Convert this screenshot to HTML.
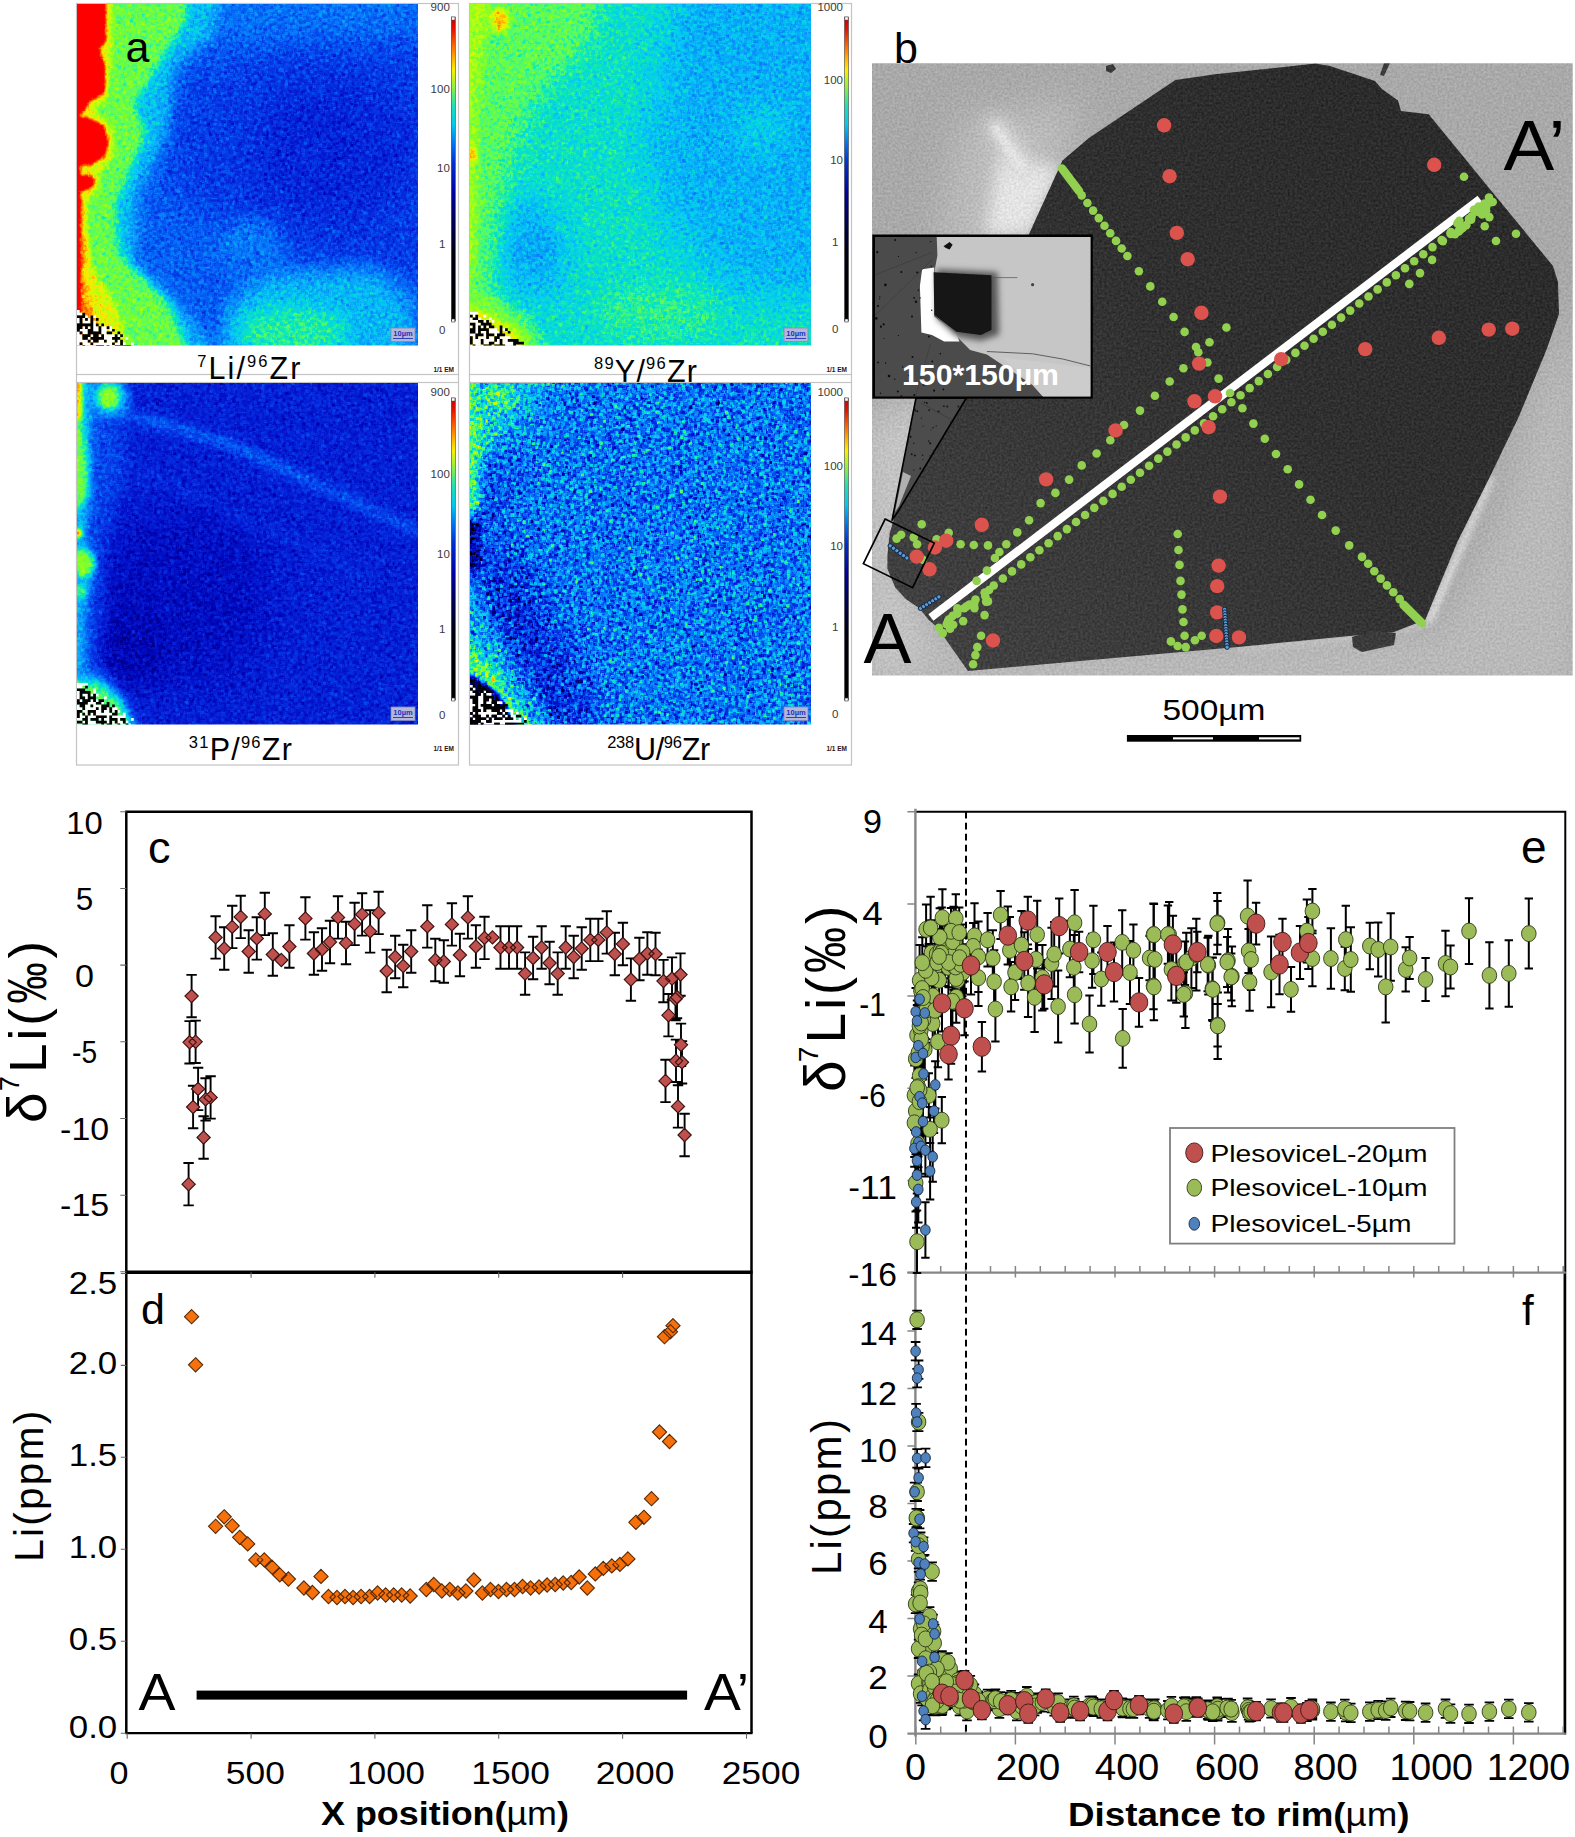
<!DOCTYPE html>
<html><head><meta charset="utf-8"><title>Figure</title>
<style>html,body{margin:0;padding:0;background:#fff}svg{display:block}text{font-family:"Liberation Sans", "DejaVu Sans", sans-serif}</style>
</head><body>
<svg width="1575" height="1837" viewBox="0 0 1575 1837">
<rect width="1575" height="1837" fill="#fff"/>
<defs>
<filter id="hf1" filterUnits="userSpaceOnUse" x="32" y="-41" width="431" height="431" color-interpolation-filters="sRGB">
<feTurbulence type="fractalNoise" baseFrequency="0.42" numOctaves="2" seed="3" result="n1"/>
<feColorMatrix in="n1" type="matrix" values="1 0 0 0 0 1 0 0 0 0 1 0 0 0 0 0 0 0 0 1" result="g1"/>
<feMorphology in="g1" operator="dilate" radius="1.1" result="d1"/>
<feTurbulence type="fractalNoise" baseFrequency="0.42" numOctaves="2" seed="34" result="n2"/>
<feColorMatrix in="n2" type="matrix" values="1 0 0 0 0 1 0 0 0 0 1 0 0 0 0 0 0 0 0 1" result="g2"/>
<feMorphology in="g2" operator="erode" radius="1.1" result="d2"/>
<feComposite in="SourceGraphic" in2="d1" operator="arithmetic" k1="0" k2="1" k3="0.24" k4="-0.120" result="t"/>
<feComposite in="t" in2="d2" operator="arithmetic" k1="0" k2="1" k3="0.24" k4="-0.120" result="f"/>
<feComponentTransfer in="f"><feFuncR type="table" tableValues="0.000 0.000 0.000 0.020 0.020 0.020 0.039 0.020 0.039 0.314 0.510 0.725 0.980 1.000 1.000 1.000 1.000 1.000 1.000"/><feFuncG type="table" tableValues="0.000 0.000 0.000 0.098 0.235 0.412 0.588 0.784 0.902 0.980 1.000 1.000 0.922 0.647 0.373 0.098 0.000 0.000 0.000"/><feFuncB type="table" tableValues="0.000 0.353 0.667 0.824 0.910 0.973 0.980 0.961 0.745 0.431 0.157 0.059 0.000 0.000 0.000 0.000 0.000 0.000 0.000"/></feComponentTransfer></filter>
<clipPath id="hc1"><rect x="77" y="4" width="341" height="341.5"/></clipPath>
<filter id="hf2" filterUnits="userSpaceOnUse" x="425" y="-41" width="431" height="431" color-interpolation-filters="sRGB">
<feTurbulence type="fractalNoise" baseFrequency="0.42" numOctaves="2" seed="7" result="n1"/>
<feColorMatrix in="n1" type="matrix" values="1 0 0 0 0 1 0 0 0 0 1 0 0 0 0 0 0 0 0 1" result="g1"/>
<feMorphology in="g1" operator="dilate" radius="1.1" result="d1"/>
<feTurbulence type="fractalNoise" baseFrequency="0.42" numOctaves="2" seed="38" result="n2"/>
<feColorMatrix in="n2" type="matrix" values="1 0 0 0 0 1 0 0 0 0 1 0 0 0 0 0 0 0 0 1" result="g2"/>
<feMorphology in="g2" operator="erode" radius="1.1" result="d2"/>
<feComposite in="SourceGraphic" in2="d1" operator="arithmetic" k1="0" k2="1" k3="0.24" k4="-0.120" result="t"/>
<feComposite in="t" in2="d2" operator="arithmetic" k1="0" k2="1" k3="0.24" k4="-0.120" result="f"/>
<feComponentTransfer in="f"><feFuncR type="table" tableValues="0.000 0.000 0.000 0.020 0.020 0.020 0.039 0.020 0.039 0.314 0.510 0.725 0.980 1.000 1.000 1.000 1.000 1.000 1.000"/><feFuncG type="table" tableValues="0.000 0.000 0.000 0.098 0.235 0.412 0.588 0.784 0.902 0.980 1.000 1.000 0.922 0.647 0.373 0.098 0.000 0.000 0.000"/><feFuncB type="table" tableValues="0.000 0.353 0.667 0.824 0.910 0.973 0.980 0.961 0.745 0.431 0.157 0.059 0.000 0.000 0.000 0.000 0.000 0.000 0.000"/></feComponentTransfer></filter>
<clipPath id="hc2"><rect x="470" y="4" width="341" height="341.5"/></clipPath>
<filter id="hf3" filterUnits="userSpaceOnUse" x="32" y="338" width="431" height="431" color-interpolation-filters="sRGB">
<feTurbulence type="fractalNoise" baseFrequency="0.42" numOctaves="2" seed="11" result="n1"/>
<feColorMatrix in="n1" type="matrix" values="1 0 0 0 0 1 0 0 0 0 1 0 0 0 0 0 0 0 0 1" result="g1"/>
<feMorphology in="g1" operator="dilate" radius="1.1" result="d1"/>
<feTurbulence type="fractalNoise" baseFrequency="0.42" numOctaves="2" seed="42" result="n2"/>
<feColorMatrix in="n2" type="matrix" values="1 0 0 0 0 1 0 0 0 0 1 0 0 0 0 0 0 0 0 1" result="g2"/>
<feMorphology in="g2" operator="erode" radius="1.1" result="d2"/>
<feComposite in="SourceGraphic" in2="d1" operator="arithmetic" k1="0" k2="1" k3="0.22" k4="-0.110" result="t"/>
<feComposite in="t" in2="d2" operator="arithmetic" k1="0" k2="1" k3="0.22" k4="-0.110" result="f"/>
<feComponentTransfer in="f"><feFuncR type="table" tableValues="0.000 0.000 0.000 0.020 0.020 0.020 0.039 0.020 0.039 0.314 0.510 0.725 0.980 1.000 1.000 1.000 1.000 1.000 1.000"/><feFuncG type="table" tableValues="0.000 0.000 0.000 0.098 0.235 0.412 0.588 0.784 0.902 0.980 1.000 1.000 0.922 0.647 0.373 0.098 0.000 0.000 0.000"/><feFuncB type="table" tableValues="0.000 0.353 0.667 0.824 0.910 0.973 0.980 0.961 0.745 0.431 0.157 0.059 0.000 0.000 0.000 0.000 0.000 0.000 0.000"/></feComponentTransfer></filter>
<clipPath id="hc3"><rect x="77" y="383" width="341" height="341.5"/></clipPath>
<filter id="hf4" filterUnits="userSpaceOnUse" x="425" y="338" width="431" height="431" color-interpolation-filters="sRGB">
<feTurbulence type="fractalNoise" baseFrequency="0.42" numOctaves="2" seed="17" result="n1"/>
<feColorMatrix in="n1" type="matrix" values="1 0 0 0 0 1 0 0 0 0 1 0 0 0 0 0 0 0 0 1" result="g1"/>
<feMorphology in="g1" operator="dilate" radius="1.1" result="d1"/>
<feTurbulence type="fractalNoise" baseFrequency="0.42" numOctaves="2" seed="48" result="n2"/>
<feColorMatrix in="n2" type="matrix" values="1 0 0 0 0 1 0 0 0 0 1 0 0 0 0 0 0 0 0 1" result="g2"/>
<feMorphology in="g2" operator="erode" radius="1.1" result="d2"/>
<feComposite in="SourceGraphic" in2="d1" operator="arithmetic" k1="0" k2="1" k3="0.72" k4="-0.360" result="t"/>
<feComposite in="t" in2="d2" operator="arithmetic" k1="0" k2="1" k3="0.72" k4="-0.360" result="f"/>
<feComponentTransfer in="f"><feFuncR type="table" tableValues="0.000 0.000 0.000 0.020 0.020 0.020 0.039 0.020 0.039 0.314 0.510 0.725 0.980 1.000 1.000 1.000 1.000 1.000 1.000"/><feFuncG type="table" tableValues="0.000 0.000 0.000 0.098 0.235 0.412 0.588 0.784 0.902 0.980 1.000 1.000 0.922 0.647 0.373 0.098 0.000 0.000 0.000"/><feFuncB type="table" tableValues="0.000 0.353 0.667 0.824 0.910 0.973 0.980 0.961 0.745 0.431 0.157 0.059 0.000 0.000 0.000 0.000 0.000 0.000 0.000"/></feComponentTransfer></filter>
<clipPath id="hc4"><rect x="470" y="383" width="341" height="341.5"/></clipPath>
<filter id="hb2" filterUnits="userSpaceOnUse" x="-120" y="-120" width="600" height="600" color-interpolation-filters="sRGB"><feGaussianBlur stdDeviation="2"/></filter>
<filter id="hb3" filterUnits="userSpaceOnUse" x="-120" y="-120" width="600" height="600" color-interpolation-filters="sRGB"><feGaussianBlur stdDeviation="3"/></filter>
<filter id="hb3_5" filterUnits="userSpaceOnUse" x="-120" y="-120" width="600" height="600" color-interpolation-filters="sRGB"><feGaussianBlur stdDeviation="3.5"/></filter>
<filter id="hb4" filterUnits="userSpaceOnUse" x="-120" y="-120" width="600" height="600" color-interpolation-filters="sRGB"><feGaussianBlur stdDeviation="4"/></filter>
<filter id="hb4_5" filterUnits="userSpaceOnUse" x="-120" y="-120" width="600" height="600" color-interpolation-filters="sRGB"><feGaussianBlur stdDeviation="4.5"/></filter>
<filter id="hb5" filterUnits="userSpaceOnUse" x="-120" y="-120" width="600" height="600" color-interpolation-filters="sRGB"><feGaussianBlur stdDeviation="5"/></filter>
<filter id="hb6" filterUnits="userSpaceOnUse" x="-120" y="-120" width="600" height="600" color-interpolation-filters="sRGB"><feGaussianBlur stdDeviation="6"/></filter>
<filter id="hb7" filterUnits="userSpaceOnUse" x="-120" y="-120" width="600" height="600" color-interpolation-filters="sRGB"><feGaussianBlur stdDeviation="7"/></filter>
<filter id="hb8" filterUnits="userSpaceOnUse" x="-120" y="-120" width="600" height="600" color-interpolation-filters="sRGB"><feGaussianBlur stdDeviation="8"/></filter>
<filter id="hb10" filterUnits="userSpaceOnUse" x="-120" y="-120" width="600" height="600" color-interpolation-filters="sRGB"><feGaussianBlur stdDeviation="10"/></filter>
<filter id="hb12" filterUnits="userSpaceOnUse" x="-120" y="-120" width="600" height="600" color-interpolation-filters="sRGB"><feGaussianBlur stdDeviation="12"/></filter>
<filter id="hb14" filterUnits="userSpaceOnUse" x="-120" y="-120" width="600" height="600" color-interpolation-filters="sRGB"><feGaussianBlur stdDeviation="14"/></filter>
<filter id="hb16" filterUnits="userSpaceOnUse" x="-120" y="-120" width="600" height="600" color-interpolation-filters="sRGB"><feGaussianBlur stdDeviation="16"/></filter>
<filter id="hb18" filterUnits="userSpaceOnUse" x="-120" y="-120" width="600" height="600" color-interpolation-filters="sRGB"><feGaussianBlur stdDeviation="18"/></filter>
<filter id="hb20" filterUnits="userSpaceOnUse" x="-120" y="-120" width="600" height="600" color-interpolation-filters="sRGB"><feGaussianBlur stdDeviation="20"/></filter>
<linearGradient id="cbar" x1="0" y1="0" x2="0" y2="1">
<stop offset="0" stop-color="#c00000"/>
<stop offset="0.04" stop-color="#e81000"/>
<stop offset="0.1" stop-color="#ff7000"/>
<stop offset="0.145" stop-color="#ffc000"/>
<stop offset="0.175" stop-color="#f8f000"/>
<stop offset="0.23" stop-color="#90f040"/>
<stop offset="0.29" stop-color="#20e0b0"/>
<stop offset="0.355" stop-color="#00c8f0"/>
<stop offset="0.42" stop-color="#0070f0"/>
<stop offset="0.48" stop-color="#0030d0"/>
<stop offset="0.58" stop-color="#0000a0"/>
<stop offset="0.68" stop-color="#000050"/>
<stop offset="0.78" stop-color="#000010"/>
<stop offset="1" stop-color="#000000"/>
</linearGradient>
</defs>
<rect x="76.5" y="3.5" width="382.0" height="371.0" fill="#fff" stroke="#c4c4c4" stroke-width="1.2"/>
<g clip-path="url(#hc1)"><g filter="url(#hf1)"><g transform="translate(77,4)">
<rect x="-45" y="-45" width="431" height="431" fill="#444444"/>
<g filter="url(#hb12)"><rect x="90" y="-45" width="300" height="80" fill="#4a4a4a"/></g>
<g filter="url(#hb14)"><polygon points="110,70 190,48 386,35 386,265 330,275 220,255 150,215 100,200 85,130" fill="#393939"/></g>
<g filter="url(#hb18)"><ellipse cx="255" cy="150" rx="85" ry="70" fill="#303030"/></g>
<g filter="url(#hb10)"><ellipse cx="175" cy="240" rx="32" ry="25" fill="#4c4c4c"/></g>
<g filter="url(#hb10)"><polygon points="140,386 150,300 190,270 300,265 335,300 340,386" fill="#5f5f5f"/></g>
<g filter="url(#hb10)"><ellipse cx="215" cy="328" rx="55" ry="25" fill="#787878"/></g>
<g filter="url(#hb7)"><polygon points="-45,-45 155,-45 135,30 98,65 90,130 60,195 58,260 102,300 162,386 -45,386" fill="#616161"/></g>
<g filter="url(#hb4_5)"><polygon points="-45,-45 120,-45 106,22 80,62 58,100 68,130 56,160 38,200 42,250 92,300 126,386 -45,386" fill="#878787"/></g>
<g filter="url(#hb3)"><polygon points="-45,-45 36,-45 34,60 28,95 17,105 35,125 37,150 23,170 19,190 8,200 10,255 38,300 64,386 -45,386" fill="#a5a5a5"/></g>
<g filter="url(#hb3)"><polygon points="-45,190 6,195 8,215 4,225 10,235 12,255 5,268 14,300 40,386 -45,386" fill="#bebebe"/></g>
<g filter="url(#hb2)"><polygon points="-45,-45 28,-45 28,38 21,45 27,60 28,88 12,97 6,108 -45,108" fill="#ffffff"/><polygon points="-45,112 10,114 26,122 31,138 27,152 14,160 -45,162" fill="#ffffff"/><polygon points="-45,172 14,172 18,180 10,186 -45,186" fill="#ffffff"/><rect x="-45" y="-45" width="47.5" height="431" fill="#ffffff"/></g>
</g></g>
<g transform="translate(77,4)"><path d="M0.0 306.0h2.7v2.7h-2.7zM0.0 308.7h2.7v2.7h-2.7zM2.7 308.7h2.7v2.7h-2.7zM8.1 311.4h2.7v2.7h-2.7zM16.2 311.4h2.7v2.7h-2.7zM0.0 314.1h2.7v2.7h-2.7zM5.4 314.1h2.7v2.7h-2.7zM10.8 314.1h2.7v2.7h-2.7zM0.0 316.8h2.7v2.7h-2.7zM5.4 316.8h2.7v2.7h-2.7zM8.1 316.8h2.7v2.7h-2.7zM10.8 316.8h2.7v2.7h-2.7zM16.2 316.8h2.7v2.7h-2.7zM16.2 319.5h2.7v2.7h-2.7zM5.4 322.2h2.7v2.7h-2.7zM10.8 322.2h2.7v2.7h-2.7zM16.2 322.2h2.7v2.7h-2.7zM18.9 322.2h2.7v2.7h-2.7zM24.3 322.2h2.7v2.7h-2.7zM27.0 322.2h2.7v2.7h-2.7zM32.4 322.2h2.7v2.7h-2.7zM2.7 324.9h2.7v2.7h-2.7zM5.4 324.9h2.7v2.7h-2.7zM8.1 324.9h2.7v2.7h-2.7zM16.2 324.9h2.7v2.7h-2.7zM18.9 324.9h2.7v2.7h-2.7zM24.3 324.9h2.7v2.7h-2.7zM27.0 324.9h2.7v2.7h-2.7zM32.4 324.9h2.7v2.7h-2.7zM0.0 327.6h2.7v2.7h-2.7zM5.4 327.6h2.7v2.7h-2.7zM8.1 327.6h2.7v2.7h-2.7zM24.3 327.6h2.7v2.7h-2.7zM27.0 327.6h2.7v2.7h-2.7zM0.0 330.3h2.7v2.7h-2.7zM2.7 330.3h2.7v2.7h-2.7zM13.5 330.3h2.7v2.7h-2.7zM21.6 330.3h2.7v2.7h-2.7zM27.0 330.3h2.7v2.7h-2.7zM29.7 330.3h2.7v2.7h-2.7zM32.4 330.3h2.7v2.7h-2.7zM35.1 330.3h2.7v2.7h-2.7zM40.5 330.3h2.7v2.7h-2.7zM0.0 333.0h2.7v2.7h-2.7zM2.7 333.0h2.7v2.7h-2.7zM10.8 333.0h2.7v2.7h-2.7zM27.0 333.0h2.7v2.7h-2.7zM29.7 333.0h2.7v2.7h-2.7zM32.4 333.0h2.7v2.7h-2.7zM48.6 333.0h2.7v2.7h-2.7zM0.0 335.7h2.7v2.7h-2.7zM2.7 335.7h2.7v2.7h-2.7zM5.4 335.7h2.7v2.7h-2.7zM8.1 335.7h2.7v2.7h-2.7zM13.5 335.7h2.7v2.7h-2.7zM21.6 335.7h2.7v2.7h-2.7zM24.3 335.7h2.7v2.7h-2.7zM29.7 335.7h2.7v2.7h-2.7zM32.4 335.7h2.7v2.7h-2.7zM35.1 335.7h2.7v2.7h-2.7zM40.5 335.7h2.7v2.7h-2.7zM0.0 338.4h2.7v2.7h-2.7zM5.4 338.4h2.7v2.7h-2.7zM8.1 338.4h2.7v2.7h-2.7zM10.8 338.4h2.7v2.7h-2.7zM16.2 338.4h2.7v2.7h-2.7zM18.9 338.4h2.7v2.7h-2.7zM21.6 338.4h2.7v2.7h-2.7zM24.3 338.4h2.7v2.7h-2.7zM27.0 338.4h2.7v2.7h-2.7zM29.7 338.4h2.7v2.7h-2.7zM32.4 338.4h2.7v2.7h-2.7zM37.8 338.4h2.7v2.7h-2.7zM40.5 338.4h2.7v2.7h-2.7zM45.9 338.4h2.7v2.7h-2.7zM54.0 338.4h2.7v2.7h-2.7zM0.0 341.1h2.7v2.7h-2.7zM2.7 341.1h2.7v2.7h-2.7zM8.1 341.1h2.7v2.7h-2.7zM10.8 341.1h2.7v2.7h-2.7zM13.5 341.1h2.7v2.7h-2.7zM16.2 341.1h2.7v2.7h-2.7zM27.0 341.1h2.7v2.7h-2.7zM32.4 341.1h2.7v2.7h-2.7zM35.1 341.1h2.7v2.7h-2.7z" fill="#fff"/><path d="M5.4 308.7h2.7v2.7h-2.7zM0.0 311.4h2.7v2.7h-2.7zM2.7 311.4h2.7v2.7h-2.7zM5.4 311.4h2.7v2.7h-2.7zM13.5 311.4h2.7v2.7h-2.7zM2.7 314.1h2.7v2.7h-2.7zM8.1 314.1h2.7v2.7h-2.7zM13.5 314.1h2.7v2.7h-2.7zM18.9 314.1h2.7v2.7h-2.7zM2.7 316.8h2.7v2.7h-2.7zM13.5 316.8h2.7v2.7h-2.7zM0.0 319.5h2.7v2.7h-2.7zM2.7 319.5h2.7v2.7h-2.7zM5.4 319.5h2.7v2.7h-2.7zM8.1 319.5h2.7v2.7h-2.7zM10.8 319.5h2.7v2.7h-2.7zM13.5 319.5h2.7v2.7h-2.7zM18.9 319.5h2.7v2.7h-2.7zM24.3 319.5h2.7v2.7h-2.7zM0.0 322.2h2.7v2.7h-2.7zM2.7 322.2h2.7v2.7h-2.7zM8.1 322.2h2.7v2.7h-2.7zM13.5 322.2h2.7v2.7h-2.7zM21.6 322.2h2.7v2.7h-2.7zM29.7 322.2h2.7v2.7h-2.7zM0.0 324.9h2.7v2.7h-2.7zM10.8 324.9h2.7v2.7h-2.7zM13.5 324.9h2.7v2.7h-2.7zM21.6 324.9h2.7v2.7h-2.7zM35.1 324.9h2.7v2.7h-2.7zM2.7 327.6h2.7v2.7h-2.7zM10.8 327.6h2.7v2.7h-2.7zM13.5 327.6h2.7v2.7h-2.7zM16.2 327.6h2.7v2.7h-2.7zM18.9 327.6h2.7v2.7h-2.7zM21.6 327.6h2.7v2.7h-2.7zM29.7 327.6h2.7v2.7h-2.7zM32.4 327.6h2.7v2.7h-2.7zM40.5 327.6h2.7v2.7h-2.7zM5.4 330.3h2.7v2.7h-2.7zM8.1 330.3h2.7v2.7h-2.7zM10.8 330.3h2.7v2.7h-2.7zM16.2 330.3h2.7v2.7h-2.7zM18.9 330.3h2.7v2.7h-2.7zM24.3 330.3h2.7v2.7h-2.7zM37.8 330.3h2.7v2.7h-2.7zM43.2 330.3h2.7v2.7h-2.7zM5.4 333.0h2.7v2.7h-2.7zM8.1 333.0h2.7v2.7h-2.7zM13.5 333.0h2.7v2.7h-2.7zM16.2 333.0h2.7v2.7h-2.7zM18.9 333.0h2.7v2.7h-2.7zM21.6 333.0h2.7v2.7h-2.7zM24.3 333.0h2.7v2.7h-2.7zM35.1 333.0h2.7v2.7h-2.7zM37.8 333.0h2.7v2.7h-2.7zM40.5 333.0h2.7v2.7h-2.7zM10.8 335.7h2.7v2.7h-2.7zM16.2 335.7h2.7v2.7h-2.7zM18.9 335.7h2.7v2.7h-2.7zM27.0 335.7h2.7v2.7h-2.7zM37.8 335.7h2.7v2.7h-2.7zM43.2 335.7h2.7v2.7h-2.7zM2.7 338.4h2.7v2.7h-2.7zM13.5 338.4h2.7v2.7h-2.7zM35.1 338.4h2.7v2.7h-2.7zM43.2 338.4h2.7v2.7h-2.7zM5.4 341.1h2.7v2.7h-2.7zM18.9 341.1h2.7v2.7h-2.7zM21.6 341.1h2.7v2.7h-2.7zM24.3 341.1h2.7v2.7h-2.7zM29.7 341.1h2.7v2.7h-2.7zM37.8 341.1h2.7v2.7h-2.7zM40.5 341.1h2.7v2.7h-2.7zM43.2 341.1h2.7v2.7h-2.7zM45.9 341.1h2.7v2.7h-2.7zM48.6 341.1h2.7v2.7h-2.7zM51.3 341.1h2.7v2.7h-2.7z" fill="#000"/></g>
<rect x="391" y="328" width="24" height="13.5" fill="#b4b8d8" stroke="#8088c0" stroke-width="0.8"/>
<text x="403" y="336" font-size="7.5" text-anchor="middle" fill="#2030c0" font-weight="bold">10µm</text>
<line x1="393" y1="338.5" x2="413" y2="338.5" stroke="#3040c0" stroke-width="1"/>
</g>
<rect x="451.3" y="17" width="4" height="304" fill="url(#cbar)" stroke="#444" stroke-width="0.6"/>
<rect x="451.7" y="17" width="3.2" height="3" fill="#fff" stroke="#555" stroke-width="0.5"/>
<rect x="451.7" y="319" width="3.2" height="3" fill="#fff" stroke="#333" stroke-width="0.6"/>
<text x="449.8" y="11" font-size="11.5" text-anchor="end" fill="#3a3a3a">900</text>
<text x="449.8" y="93" font-size="11.5" text-anchor="end" fill="#3a3a3a">100</text>
<text x="449.8" y="172" font-size="11.5" text-anchor="end" fill="#3a3a3a">10</text>
<text x="445.3" y="247.5" font-size="11.5" text-anchor="end" fill="#3a3a3a">1</text>
<text x="445.3" y="334" font-size="11.5" text-anchor="end" fill="#3a3a3a">0</text>
<text x="454.0" y="371.5" font-size="6.5" text-anchor="end" fill="#301010" font-weight="bold">1/1 EM</text>
<text x="197.3" y="379.3" font-size="30.5" text-anchor="start" textLength="103" lengthAdjust="spacing"><tspan font-size="16.5" dy="-12.5">7</tspan><tspan dy="12.5">Li/</tspan><tspan font-size="16.5" dy="-12.5">96</tspan><tspan dy="12.5">Zr</tspan></text>
<rect x="469.5" y="3.5" width="382.0" height="371.0" fill="#fff" stroke="#c4c4c4" stroke-width="1.2"/>
<g clip-path="url(#hc2)"><g filter="url(#hf2)"><g transform="translate(470,4)">
<rect x="-45" y="-45" width="431" height="431" fill="#606060"/>
<g filter="url(#hb20)"><polygon points="210,-45 386,-45 386,290 330,275 260,245 215,150" fill="#5d5d5d"/></g>
<g filter="url(#hb18)"><polygon points="-45,-45 210,-45 190,60 170,150 200,230 260,290 386,300 386,386 -45,386" fill="#6f6f6f"/></g>
<g filter="url(#hb16)"><ellipse cx="62" cy="245" rx="32" ry="50" fill="#5a5a5a" transform="rotate(-15 62 245)"/></g>
<g filter="url(#hb12)"><polygon points="-45,-45 140,-45 120,40 60,100 30,200 20,290 -45,300" fill="#838383"/></g>
<g filter="url(#hb12)"><ellipse cx="190" cy="308" rx="60" ry="28" fill="#787878"/></g>
<g filter="url(#hb12)"><ellipse cx="290" cy="125" rx="30" ry="25" fill="#666666"/></g>
<g filter="url(#hb5)"><polygon points="-45,-45 30,-45 14,40 8,100 6,150 8,200 3,280 -45,280" fill="#969696"/></g>
<g filter="url(#hb3)"><ellipse cx="30" cy="16" rx="9" ry="13" fill="#b3b3b3"/></g>
<g filter="url(#hb3)"><ellipse cx="2" cy="150" rx="5" ry="8" fill="#b5b5b5"/></g>
<g filter="url(#hb7)"><polygon points="-45,270 16,287 62,322 88,386 -45,386" fill="#8d8d8d"/></g>
<g filter="url(#hb4)"><polygon points="-45,302 12,308 50,332 60,386 -45,386" fill="#acacac"/></g>
</g></g>
<g transform="translate(470,4)"><path d="M0.0 308.0h2.7v2.7h-2.7zM2.7 308.0h2.7v2.7h-2.7zM5.4 308.0h2.7v2.7h-2.7zM2.7 310.7h2.7v2.7h-2.7zM13.5 310.7h2.7v2.7h-2.7zM0.0 313.4h2.7v2.7h-2.7zM8.1 313.4h2.7v2.7h-2.7zM18.9 313.4h2.7v2.7h-2.7zM0.0 316.1h2.7v2.7h-2.7zM2.7 316.1h2.7v2.7h-2.7zM5.4 316.1h2.7v2.7h-2.7zM13.5 316.1h2.7v2.7h-2.7zM21.6 316.1h2.7v2.7h-2.7zM5.4 318.8h2.7v2.7h-2.7zM8.1 318.8h2.7v2.7h-2.7zM0.0 321.5h2.7v2.7h-2.7zM5.4 321.5h2.7v2.7h-2.7zM10.8 321.5h2.7v2.7h-2.7zM16.2 321.5h2.7v2.7h-2.7zM5.4 324.2h2.7v2.7h-2.7zM18.9 324.2h2.7v2.7h-2.7zM21.6 324.2h2.7v2.7h-2.7zM24.3 324.2h2.7v2.7h-2.7zM32.4 324.2h2.7v2.7h-2.7zM5.4 326.9h2.7v2.7h-2.7zM10.8 326.9h2.7v2.7h-2.7zM13.5 326.9h2.7v2.7h-2.7zM18.9 326.9h2.7v2.7h-2.7zM21.6 326.9h2.7v2.7h-2.7zM24.3 326.9h2.7v2.7h-2.7zM27.0 326.9h2.7v2.7h-2.7zM0.0 329.6h2.7v2.7h-2.7zM2.7 329.6h2.7v2.7h-2.7zM13.5 329.6h2.7v2.7h-2.7zM24.3 329.6h2.7v2.7h-2.7zM2.7 332.3h2.7v2.7h-2.7zM8.1 332.3h2.7v2.7h-2.7zM10.8 332.3h2.7v2.7h-2.7zM13.5 332.3h2.7v2.7h-2.7zM18.9 332.3h2.7v2.7h-2.7zM21.6 332.3h2.7v2.7h-2.7zM29.7 332.3h2.7v2.7h-2.7zM32.4 332.3h2.7v2.7h-2.7zM35.1 332.3h2.7v2.7h-2.7zM37.8 332.3h2.7v2.7h-2.7zM2.7 335.0h2.7v2.7h-2.7zM5.4 335.0h2.7v2.7h-2.7zM8.1 335.0h2.7v2.7h-2.7zM13.5 335.0h2.7v2.7h-2.7zM16.2 335.0h2.7v2.7h-2.7zM18.9 335.0h2.7v2.7h-2.7zM21.6 335.0h2.7v2.7h-2.7zM27.0 335.0h2.7v2.7h-2.7zM32.4 335.0h2.7v2.7h-2.7zM35.1 335.0h2.7v2.7h-2.7zM2.7 337.7h2.7v2.7h-2.7zM5.4 337.7h2.7v2.7h-2.7zM8.1 337.7h2.7v2.7h-2.7zM13.5 337.7h2.7v2.7h-2.7zM16.2 337.7h2.7v2.7h-2.7zM24.3 337.7h2.7v2.7h-2.7zM27.0 337.7h2.7v2.7h-2.7zM32.4 337.7h2.7v2.7h-2.7zM35.1 337.7h2.7v2.7h-2.7zM37.8 337.7h2.7v2.7h-2.7zM40.5 337.7h2.7v2.7h-2.7zM0.0 340.4h2.7v2.7h-2.7zM5.4 340.4h2.7v2.7h-2.7zM8.1 340.4h2.7v2.7h-2.7zM10.8 340.4h2.7v2.7h-2.7zM21.6 340.4h2.7v2.7h-2.7zM35.1 340.4h2.7v2.7h-2.7zM37.8 340.4h2.7v2.7h-2.7zM40.5 340.4h2.7v2.7h-2.7zM45.9 340.4h2.7v2.7h-2.7zM48.6 340.4h2.7v2.7h-2.7z" fill="#fff"/><path d="M0.0 310.7h2.7v2.7h-2.7zM5.4 310.7h2.7v2.7h-2.7zM2.7 313.4h2.7v2.7h-2.7zM5.4 313.4h2.7v2.7h-2.7zM8.1 316.1h2.7v2.7h-2.7zM10.8 316.1h2.7v2.7h-2.7zM16.2 316.1h2.7v2.7h-2.7zM0.0 318.8h2.7v2.7h-2.7zM2.7 318.8h2.7v2.7h-2.7zM10.8 318.8h2.7v2.7h-2.7zM13.5 318.8h2.7v2.7h-2.7zM16.2 318.8h2.7v2.7h-2.7zM18.9 318.8h2.7v2.7h-2.7zM2.7 321.5h2.7v2.7h-2.7zM8.1 321.5h2.7v2.7h-2.7zM13.5 321.5h2.7v2.7h-2.7zM18.9 321.5h2.7v2.7h-2.7zM21.6 321.5h2.7v2.7h-2.7zM29.7 321.5h2.7v2.7h-2.7zM0.0 324.2h2.7v2.7h-2.7zM2.7 324.2h2.7v2.7h-2.7zM8.1 324.2h2.7v2.7h-2.7zM10.8 324.2h2.7v2.7h-2.7zM13.5 324.2h2.7v2.7h-2.7zM16.2 324.2h2.7v2.7h-2.7zM29.7 324.2h2.7v2.7h-2.7zM35.1 324.2h2.7v2.7h-2.7zM0.0 326.9h2.7v2.7h-2.7zM2.7 326.9h2.7v2.7h-2.7zM8.1 326.9h2.7v2.7h-2.7zM16.2 326.9h2.7v2.7h-2.7zM29.7 326.9h2.7v2.7h-2.7zM37.8 326.9h2.7v2.7h-2.7zM5.4 329.6h2.7v2.7h-2.7zM8.1 329.6h2.7v2.7h-2.7zM10.8 329.6h2.7v2.7h-2.7zM16.2 329.6h2.7v2.7h-2.7zM18.9 329.6h2.7v2.7h-2.7zM21.6 329.6h2.7v2.7h-2.7zM27.0 329.6h2.7v2.7h-2.7zM29.7 329.6h2.7v2.7h-2.7zM32.4 329.6h2.7v2.7h-2.7zM0.0 332.3h2.7v2.7h-2.7zM5.4 332.3h2.7v2.7h-2.7zM16.2 332.3h2.7v2.7h-2.7zM24.3 332.3h2.7v2.7h-2.7zM27.0 332.3h2.7v2.7h-2.7zM0.0 335.0h2.7v2.7h-2.7zM10.8 335.0h2.7v2.7h-2.7zM24.3 335.0h2.7v2.7h-2.7zM29.7 335.0h2.7v2.7h-2.7zM37.8 335.0h2.7v2.7h-2.7zM40.5 335.0h2.7v2.7h-2.7zM43.2 335.0h2.7v2.7h-2.7zM45.9 335.0h2.7v2.7h-2.7zM0.0 337.7h2.7v2.7h-2.7zM10.8 337.7h2.7v2.7h-2.7zM18.9 337.7h2.7v2.7h-2.7zM21.6 337.7h2.7v2.7h-2.7zM29.7 337.7h2.7v2.7h-2.7zM43.2 337.7h2.7v2.7h-2.7zM45.9 337.7h2.7v2.7h-2.7zM48.6 337.7h2.7v2.7h-2.7zM51.3 337.7h2.7v2.7h-2.7zM2.7 340.4h2.7v2.7h-2.7zM13.5 340.4h2.7v2.7h-2.7zM16.2 340.4h2.7v2.7h-2.7zM18.9 340.4h2.7v2.7h-2.7zM24.3 340.4h2.7v2.7h-2.7zM27.0 340.4h2.7v2.7h-2.7zM29.7 340.4h2.7v2.7h-2.7zM32.4 340.4h2.7v2.7h-2.7zM43.2 340.4h2.7v2.7h-2.7z" fill="#000"/></g>
<rect x="784" y="328" width="24" height="13.5" fill="#b4b8d8" stroke="#8088c0" stroke-width="0.8"/>
<text x="796" y="336" font-size="7.5" text-anchor="middle" fill="#2030c0" font-weight="bold">10µm</text>
<line x1="786" y1="338.5" x2="806" y2="338.5" stroke="#3040c0" stroke-width="1"/>
</g>
<rect x="844.5" y="17" width="4" height="304" fill="url(#cbar)" stroke="#444" stroke-width="0.6"/>
<rect x="844.9" y="17" width="3.2" height="3" fill="#fff" stroke="#555" stroke-width="0.5"/>
<rect x="844.9" y="319" width="3.2" height="3" fill="#fff" stroke="#333" stroke-width="0.6"/>
<text x="843.0" y="11" font-size="11.5" text-anchor="end" fill="#3a3a3a">1000</text>
<text x="843.0" y="84" font-size="11.5" text-anchor="end" fill="#3a3a3a">100</text>
<text x="843.0" y="164" font-size="11.5" text-anchor="end" fill="#3a3a3a">10</text>
<text x="838.5" y="245.5" font-size="11.5" text-anchor="end" fill="#3a3a3a">1</text>
<text x="838.5" y="332.5" font-size="11.5" text-anchor="end" fill="#3a3a3a">0</text>
<text x="847.0" y="371.5" font-size="6.5" text-anchor="end" fill="#301010" font-weight="bold">1/1 EM</text>
<text x="594" y="381.8" font-size="30.5" text-anchor="start" textLength="103" lengthAdjust="spacing"><tspan font-size="16.5" dy="-12.5">89</tspan><tspan dy="12.5">Y/</tspan><tspan font-size="16.5" dy="-12.5">96</tspan><tspan dy="12.5">Zr</tspan></text>
<rect x="76.5" y="382.5" width="382.0" height="382.5" fill="#fff" stroke="#c4c4c4" stroke-width="1.2"/>
<g clip-path="url(#hc3)"><g filter="url(#hf3)"><g transform="translate(77,383)">
<rect x="-45" y="-45" width="431" height="431" fill="#2d2d2d"/>
<g filter="url(#hb20)"><ellipse cx="100" cy="215" rx="95" ry="90" fill="#252525"/></g>
<g filter="url(#hb10)"><ellipse cx="50" cy="265" rx="35" ry="40" fill="#202020"/></g>
<g filter="url(#hb4)"><line x1="45" y1="30" x2="150" y2="60" stroke="#464646" stroke-width="11" stroke-linecap="round"/><line x1="150" y1="60" x2="215" y2="90" stroke="#444444" stroke-width="11" stroke-linecap="round"/><line x1="215" y1="90" x2="290" y2="125" stroke="#424242" stroke-width="11" stroke-linecap="round"/><line x1="290" y1="125" x2="350" y2="152" stroke="#3f3f3f" stroke-width="11" stroke-linecap="round"/></g>
<g filter="url(#hb5)"><line x1="30" y1="70" x2="300" y2="200" stroke="#333333" stroke-width="8" stroke-linecap="round"/></g>
<g filter="url(#hb8)"><polygon points="-45,-45 48,-45 45,100 30,140 20,300 -45,300" fill="#3c3c3c"/></g>
<g filter="url(#hb4)"><polygon points="-45,-45 16,-45 14,110 8,160 18,180 8,230 8,295 -45,295" fill="#5f5f5f"/></g>
<g filter="url(#hb6)"><ellipse cx="32" cy="14" rx="20" ry="20" fill="#5f5f5f"/></g>
<g filter="url(#hb3_5)"><ellipse cx="32" cy="14" rx="11" ry="12" fill="#919191"/></g>
<g filter="url(#hb3)"><polygon points="-45,-45 5,-45 5,40 10,80 10,110 4,125 -45,125" fill="#888888"/></g>
<g filter="url(#hb2)"><rect x="-45" y="-45" width="49" height="80" fill="#b5b5b5"/></g>
<g filter="url(#hb2)"><ellipse cx="1" cy="150" rx="3.5" ry="4" fill="#d1d1d1"/></g>
<g filter="url(#hb3)"><ellipse cx="6" cy="180" rx="11" ry="14" fill="#8d8d8d"/></g>
<g filter="url(#hb3)"><ellipse cx="3" cy="208" rx="6" ry="6" fill="#888888"/></g>
<g filter="url(#hb8)"><polygon points="-45,280 30,292 85,386 -45,386" fill="#525252"/></g>
<g filter="url(#hb4)"><polygon points="-45,292 22,298 45,318 70,386 -45,386" fill="#7f7f7f"/></g>
</g></g>
<g transform="translate(77,383)"><path d="M0.0 300.0h2.7v2.7h-2.7zM2.7 300.0h2.7v2.7h-2.7zM5.4 300.0h2.7v2.7h-2.7zM8.1 300.0h2.7v2.7h-2.7zM0.0 302.7h2.7v2.7h-2.7zM2.7 302.7h2.7v2.7h-2.7zM16.2 305.4h2.7v2.7h-2.7zM0.0 308.1h2.7v2.7h-2.7zM16.2 308.1h2.7v2.7h-2.7zM0.0 310.8h2.7v2.7h-2.7zM5.4 310.8h2.7v2.7h-2.7zM8.1 310.8h2.7v2.7h-2.7zM13.5 310.8h2.7v2.7h-2.7zM18.9 310.8h2.7v2.7h-2.7zM0.0 313.5h2.7v2.7h-2.7zM8.1 313.5h2.7v2.7h-2.7zM27.0 313.5h2.7v2.7h-2.7zM2.7 316.2h2.7v2.7h-2.7zM13.5 316.2h2.7v2.7h-2.7zM18.9 316.2h2.7v2.7h-2.7zM10.8 318.9h2.7v2.7h-2.7zM13.5 318.9h2.7v2.7h-2.7zM16.2 318.9h2.7v2.7h-2.7zM24.3 318.9h2.7v2.7h-2.7zM0.0 321.6h2.7v2.7h-2.7zM8.1 321.6h2.7v2.7h-2.7zM10.8 321.6h2.7v2.7h-2.7zM16.2 321.6h2.7v2.7h-2.7zM18.9 321.6h2.7v2.7h-2.7zM21.6 321.6h2.7v2.7h-2.7zM0.0 324.3h2.7v2.7h-2.7zM2.7 324.3h2.7v2.7h-2.7zM8.1 324.3h2.7v2.7h-2.7zM10.8 324.3h2.7v2.7h-2.7zM13.5 324.3h2.7v2.7h-2.7zM16.2 324.3h2.7v2.7h-2.7zM21.6 324.3h2.7v2.7h-2.7zM29.7 324.3h2.7v2.7h-2.7zM35.1 324.3h2.7v2.7h-2.7zM37.8 324.3h2.7v2.7h-2.7zM5.4 327.0h2.7v2.7h-2.7zM8.1 327.0h2.7v2.7h-2.7zM18.9 327.0h2.7v2.7h-2.7zM21.6 327.0h2.7v2.7h-2.7zM27.0 327.0h2.7v2.7h-2.7zM29.7 327.0h2.7v2.7h-2.7zM35.1 327.0h2.7v2.7h-2.7zM40.5 327.0h2.7v2.7h-2.7zM2.7 329.7h2.7v2.7h-2.7zM8.1 329.7h2.7v2.7h-2.7zM13.5 329.7h2.7v2.7h-2.7zM18.9 329.7h2.7v2.7h-2.7zM21.6 329.7h2.7v2.7h-2.7zM24.3 329.7h2.7v2.7h-2.7zM27.0 329.7h2.7v2.7h-2.7zM29.7 329.7h2.7v2.7h-2.7zM32.4 329.7h2.7v2.7h-2.7zM45.9 329.7h2.7v2.7h-2.7zM2.7 332.4h2.7v2.7h-2.7zM5.4 332.4h2.7v2.7h-2.7zM10.8 332.4h2.7v2.7h-2.7zM13.5 332.4h2.7v2.7h-2.7zM16.2 332.4h2.7v2.7h-2.7zM29.7 332.4h2.7v2.7h-2.7zM35.1 332.4h2.7v2.7h-2.7zM37.8 332.4h2.7v2.7h-2.7zM40.5 332.4h2.7v2.7h-2.7zM43.2 332.4h2.7v2.7h-2.7zM45.9 332.4h2.7v2.7h-2.7zM0.0 335.1h2.7v2.7h-2.7zM2.7 335.1h2.7v2.7h-2.7zM10.8 335.1h2.7v2.7h-2.7zM21.6 335.1h2.7v2.7h-2.7zM27.0 335.1h2.7v2.7h-2.7zM29.7 335.1h2.7v2.7h-2.7zM40.5 335.1h2.7v2.7h-2.7zM54.0 335.1h2.7v2.7h-2.7zM5.4 337.8h2.7v2.7h-2.7zM10.8 337.8h2.7v2.7h-2.7zM13.5 337.8h2.7v2.7h-2.7zM16.2 337.8h2.7v2.7h-2.7zM29.7 337.8h2.7v2.7h-2.7zM35.1 337.8h2.7v2.7h-2.7zM40.5 337.8h2.7v2.7h-2.7zM43.2 337.8h2.7v2.7h-2.7zM48.6 337.8h2.7v2.7h-2.7zM0.0 340.5h2.7v2.7h-2.7zM2.7 340.5h2.7v2.7h-2.7zM10.8 340.5h2.7v2.7h-2.7zM13.5 340.5h2.7v2.7h-2.7zM16.2 340.5h2.7v2.7h-2.7zM18.9 340.5h2.7v2.7h-2.7zM21.6 340.5h2.7v2.7h-2.7zM27.0 340.5h2.7v2.7h-2.7zM35.1 340.5h2.7v2.7h-2.7zM37.8 340.5h2.7v2.7h-2.7zM43.2 340.5h2.7v2.7h-2.7zM45.9 340.5h2.7v2.7h-2.7zM51.3 340.5h2.7v2.7h-2.7z" fill="#fff"/><path d="M8.1 302.7h2.7v2.7h-2.7zM0.0 305.4h2.7v2.7h-2.7zM2.7 305.4h2.7v2.7h-2.7zM5.4 305.4h2.7v2.7h-2.7zM2.7 308.1h2.7v2.7h-2.7zM5.4 308.1h2.7v2.7h-2.7zM8.1 308.1h2.7v2.7h-2.7zM10.8 308.1h2.7v2.7h-2.7zM2.7 310.8h2.7v2.7h-2.7zM10.8 310.8h2.7v2.7h-2.7zM16.2 310.8h2.7v2.7h-2.7zM2.7 313.5h2.7v2.7h-2.7zM5.4 313.5h2.7v2.7h-2.7zM10.8 313.5h2.7v2.7h-2.7zM13.5 313.5h2.7v2.7h-2.7zM16.2 313.5h2.7v2.7h-2.7zM0.0 316.2h2.7v2.7h-2.7zM5.4 316.2h2.7v2.7h-2.7zM8.1 316.2h2.7v2.7h-2.7zM10.8 316.2h2.7v2.7h-2.7zM16.2 316.2h2.7v2.7h-2.7zM21.6 316.2h2.7v2.7h-2.7zM24.3 316.2h2.7v2.7h-2.7zM0.0 318.9h2.7v2.7h-2.7zM2.7 318.9h2.7v2.7h-2.7zM5.4 318.9h2.7v2.7h-2.7zM8.1 318.9h2.7v2.7h-2.7zM18.9 318.9h2.7v2.7h-2.7zM21.6 318.9h2.7v2.7h-2.7zM29.7 318.9h2.7v2.7h-2.7zM2.7 321.6h2.7v2.7h-2.7zM5.4 321.6h2.7v2.7h-2.7zM13.5 321.6h2.7v2.7h-2.7zM24.3 321.6h2.7v2.7h-2.7zM27.0 321.6h2.7v2.7h-2.7zM29.7 321.6h2.7v2.7h-2.7zM35.1 321.6h2.7v2.7h-2.7zM5.4 324.3h2.7v2.7h-2.7zM18.9 324.3h2.7v2.7h-2.7zM24.3 324.3h2.7v2.7h-2.7zM27.0 324.3h2.7v2.7h-2.7zM32.4 324.3h2.7v2.7h-2.7zM0.0 327.0h2.7v2.7h-2.7zM2.7 327.0h2.7v2.7h-2.7zM10.8 327.0h2.7v2.7h-2.7zM13.5 327.0h2.7v2.7h-2.7zM16.2 327.0h2.7v2.7h-2.7zM24.3 327.0h2.7v2.7h-2.7zM32.4 327.0h2.7v2.7h-2.7zM37.8 327.0h2.7v2.7h-2.7zM0.0 329.7h2.7v2.7h-2.7zM5.4 329.7h2.7v2.7h-2.7zM10.8 329.7h2.7v2.7h-2.7zM16.2 329.7h2.7v2.7h-2.7zM35.1 329.7h2.7v2.7h-2.7zM37.8 329.7h2.7v2.7h-2.7zM0.0 332.4h2.7v2.7h-2.7zM8.1 332.4h2.7v2.7h-2.7zM18.9 332.4h2.7v2.7h-2.7zM21.6 332.4h2.7v2.7h-2.7zM24.3 332.4h2.7v2.7h-2.7zM27.0 332.4h2.7v2.7h-2.7zM32.4 332.4h2.7v2.7h-2.7zM5.4 335.1h2.7v2.7h-2.7zM8.1 335.1h2.7v2.7h-2.7zM13.5 335.1h2.7v2.7h-2.7zM16.2 335.1h2.7v2.7h-2.7zM18.9 335.1h2.7v2.7h-2.7zM24.3 335.1h2.7v2.7h-2.7zM32.4 335.1h2.7v2.7h-2.7zM35.1 335.1h2.7v2.7h-2.7zM37.8 335.1h2.7v2.7h-2.7zM43.2 335.1h2.7v2.7h-2.7zM45.9 335.1h2.7v2.7h-2.7zM0.0 337.8h2.7v2.7h-2.7zM2.7 337.8h2.7v2.7h-2.7zM8.1 337.8h2.7v2.7h-2.7zM18.9 337.8h2.7v2.7h-2.7zM21.6 337.8h2.7v2.7h-2.7zM24.3 337.8h2.7v2.7h-2.7zM27.0 337.8h2.7v2.7h-2.7zM32.4 337.8h2.7v2.7h-2.7zM37.8 337.8h2.7v2.7h-2.7zM45.9 337.8h2.7v2.7h-2.7zM5.4 340.5h2.7v2.7h-2.7zM8.1 340.5h2.7v2.7h-2.7zM24.3 340.5h2.7v2.7h-2.7zM29.7 340.5h2.7v2.7h-2.7zM32.4 340.5h2.7v2.7h-2.7zM40.5 340.5h2.7v2.7h-2.7zM48.6 340.5h2.7v2.7h-2.7z" fill="#000"/></g>
<rect x="391" y="707" width="24" height="13.5" fill="#b4b8d8" stroke="#8088c0" stroke-width="0.8"/>
<text x="403" y="715" font-size="7.5" text-anchor="middle" fill="#2030c0" font-weight="bold">10µm</text>
<line x1="393" y1="717.5" x2="413" y2="717.5" stroke="#3040c0" stroke-width="1"/>
</g>
<rect x="451.3" y="398" width="4" height="302" fill="url(#cbar)" stroke="#444" stroke-width="0.6"/>
<rect x="451.7" y="398" width="3.2" height="3" fill="#fff" stroke="#555" stroke-width="0.5"/>
<rect x="451.7" y="698" width="3.2" height="3" fill="#fff" stroke="#333" stroke-width="0.6"/>
<text x="449.8" y="396" font-size="11.5" text-anchor="end" fill="#3a3a3a">900</text>
<text x="449.8" y="478" font-size="11.5" text-anchor="end" fill="#3a3a3a">100</text>
<text x="449.8" y="558" font-size="11.5" text-anchor="end" fill="#3a3a3a">10</text>
<text x="445.3" y="633" font-size="11.5" text-anchor="end" fill="#3a3a3a">1</text>
<text x="445.3" y="719" font-size="11.5" text-anchor="end" fill="#3a3a3a">0</text>
<text x="454.0" y="750.5" font-size="6.5" text-anchor="end" fill="#301010" font-weight="bold">1/1 EM</text>
<text x="188.8" y="760" font-size="30.5" text-anchor="start" textLength="103" lengthAdjust="spacing"><tspan font-size="16.5" dy="-12.5">31</tspan><tspan dy="12.5">P/</tspan><tspan font-size="16.5" dy="-12.5">96</tspan><tspan dy="12.5">Zr</tspan></text>
<rect x="469.5" y="382.5" width="382.0" height="382.5" fill="#fff" stroke="#c4c4c4" stroke-width="1.2"/>
<g clip-path="url(#hc4)"><g filter="url(#hf4)"><g transform="translate(470,383)">
<rect x="-45" y="-45" width="431" height="431" fill="#4a4a4a"/>
<g filter="url(#hb16)"><polygon points="10,150 45,170 90,250 150,386 40,386 -10,250" fill="#333333"/></g>
<g filter="url(#hb16)"><polygon points="-45,60 30,80 40,150 10,200 -45,200" fill="#3d3d3d"/></g>
<g filter="url(#hb12)"><polygon points="-45,-45 110,-45 60,30 20,70 -45,90" fill="#646464"/></g>
<g filter="url(#hb6)"><ellipse cx="30" cy="14" rx="16" ry="12" fill="#7d7d7d"/></g>
<g filter="url(#hb4)"><polygon points="-45,-45 10,-45 12,60 8,130 -45,130" fill="#7d7d7d"/></g>
<g filter="url(#hb8)"><polygon points="-45,190 0,200 40,270 110,386 -45,386" fill="#5b5b5b"/></g>
<g filter="url(#hb5)"><polygon points="-45,250 0,260 35,300 85,386 -45,386" fill="#7f7f7f"/></g>
<g filter="url(#hb2)"><polygon points="-45,292 2,292 30,312 68,386 -45,386" fill="#000000"/></g>
<g filter="url(#hb2)"><rect x="-45" y="-45" width="47" height="20" fill="#000000"/><rect x="-45" y="140" width="54" height="45" fill="#171717"/></g>
</g></g>
<g transform="translate(470,383)"><path d="M0.0 302.0h2.7v2.7h-2.7zM2.7 304.7h2.7v2.7h-2.7zM0.0 307.4h2.7v2.7h-2.7zM13.5 307.4h2.7v2.7h-2.7zM0.0 310.1h2.7v2.7h-2.7zM2.7 310.1h2.7v2.7h-2.7zM10.8 310.1h2.7v2.7h-2.7zM16.2 310.1h2.7v2.7h-2.7zM18.9 310.1h2.7v2.7h-2.7zM8.1 312.8h2.7v2.7h-2.7zM10.8 312.8h2.7v2.7h-2.7zM0.0 315.5h2.7v2.7h-2.7zM8.1 315.5h2.7v2.7h-2.7zM10.8 315.5h2.7v2.7h-2.7zM18.9 315.5h2.7v2.7h-2.7zM0.0 318.2h2.7v2.7h-2.7zM8.1 318.2h2.7v2.7h-2.7zM10.8 318.2h2.7v2.7h-2.7zM16.2 318.2h2.7v2.7h-2.7zM18.9 318.2h2.7v2.7h-2.7zM27.0 318.2h2.7v2.7h-2.7zM29.7 318.2h2.7v2.7h-2.7zM0.0 320.9h2.7v2.7h-2.7zM2.7 320.9h2.7v2.7h-2.7zM8.1 320.9h2.7v2.7h-2.7zM21.6 320.9h2.7v2.7h-2.7zM0.0 323.6h2.7v2.7h-2.7zM8.1 323.6h2.7v2.7h-2.7zM10.8 323.6h2.7v2.7h-2.7zM0.0 326.3h2.7v2.7h-2.7zM10.8 326.3h2.7v2.7h-2.7zM16.2 326.3h2.7v2.7h-2.7zM18.9 326.3h2.7v2.7h-2.7zM29.7 326.3h2.7v2.7h-2.7zM35.1 326.3h2.7v2.7h-2.7zM37.8 326.3h2.7v2.7h-2.7zM40.5 326.3h2.7v2.7h-2.7zM2.7 329.0h2.7v2.7h-2.7zM8.1 329.0h2.7v2.7h-2.7zM10.8 329.0h2.7v2.7h-2.7zM13.5 329.0h2.7v2.7h-2.7zM16.2 329.0h2.7v2.7h-2.7zM18.9 329.0h2.7v2.7h-2.7zM21.6 329.0h2.7v2.7h-2.7zM24.3 329.0h2.7v2.7h-2.7zM32.4 329.0h2.7v2.7h-2.7zM40.5 329.0h2.7v2.7h-2.7zM45.9 329.0h2.7v2.7h-2.7zM0.0 331.7h2.7v2.7h-2.7zM10.8 331.7h2.7v2.7h-2.7zM13.5 331.7h2.7v2.7h-2.7zM18.9 331.7h2.7v2.7h-2.7zM27.0 331.7h2.7v2.7h-2.7zM29.7 331.7h2.7v2.7h-2.7zM35.1 331.7h2.7v2.7h-2.7zM40.5 331.7h2.7v2.7h-2.7zM43.2 331.7h2.7v2.7h-2.7zM2.7 334.4h2.7v2.7h-2.7zM16.2 334.4h2.7v2.7h-2.7zM21.6 334.4h2.7v2.7h-2.7zM32.4 334.4h2.7v2.7h-2.7zM43.2 334.4h2.7v2.7h-2.7zM48.6 334.4h2.7v2.7h-2.7zM54.0 334.4h2.7v2.7h-2.7zM10.8 337.1h2.7v2.7h-2.7zM13.5 337.1h2.7v2.7h-2.7zM21.6 337.1h2.7v2.7h-2.7zM24.3 337.1h2.7v2.7h-2.7zM27.0 337.1h2.7v2.7h-2.7zM29.7 337.1h2.7v2.7h-2.7zM32.4 337.1h2.7v2.7h-2.7zM35.1 337.1h2.7v2.7h-2.7zM37.8 337.1h2.7v2.7h-2.7zM40.5 337.1h2.7v2.7h-2.7zM43.2 337.1h2.7v2.7h-2.7zM45.9 337.1h2.7v2.7h-2.7zM48.6 337.1h2.7v2.7h-2.7zM8.1 339.8h2.7v2.7h-2.7zM13.5 339.8h2.7v2.7h-2.7zM16.2 339.8h2.7v2.7h-2.7zM18.9 339.8h2.7v2.7h-2.7zM21.6 339.8h2.7v2.7h-2.7zM29.7 339.8h2.7v2.7h-2.7zM32.4 339.8h2.7v2.7h-2.7zM2.7 342.5h2.7v2.7h-2.7zM5.4 342.5h2.7v2.7h-2.7zM8.1 342.5h2.7v2.7h-2.7zM10.8 342.5h2.7v2.7h-2.7zM16.2 342.5h2.7v2.7h-2.7zM18.9 342.5h2.7v2.7h-2.7zM24.3 342.5h2.7v2.7h-2.7zM29.7 342.5h2.7v2.7h-2.7zM32.4 342.5h2.7v2.7h-2.7zM54.0 342.5h2.7v2.7h-2.7z" fill="#fff"/><path d="M0.0 304.7h2.7v2.7h-2.7zM13.5 304.7h2.7v2.7h-2.7zM2.7 307.4h2.7v2.7h-2.7zM5.4 307.4h2.7v2.7h-2.7zM10.8 307.4h2.7v2.7h-2.7zM16.2 307.4h2.7v2.7h-2.7zM5.4 310.1h2.7v2.7h-2.7zM8.1 310.1h2.7v2.7h-2.7zM13.5 310.1h2.7v2.7h-2.7zM0.0 312.8h2.7v2.7h-2.7zM2.7 312.8h2.7v2.7h-2.7zM5.4 312.8h2.7v2.7h-2.7zM13.5 312.8h2.7v2.7h-2.7zM16.2 312.8h2.7v2.7h-2.7zM21.6 312.8h2.7v2.7h-2.7zM2.7 315.5h2.7v2.7h-2.7zM5.4 315.5h2.7v2.7h-2.7zM13.5 315.5h2.7v2.7h-2.7zM16.2 315.5h2.7v2.7h-2.7zM2.7 318.2h2.7v2.7h-2.7zM5.4 318.2h2.7v2.7h-2.7zM13.5 318.2h2.7v2.7h-2.7zM21.6 318.2h2.7v2.7h-2.7zM5.4 320.9h2.7v2.7h-2.7zM10.8 320.9h2.7v2.7h-2.7zM13.5 320.9h2.7v2.7h-2.7zM16.2 320.9h2.7v2.7h-2.7zM18.9 320.9h2.7v2.7h-2.7zM24.3 320.9h2.7v2.7h-2.7zM27.0 320.9h2.7v2.7h-2.7zM32.4 320.9h2.7v2.7h-2.7zM35.1 320.9h2.7v2.7h-2.7zM2.7 323.6h2.7v2.7h-2.7zM5.4 323.6h2.7v2.7h-2.7zM13.5 323.6h2.7v2.7h-2.7zM16.2 323.6h2.7v2.7h-2.7zM18.9 323.6h2.7v2.7h-2.7zM21.6 323.6h2.7v2.7h-2.7zM24.3 323.6h2.7v2.7h-2.7zM27.0 323.6h2.7v2.7h-2.7zM29.7 323.6h2.7v2.7h-2.7zM32.4 323.6h2.7v2.7h-2.7zM2.7 326.3h2.7v2.7h-2.7zM5.4 326.3h2.7v2.7h-2.7zM8.1 326.3h2.7v2.7h-2.7zM13.5 326.3h2.7v2.7h-2.7zM21.6 326.3h2.7v2.7h-2.7zM24.3 326.3h2.7v2.7h-2.7zM27.0 326.3h2.7v2.7h-2.7zM32.4 326.3h2.7v2.7h-2.7zM0.0 329.0h2.7v2.7h-2.7zM5.4 329.0h2.7v2.7h-2.7zM27.0 329.0h2.7v2.7h-2.7zM29.7 329.0h2.7v2.7h-2.7zM35.1 329.0h2.7v2.7h-2.7zM2.7 331.7h2.7v2.7h-2.7zM5.4 331.7h2.7v2.7h-2.7zM8.1 331.7h2.7v2.7h-2.7zM16.2 331.7h2.7v2.7h-2.7zM21.6 331.7h2.7v2.7h-2.7zM24.3 331.7h2.7v2.7h-2.7zM32.4 331.7h2.7v2.7h-2.7zM37.8 331.7h2.7v2.7h-2.7zM45.9 331.7h2.7v2.7h-2.7zM48.6 331.7h2.7v2.7h-2.7zM0.0 334.4h2.7v2.7h-2.7zM5.4 334.4h2.7v2.7h-2.7zM8.1 334.4h2.7v2.7h-2.7zM10.8 334.4h2.7v2.7h-2.7zM13.5 334.4h2.7v2.7h-2.7zM18.9 334.4h2.7v2.7h-2.7zM24.3 334.4h2.7v2.7h-2.7zM27.0 334.4h2.7v2.7h-2.7zM29.7 334.4h2.7v2.7h-2.7zM35.1 334.4h2.7v2.7h-2.7zM37.8 334.4h2.7v2.7h-2.7zM40.5 334.4h2.7v2.7h-2.7zM0.0 337.1h2.7v2.7h-2.7zM2.7 337.1h2.7v2.7h-2.7zM5.4 337.1h2.7v2.7h-2.7zM8.1 337.1h2.7v2.7h-2.7zM16.2 337.1h2.7v2.7h-2.7zM18.9 337.1h2.7v2.7h-2.7zM54.0 337.1h2.7v2.7h-2.7zM0.0 339.8h2.7v2.7h-2.7zM2.7 339.8h2.7v2.7h-2.7zM5.4 339.8h2.7v2.7h-2.7zM10.8 339.8h2.7v2.7h-2.7zM24.3 339.8h2.7v2.7h-2.7zM27.0 339.8h2.7v2.7h-2.7zM35.1 339.8h2.7v2.7h-2.7zM37.8 339.8h2.7v2.7h-2.7zM40.5 339.8h2.7v2.7h-2.7zM43.2 339.8h2.7v2.7h-2.7zM45.9 339.8h2.7v2.7h-2.7zM48.6 339.8h2.7v2.7h-2.7zM51.3 339.8h2.7v2.7h-2.7zM0.0 342.5h2.7v2.7h-2.7zM13.5 342.5h2.7v2.7h-2.7zM21.6 342.5h2.7v2.7h-2.7zM27.0 342.5h2.7v2.7h-2.7zM35.1 342.5h2.7v2.7h-2.7zM37.8 342.5h2.7v2.7h-2.7zM40.5 342.5h2.7v2.7h-2.7zM43.2 342.5h2.7v2.7h-2.7zM45.9 342.5h2.7v2.7h-2.7zM48.6 342.5h2.7v2.7h-2.7zM51.3 342.5h2.7v2.7h-2.7z" fill="#000"/></g>
<rect x="784" y="707" width="24" height="13.5" fill="#b4b8d8" stroke="#8088c0" stroke-width="0.8"/>
<text x="796" y="715" font-size="7.5" text-anchor="middle" fill="#2030c0" font-weight="bold">10µm</text>
<line x1="786" y1="717.5" x2="806" y2="717.5" stroke="#3040c0" stroke-width="1"/>
</g>
<rect x="844.5" y="398" width="4" height="302" fill="url(#cbar)" stroke="#444" stroke-width="0.6"/>
<rect x="844.9" y="398" width="3.2" height="3" fill="#fff" stroke="#555" stroke-width="0.5"/>
<rect x="844.9" y="698" width="3.2" height="3" fill="#fff" stroke="#333" stroke-width="0.6"/>
<text x="843.0" y="396" font-size="11.5" text-anchor="end" fill="#3a3a3a">1000</text>
<text x="843.0" y="470" font-size="11.5" text-anchor="end" fill="#3a3a3a">100</text>
<text x="843.0" y="550" font-size="11.5" text-anchor="end" fill="#3a3a3a">10</text>
<text x="838.5" y="631" font-size="11.5" text-anchor="end" fill="#3a3a3a">1</text>
<text x="838.5" y="718" font-size="11.5" text-anchor="end" fill="#3a3a3a">0</text>
<text x="847.0" y="750.5" font-size="6.5" text-anchor="end" fill="#301010" font-weight="bold">1/1 EM</text>
<text x="607.2" y="760" font-size="30.5" text-anchor="start" textLength="103" lengthAdjust="spacing"><tspan font-size="16.5" dy="-12.5">238</tspan><tspan dy="12.5">U/</tspan><tspan font-size="16.5" dy="-12.5">96</tspan><tspan dy="12.5">Zr</tspan></text>
<text x="125.5" y="61.5" font-size="43" text-anchor="start">a</text>
<path d="M76.5 374V383M458.5 374V383M469.5 374V383M851.5 374V383" stroke="#c4c4c4" stroke-width="1.2" fill="none"/>
<defs>
<clipPath id="pc"><rect x="872" y="63.3" width="700.7" height="612.2"/></clipPath>
<filter id="grain" x="0" y="0" width="100%" height="100%" color-interpolation-filters="sRGB">
<feTurbulence type="fractalNoise" baseFrequency="0.42" numOctaves="2" seed="5" result="n"/>
<feColorMatrix in="n" type="matrix" values="1 0 0 0 0 1 0 0 0 0 1 0 0 0 0 0 0 0 0 1" result="ng"/>
<feComposite in="SourceGraphic" in2="ng" operator="arithmetic" k1="0" k2="1" k3="0.17" k4="-0.085"/>
</filter>
<filter id="bl3" x="-20%" y="-20%" width="140%" height="140%"><feGaussianBlur stdDeviation="3"/></filter>
<filter id="bl8" x="-30%" y="-30%" width="160%" height="160%"><feGaussianBlur stdDeviation="8"/></filter>
<filter id="bl18" x="-40%" y="-40%" width="180%" height="180%"><feGaussianBlur stdDeviation="18"/></filter>
<filter id="bl1" x="-20%" y="-20%" width="140%" height="140%"><feGaussianBlur stdDeviation="0.7"/></filter>
<linearGradient id="zg" gradientUnits="userSpaceOnUse" x1="1450" y1="120" x2="960" y2="640"><stop offset="0" stop-color="#2b2b2b"/><stop offset="0.45" stop-color="#303030"/><stop offset="1" stop-color="#404040"/></linearGradient>
<clipPath id="ic"><rect x="875" y="237" width="215.5" height="159.5"/></clipPath>
</defs>
<g clip-path="url(#pc)">
<g filter="url(#grain)">
<rect x="867" y="58.3" width="710.7" height="622.2" fill="#a9a9a9"/>
<g filter="url(#bl18)">
<polygon points="860,420 960,380 900,560 960,690 860,690" fill="#c4c4c4"/>
<polygon points="860,700 940,640 1240,640 1440,630 1500,520 1540,380 1580,300 1580,700" fill="#b9b9b9"/>
<polygon points="960,120 1080,100 1060,180 1010,260 940,250" fill="#bcbcbc"/>
</g>
<g filter="url(#bl8)">
<polygon points="1000,150 1060,168 1032,234 985,236" fill="#e4e4e4"/>
<polygon points="982,120 1002,116 1038,166 1018,180" fill="#d4d4d4"/>
</g>
<g filter="url(#bl3)">
<polygon points="990,127 998,124 1029,168 1020,175" fill="#e4e4e4"/>
<polygon points="1489,478 1495,476 1432,622 1425,622" fill="#e2e2e2"/>
<polygon points="1425,620 1432,624 1380,638 1240,651 1237,647 1393,632" fill="#c8c8c8"/>
</g>
<polygon points="1062.5,160.5 1088.6,138.3 1154.9,93.7 1175.4,80 1215,74.3 1315.6,63.5 1330,66 1375,81 1382,89 1398,100.6 1401,111 1428.7,114.3 1497,197.7 1553,266 1558,282 1559,314 1551,337 1546.4,350 1519,416.3 1489.3,478 1457.3,542 1425.3,619.7 1393.3,632.3 1352,635.7 1306.4,640.3 1237.9,647 1215,649 968,671 956,654 937.7,627.7 928.6,619.7 919.4,608.3 905.7,599 895.4,587.7 887.4,569 887.4,555.7 889.7,532.9 896.6,510 909,474.6 935,420 962,398 1029,234" fill="url(#zg)"/>
<g filter="url(#bl1)" fill="#3a3a3a">
<polygon points="1106,66 1113,64 1116,69 1111,73 1106,71"/>
<polygon points="1384,63 1390,63 1384,76 1380,75"/>
<polygon points="1352,637 1372,631 1396,633 1394,645 1362,652 1353,647"/>
</g>
</g>
<line x1="930.9" y1="617.4" x2="1480" y2="198.9" stroke="#fff" stroke-width="8.2"/>
<line x1="1062" y1="168.5" x2="1079" y2="191" stroke="#92d050" stroke-width="8.6" stroke-linecap="round"/>
<line x1="1403.6" y1="604.9" x2="1422" y2="623.3" stroke="#92d050" stroke-width="8.6" stroke-linecap="round"/>
<g fill="#92d050"><circle cx="938.9" cy="627.8" r="4.3"/><circle cx="948.0" cy="620.8" r="4.3"/><circle cx="957.2" cy="613.7" r="4.3"/><circle cx="966.3" cy="606.6" r="4.3"/><circle cx="975.5" cy="599.6" r="4.3"/><circle cx="984.6" cy="592.5" r="4.3"/><circle cx="993.7" cy="585.5" r="4.3"/><circle cx="1002.9" cy="578.5" r="4.3"/><circle cx="1012.0" cy="571.4" r="4.3"/><circle cx="1021.2" cy="564.4" r="4.3"/><circle cx="1030.3" cy="557.3" r="4.3"/><circle cx="1039.4" cy="550.2" r="4.3"/><circle cx="1048.6" cy="543.2" r="4.3"/><circle cx="1057.7" cy="536.1" r="4.3"/><circle cx="1066.9" cy="529.1" r="4.3"/><circle cx="1076.0" cy="522.0" r="4.3"/><circle cx="1085.1" cy="515.0" r="4.3"/><circle cx="1094.3" cy="507.9" r="4.3"/><circle cx="1103.4" cy="500.9" r="4.3"/><circle cx="1112.6" cy="493.9" r="4.3"/><circle cx="1121.7" cy="486.8" r="4.3"/><circle cx="1130.8" cy="479.8" r="4.3"/><circle cx="1140.0" cy="472.7" r="4.3"/><circle cx="1149.1" cy="465.7" r="4.3"/><circle cx="1158.3" cy="458.6" r="4.3"/><circle cx="1167.4" cy="451.6" r="4.3"/><circle cx="1176.5" cy="444.5" r="4.3"/><circle cx="1185.7" cy="437.4" r="4.3"/><circle cx="1194.8" cy="430.4" r="4.3"/><circle cx="1204.0" cy="423.4" r="4.3"/><circle cx="1213.1" cy="416.3" r="4.3"/><circle cx="1222.2" cy="409.2" r="4.3"/><circle cx="1231.4" cy="402.2" r="4.3"/><circle cx="1240.5" cy="395.2" r="4.3"/><circle cx="1249.7" cy="388.1" r="4.3"/><circle cx="1258.8" cy="381.1" r="4.3"/><circle cx="1267.9" cy="374.0" r="4.3"/><circle cx="1277.1" cy="366.9" r="4.3"/><circle cx="1286.2" cy="359.9" r="4.3"/><circle cx="1295.4" cy="352.9" r="4.3"/><circle cx="1304.5" cy="345.8" r="4.3"/><circle cx="1313.6" cy="338.8" r="4.3"/><circle cx="1322.8" cy="331.7" r="4.3"/><circle cx="1331.9" cy="324.7" r="4.3"/><circle cx="1341.1" cy="317.6" r="4.3"/><circle cx="1350.2" cy="310.6" r="4.3"/><circle cx="1359.3" cy="303.5" r="4.3"/><circle cx="1368.5" cy="296.5" r="4.3"/><circle cx="1377.6" cy="289.4" r="4.3"/><circle cx="1386.8" cy="282.4" r="4.3"/><circle cx="1395.9" cy="275.3" r="4.3"/><circle cx="1405.0" cy="268.2" r="4.3"/><circle cx="1414.2" cy="261.2" r="4.3"/><circle cx="1423.3" cy="254.2" r="4.3"/><circle cx="1432.5" cy="247.1" r="4.3"/><circle cx="1441.6" cy="240.1" r="4.3"/><circle cx="1450.7" cy="233.0" r="4.3"/><circle cx="1459.9" cy="226.0" r="4.3"/><circle cx="1469.0" cy="218.9" r="4.3"/><circle cx="1478.2" cy="211.9" r="4.3"/><circle cx="1409.3" cy="283.9" r="4.3"/><circle cx="1420.0" cy="273.1" r="4.3"/><circle cx="1432.1" cy="259.9" r="4.3"/><circle cx="1442.9" cy="241.1" r="4.3"/><circle cx="1455.0" cy="234.3" r="4.3"/><circle cx="1466.4" cy="225.1" r="4.3"/><circle cx="1484.7" cy="226.3" r="4.3"/><circle cx="1489.3" cy="217.1" r="4.3"/><circle cx="1464.0" cy="176.7" r="4.3"/><circle cx="1516.0" cy="233.8" r="4.3"/><circle cx="1496.0" cy="241.0" r="4.3"/><circle cx="1473.8" cy="209.8" r="4.3"/><circle cx="1462.8" cy="228.0" r="4.3"/><circle cx="1484.4" cy="203.5" r="4.3"/><circle cx="1450.9" cy="232.1" r="4.3"/><circle cx="1450.7" cy="233.9" r="4.3"/><circle cx="1471.6" cy="216.6" r="4.3"/><circle cx="1480.4" cy="210.8" r="4.3"/><circle cx="1478.6" cy="206.5" r="4.3"/><circle cx="1489.0" cy="197.5" r="4.3"/><circle cx="1458.6" cy="231.1" r="4.3"/><circle cx="1486.1" cy="207.6" r="4.3"/><circle cx="1490.0" cy="202.5" r="4.3"/><circle cx="1486.1" cy="210.8" r="4.3"/><circle cx="1476.7" cy="209.1" r="4.3"/><circle cx="1459.4" cy="220.7" r="4.3"/><circle cx="1458.1" cy="222.9" r="4.3"/><circle cx="1476.3" cy="211.1" r="4.3"/><circle cx="1458.5" cy="231.5" r="4.3"/><circle cx="1478.8" cy="208.3" r="4.3"/><circle cx="1478.5" cy="208.2" r="4.3"/><circle cx="1492.7" cy="202.0" r="4.3"/><circle cx="1482.1" cy="214.4" r="4.3"/><circle cx="1457.4" cy="223.5" r="4.3"/><circle cx="1460.4" cy="229.7" r="4.3"/><circle cx="1485.6" cy="206.8" r="4.3"/><circle cx="1471.1" cy="219.8" r="4.3"/><circle cx="946.7" cy="624.2" r="4.3"/><circle cx="950.0" cy="628.7" r="4.3"/><circle cx="953.2" cy="624.8" r="4.3"/><circle cx="957.4" cy="608.3" r="4.3"/><circle cx="942.8" cy="633.1" r="4.3"/><circle cx="952.7" cy="615.9" r="4.3"/><circle cx="986.1" cy="601.8" r="4.3"/><circle cx="974.2" cy="603.7" r="4.3"/><circle cx="970.5" cy="604.6" r="4.3"/><circle cx="964.2" cy="608.3" r="4.3"/><circle cx="963.2" cy="621.1" r="4.3"/><circle cx="949.2" cy="619.3" r="4.3"/><circle cx="985.3" cy="596.2" r="4.3"/><circle cx="969.0" cy="604.7" r="4.3"/><circle cx="974.5" cy="608.1" r="4.3"/><circle cx="957.5" cy="611.1" r="4.3"/><circle cx="1081.7" cy="195.4" r="4.3"/><circle cx="1087.4" cy="203.0" r="4.3"/><circle cx="1093.1" cy="210.6" r="4.3"/><circle cx="1098.8" cy="218.1" r="4.3"/><circle cx="1104.5" cy="225.7" r="4.3"/><circle cx="1110.2" cy="233.3" r="4.3"/><circle cx="1116.0" cy="240.9" r="4.3"/><circle cx="1121.7" cy="248.5" r="4.3"/><circle cx="1127.4" cy="256.0" r="4.3"/><circle cx="1138.9" cy="271.3" r="4.3"/><circle cx="1150.3" cy="286.4" r="4.3"/><circle cx="1162.2" cy="301.7" r="4.3"/><circle cx="1173.6" cy="317.0" r="4.3"/><circle cx="1184.6" cy="331.9" r="4.3"/><circle cx="1196.0" cy="347.0" r="4.3"/><circle cx="1207.4" cy="362.5" r="4.3"/><circle cx="1218.6" cy="378.6" r="4.3"/><circle cx="1230.0" cy="393.0" r="4.3"/><circle cx="1242.4" cy="408.3" r="4.3"/><circle cx="1253.4" cy="423.6" r="4.3"/><circle cx="1264.8" cy="438.7" r="4.3"/><circle cx="1276.0" cy="454.0" r="4.3"/><circle cx="1287.7" cy="469.3" r="4.3"/><circle cx="1299.1" cy="484.4" r="4.3"/><circle cx="1310.5" cy="499.7" r="4.3"/><circle cx="1322.0" cy="515.0" r="4.3"/><circle cx="1335.7" cy="530.6" r="4.3"/><circle cx="1349.2" cy="545.4" r="4.3"/><circle cx="1362.0" cy="556.9" r="4.3"/><circle cx="1368.1" cy="563.7" r="4.3"/><circle cx="1374.3" cy="571.3" r="4.3"/><circle cx="1380.7" cy="578.6" r="4.3"/><circle cx="1386.9" cy="585.4" r="4.3"/><circle cx="1393.3" cy="592.3" r="4.3"/><circle cx="1399.7" cy="599.1" r="4.3"/><circle cx="1226.4" cy="327.5" r="4.3"/><circle cx="1209.5" cy="342.3" r="4.3"/><circle cx="1198.3" cy="352.3" r="4.3"/><circle cx="1183.4" cy="368.3" r="4.3"/><circle cx="1169.7" cy="381.5" r="4.3"/><circle cx="1154.9" cy="395.7" r="4.3"/><circle cx="1140.0" cy="410.6" r="4.3"/><circle cx="1124.0" cy="425.0" r="4.3"/><circle cx="1110.3" cy="440.3" r="4.3"/><circle cx="1096.6" cy="453.5" r="4.3"/><circle cx="1081.7" cy="465.4" r="4.3"/><circle cx="1069.1" cy="479.6" r="4.3"/><circle cx="1055.4" cy="492.9" r="4.3"/><circle cx="1040.6" cy="503.1" r="4.3"/><circle cx="1029.1" cy="520.3" r="4.3"/><circle cx="1017.3" cy="532.4" r="4.3"/><circle cx="1006.3" cy="544.3" r="4.3"/><circle cx="999.4" cy="552.0" r="4.3"/><circle cx="994.9" cy="558.0" r="4.3"/><circle cx="986.9" cy="570.6" r="4.3"/><circle cx="976.6" cy="580.9" r="4.3"/><circle cx="921.7" cy="524.2" r="4.3"/><circle cx="901.1" cy="534.7" r="4.3"/><circle cx="896.6" cy="538.6" r="4.3"/><circle cx="913.7" cy="537.4" r="4.3"/><circle cx="917.1" cy="544.3" r="4.3"/><circle cx="922.9" cy="559.8" r="4.3"/><circle cx="936.6" cy="539.3" r="4.3"/><circle cx="948.7" cy="532.9" r="4.3"/><circle cx="960.6" cy="544.3" r="4.3"/><circle cx="973.8" cy="545.0" r="4.3"/><circle cx="988.0" cy="545.4" r="4.3"/><circle cx="989.1" cy="590.0" r="4.3"/><circle cx="988.0" cy="601.4" r="4.3"/><circle cx="984.6" cy="615.1" r="4.3"/><circle cx="981.1" cy="635.7" r="4.3"/><circle cx="977.3" cy="647.1" r="4.3"/><circle cx="975.4" cy="655.1" r="4.3"/><circle cx="973.1" cy="664.3" r="4.3"/><circle cx="1177.7" cy="534.0" r="4.3"/><circle cx="1178.5" cy="550.0" r="4.3"/><circle cx="1179.5" cy="564.9" r="4.3"/><circle cx="1180.5" cy="580.9" r="4.3"/><circle cx="1181.5" cy="594.6" r="4.3"/><circle cx="1182.5" cy="609.4" r="4.3"/><circle cx="1183.5" cy="622.0" r="4.3"/><circle cx="1184.6" cy="635.7" r="4.3"/><circle cx="1170.9" cy="641.4" r="4.3"/><circle cx="1177.7" cy="646.0" r="4.3"/><circle cx="1185.7" cy="647.1" r="4.3"/><circle cx="1194.9" cy="640.3" r="4.3"/><circle cx="1201.7" cy="635.7" r="4.3"/></g>
<g fill="#dc524d"><circle cx="1164.1" cy="125.3" r="7.2"/><circle cx="1169.6" cy="176.2" r="7.2"/><circle cx="1176.8" cy="232.9" r="7.2"/><circle cx="1187.7" cy="259.2" r="7.2"/><circle cx="1201.4" cy="312.8" r="7.2"/><circle cx="1199.1" cy="363.6" r="7.2"/><circle cx="1194.5" cy="401.3" r="7.2"/><circle cx="1215.0" cy="396.3" r="7.2"/><circle cx="1208.6" cy="427.2" r="7.2"/><circle cx="1115.6" cy="430.4" r="7.2"/><circle cx="1046.1" cy="479.4" r="7.2"/><circle cx="981.7" cy="524.8" r="7.2"/><circle cx="946.2" cy="540.7" r="7.2"/><circle cx="934.9" cy="547.5" r="7.2"/><circle cx="916.7" cy="556.6" r="7.2"/><circle cx="929.5" cy="569.3" r="7.2"/><circle cx="993.0" cy="640.5" r="7.2"/><circle cx="1220.0" cy="496.6" r="7.2"/><circle cx="1218.6" cy="565.6" r="7.2"/><circle cx="1217.2" cy="586.1" r="7.2"/><circle cx="1217.2" cy="612.4" r="7.2"/><circle cx="1216.3" cy="636.0" r="7.2"/><circle cx="1239.0" cy="637.4" r="7.2"/><circle cx="1281.2" cy="359.1" r="7.2"/><circle cx="1365.2" cy="349.1" r="7.2"/><circle cx="1438.8" cy="337.8" r="7.2"/><circle cx="1488.7" cy="329.6" r="7.2"/><circle cx="1512.3" cy="328.7" r="7.2"/><circle cx="1434.2" cy="164.8" r="7.2"/></g>
<g fill="#5b9bd5" stroke="#14243f" stroke-width="1"><circle cx="890.2" cy="545.9" r="2.2"/><circle cx="893.5" cy="548.3" r="2.2"/><circle cx="896.9" cy="550.7" r="2.2"/><circle cx="900.2" cy="553.2" r="2.2"/><circle cx="903.6" cy="555.6" r="2.2"/><circle cx="906.9" cy="558.0" r="2.2"/><circle cx="920.6" cy="608.3" r="2.2"/><circle cx="923.6" cy="606.4" r="2.2"/><circle cx="926.7" cy="604.5" r="2.2"/><circle cx="929.8" cy="602.6" r="2.2"/><circle cx="932.8" cy="600.7" r="2.2"/><circle cx="935.9" cy="598.8" r="2.2"/><circle cx="938.9" cy="596.9" r="2.2"/><circle cx="1224.6" cy="609.4" r="2.2"/><circle cx="1224.8" cy="612.1" r="2.2"/><circle cx="1225.0" cy="614.8" r="2.2"/><circle cx="1225.1" cy="617.5" r="2.2"/><circle cx="1225.3" cy="620.2" r="2.2"/><circle cx="1225.5" cy="622.9" r="2.2"/><circle cx="1225.7" cy="625.6" r="2.2"/><circle cx="1225.9" cy="628.3" r="2.2"/><circle cx="1226.0" cy="631.0" r="2.2"/><circle cx="1226.2" cy="633.7" r="2.2"/><circle cx="1226.4" cy="636.4" r="2.2"/><circle cx="1226.6" cy="639.1" r="2.2"/><circle cx="1226.8" cy="641.8" r="2.2"/><circle cx="1226.9" cy="644.5" r="2.2"/><circle cx="1227.1" cy="647.2" r="2.2"/></g>
</g>
<polygon points="916,398 966.3,398 897.7,512 892,520.3" fill="#4c4c4c" stroke="#000" stroke-width="1.6" stroke-linejoin="round"/>
<polygon points="903,472 911,476 899,506 895,512" fill="#b0b0b0"/>
<g fill="#151515"><circle cx="922.9" cy="459.5" r="0.5"/><circle cx="950.9" cy="422.5" r="1.0"/><circle cx="914.9" cy="455.5" r="1.0"/><circle cx="936.2" cy="425.9" r="0.7"/><circle cx="908.0" cy="441.8" r="0.9"/><circle cx="943.9" cy="406.2" r="0.9"/><circle cx="926.8" cy="403.0" r="1.0"/><circle cx="910.4" cy="428.8" r="1.1"/><circle cx="913.8" cy="443.3" r="0.7"/><circle cx="910.5" cy="436.8" r="1.1"/><circle cx="938.5" cy="411.7" r="1.1"/><circle cx="958.4" cy="406.5" r="0.9"/><circle cx="933.7" cy="450.9" r="1.0"/><circle cx="922.6" cy="455.2" r="0.8"/><circle cx="924.6" cy="402.4" r="0.7"/><circle cx="950.7" cy="422.6" r="0.6"/><circle cx="915.2" cy="410.5" r="1.0"/><circle cx="923.1" cy="426.0" r="0.6"/><circle cx="931.1" cy="429.9" r="0.5"/><circle cx="911.7" cy="454.2" r="1.0"/><circle cx="917.4" cy="411.3" r="1.0"/><circle cx="928.6" cy="441.1" r="0.8"/><circle cx="930.2" cy="443.5" r="1.0"/><circle cx="915.3" cy="409.0" r="0.5"/><circle cx="930.0" cy="398.8" r="0.7"/><circle cx="930.1" cy="456.0" r="0.7"/><circle cx="933.1" cy="427.7" r="0.8"/><circle cx="913.8" cy="469.9" r="0.6"/><circle cx="930.0" cy="442.5" r="0.5"/><circle cx="921.3" cy="418.1" r="0.7"/><circle cx="947.2" cy="406.6" r="1.0"/><circle cx="920.3" cy="468.5" r="1.1"/><circle cx="929.2" cy="410.2" r="0.9"/></g>
<line x1="921" y1="403" x2="952" y2="420" stroke="#3a3a3a" stroke-width="0.8"/>
<polygon points="885.1,519.1 934.3,543.1 912.6,587.7 863.4,563.7" fill="none" stroke="#000" stroke-width="1.7"/>
<rect x="872.3" y="234.5" width="220.5" height="164.2" fill="#000"/>
<g clip-path="url(#ic)">
<rect x="875" y="237" width="216" height="160" fill="#4b4b4b"/>
<g filter="url(#bl1)">
<polygon points="936.6,234.1 1093.6,234.1 1093.6,400.2 1046.3,400.2 1032.6,385.0 986.9,354.5 970.1,350.0 959.5,339.3 934.3,314.9 935.1,267.7 937.4,255.5" fill="#c6c6c6"/>
<polygon points="1002.1,357.6 1093.6,368.2 1093.6,400.2 1046.3,400.2 1032.6,385.0" fill="#cccccc"/>
<polygon points="922.1,269.2 934.3,267.4 934.3,316.4 956.4,334.0 959.5,341.6 944.2,341.6 932.0,335.0 921.4,332.4 919.9,286.0" fill="#fff"/>
</g>
<g filter="url(#bl3)"><polygon points="936.6,269.2 997.6,272.2 999.1,334.7 980.8,340.8 956.4,336.2 936.6,318.0" fill="#555"/></g>
<g filter="url(#bl1)"><polygon points="933.6,272.2 991.5,275.3 991.5,330.1 980.8,335.0 956.4,331.7 934.3,314.9" fill="#161616"/></g>
<polyline points="986.9,351.5 1032.6,353.8 1063.1,359.1 1090.5,366.0" fill="none" stroke="#444" stroke-width="0.8"/>
<polyline points="991.5,277.6 1017.4,277.6" fill="none" stroke="#555" stroke-width="0.7"/>
<circle cx="1032.6" cy="284.7" r="1.6" fill="#444"/>
<polygon points="943.5,246.3 949.6,242.1 952.6,244.8 949.6,249.4 945.8,247.9" fill="#111"/>
<g fill="#0c0c0c"><circle cx="920.1" cy="297.9" r="0.7"/><circle cx="889.0" cy="376.0" r="1.3"/><circle cx="876.3" cy="318.4" r="1.3"/><circle cx="928.9" cy="336.4" r="1.0"/><circle cx="879.6" cy="298.8" r="0.6"/><circle cx="898.5" cy="256.3" r="0.6"/><circle cx="924.3" cy="385.1" r="0.7"/><circle cx="932.3" cy="361.4" r="0.9"/><circle cx="912.5" cy="357.0" r="1.0"/><circle cx="885.4" cy="284.9" r="1.3"/><circle cx="940.4" cy="353.7" r="0.8"/><circle cx="916.2" cy="252.6" r="0.7"/><circle cx="901.3" cy="272.0" r="1.0"/><circle cx="902.7" cy="367.0" r="0.7"/><circle cx="894.8" cy="379.2" r="0.7"/><circle cx="912.0" cy="316.6" r="1.0"/><circle cx="877.9" cy="306.0" r="1.1"/><circle cx="931.2" cy="380.6" r="0.6"/><circle cx="895.2" cy="240.0" r="0.9"/><circle cx="883.7" cy="324.3" r="1.1"/><circle cx="877.3" cy="252.2" r="1.1"/><circle cx="923.4" cy="384.7" r="0.9"/><circle cx="916.0" cy="301.8" r="1.2"/><circle cx="931.3" cy="266.1" r="0.7"/><circle cx="934.1" cy="390.6" r="1.1"/><circle cx="880.9" cy="326.7" r="1.1"/><circle cx="901.4" cy="396.4" r="1.2"/><circle cx="943.4" cy="389.4" r="0.9"/><circle cx="898.4" cy="335.6" r="0.7"/><circle cx="879.8" cy="296.7" r="0.6"/><circle cx="909.0" cy="375.6" r="1.0"/><circle cx="931.7" cy="310.2" r="0.7"/><circle cx="914.3" cy="395.0" r="1.0"/><circle cx="930.8" cy="241.6" r="0.7"/><circle cx="917.3" cy="272.5" r="1.1"/><circle cx="918.3" cy="290.2" r="0.8"/><circle cx="884.2" cy="338.5" r="0.6"/><circle cx="885.6" cy="363.0" r="0.7"/><circle cx="878.1" cy="362.4" r="0.9"/><circle cx="897.8" cy="391.5" r="1.0"/><circle cx="914.2" cy="297.8" r="0.9"/><circle cx="880.5" cy="393.3" r="0.7"/></g>
<line x1="874.1" y1="275.3" x2="932.0" y2="252.4" stroke="#3c3c3c" stroke-width="0.7"/>
<line x1="874.1" y1="316.4" x2="932.0" y2="260.0" stroke="#3c3c3c" stroke-width="0.7"/>
<line x1="915.3" y1="397.2" x2="930.5" y2="343.9" stroke="#3c3c3c" stroke-width="0.7"/>
</g>
<text x="902.0" y="385.4" font-size="30" text-anchor="start" font-weight="bold" fill="#fff" textLength="157.0" lengthAdjust="spacingAndGlyphs">150*150µm</text>
<text x="1503.5" y="170.3" font-size="70" text-anchor="start" textLength="62.0" lengthAdjust="spacingAndGlyphs">A’</text>
<text x="863.5" y="663.2" font-size="70" text-anchor="start" textLength="48.0" lengthAdjust="spacingAndGlyphs">A</text>
<text x="894.0" y="63.2" font-size="43" text-anchor="start">b</text>
<text x="1162.5" y="720.0" font-size="30" text-anchor="start" textLength="103.0" lengthAdjust="spacingAndGlyphs">500µm</text>
<rect x="1126.9" y="735" width="174.3" height="6.7" fill="#000"/>
<rect x="1173" y="737.3" width="40" height="2.1" fill="#fff"/>
<rect x="1259" y="737.3" width="40.5" height="2.1" fill="#fff"/>
<g stroke="#000" stroke-width="1.9" fill="none">
<path d="M188.6 1163.0V1205.4M183.4 1163.0h10.4M183.4 1205.4h10.4M191.6 974.9V1017.3M186.4 974.9h10.4M186.4 1017.3h10.4M189.6 1021.1V1063.5M184.4 1021.1h10.4M184.4 1063.5h10.4M195.6 1020.6V1063.0M190.4 1020.6h10.4M190.4 1063.0h10.4M198.1 1067.7V1110.1M192.9 1067.7h10.4M192.9 1110.1h10.4M193.1 1085.8V1128.2M187.9 1085.8h10.4M187.9 1128.2h10.4M205.6 1078.2V1120.6M200.4 1078.2h10.4M200.4 1120.6h10.4M210.6 1076.2V1118.6M205.4 1076.2h10.4M205.4 1118.6h10.4M203.6 1116.3V1158.7M198.4 1116.3h10.4M198.4 1158.7h10.4M215.6 916.2V958.6M210.4 916.2h10.4M210.4 958.6h10.4M224.2 927.3V969.7M219.0 927.3h10.4M219.0 969.7h10.4M232.2 905.7V948.1M227.0 905.7h10.4M227.0 948.1h10.4M240.7 895.7V938.1M235.5 895.7h10.4M235.5 938.1h10.4M248.7 930.3V972.7M243.5 930.3h10.4M243.5 972.7h10.4M256.8 917.2V959.6M251.6 917.2h10.4M251.6 959.6h10.4M264.8 892.7V935.1M259.6 892.7h10.4M259.6 935.1h10.4M272.8 933.3V975.7M267.6 933.3h10.4M267.6 975.7h10.4M289.4 925.3V967.7M284.2 925.3h10.4M284.2 967.7h10.4M305.4 897.2V939.6M300.2 897.2h10.4M300.2 939.6h10.4M313.9 932.3V974.7M308.7 932.3h10.4M308.7 974.7h10.4M322.0 928.3V970.7M316.8 928.3h10.4M316.8 970.7h10.4M330.0 920.8V963.2M324.8 920.8h10.4M324.8 963.2h10.4M338.0 896.2V938.6M332.8 896.2h10.4M332.8 938.6h10.4M346.0 921.8V964.2M340.8 921.8h10.4M340.8 964.2h10.4M354.6 902.7V945.1M349.4 902.7h10.4M349.4 945.1h10.4M362.1 893.2V935.6M356.9 893.2h10.4M356.9 935.6h10.4M370.1 910.2V952.6M364.9 910.2h10.4M364.9 952.6h10.4M378.6 891.7V934.1M373.4 891.7h10.4M373.4 934.1h10.4M386.7 949.8V992.2M381.5 949.8h10.4M381.5 992.2h10.4M395.2 935.8V978.2M390.0 935.8h10.4M390.0 978.2h10.4M403.2 944.8V987.2M398.0 944.8h10.4M398.0 987.2h10.4M411.2 930.3V972.7M406.0 930.3h10.4M406.0 972.7h10.4M427.3 905.2V947.6M422.1 905.2h10.4M422.1 947.6h10.4M435.3 938.8V981.2M430.1 938.8h10.4M430.1 981.2h10.4M443.8 940.3V982.7M438.6 940.3h10.4M438.6 982.7h10.4M451.9 903.2V945.6M446.7 903.2h10.4M446.7 945.6h10.4M459.9 933.8V976.2M454.7 933.8h10.4M454.7 976.2h10.4M467.9 896.2V938.6M462.7 896.2h10.4M462.7 938.6h10.4M475.9 925.3V967.7M470.7 925.3h10.4M470.7 967.7h10.4M484.5 916.7V959.1M479.3 916.7h10.4M479.3 959.1h10.4M500.5 926.3V968.7M495.3 926.3h10.4M495.3 968.7h10.4M509.0 926.3V968.7M503.8 926.3h10.4M503.8 968.7h10.4M517.1 926.3V968.7M511.9 926.3h10.4M511.9 968.7h10.4M525.1 952.4V994.8M519.9 952.4h10.4M519.9 994.8h10.4M533.1 936.8V979.2M527.9 936.8h10.4M527.9 979.2h10.4M541.6 926.3V968.7M536.4 926.3h10.4M536.4 968.7h10.4M549.6 941.8V984.2M544.4 941.8h10.4M544.4 984.2h10.4M557.7 952.4V994.8M552.5 952.4h10.4M552.5 994.8h10.4M565.7 926.3V968.7M560.5 926.3h10.4M560.5 968.7h10.4M573.7 935.8V978.2M568.5 935.8h10.4M568.5 978.2h10.4M581.7 927.3V969.7M576.5 927.3h10.4M576.5 969.7h10.4M590.3 918.7V961.1M585.1 918.7h10.4M585.1 961.1h10.4M598.3 918.7V961.1M593.1 918.7h10.4M593.1 961.1h10.4M606.8 911.2V953.6M601.6 911.2h10.4M601.6 953.6h10.4M614.8 932.8V975.2M609.6 932.8h10.4M609.6 975.2h10.4M622.9 922.8V965.2M617.7 922.8h10.4M617.7 965.2h10.4M630.9 958.4V1000.8M625.7 958.4h10.4M625.7 1000.8h10.4M639.4 937.8V980.2M634.2 937.8h10.4M634.2 980.2h10.4M647.4 932.3V974.7M642.2 932.3h10.4M642.2 974.7h10.4M655.5 932.8V975.2M650.3 932.8h10.4M650.3 975.2h10.4M663.5 959.9V1002.3M658.3 959.9h10.4M658.3 1002.3h10.4M668.5 994.0V1036.4M663.3 994.0h10.4M663.3 1036.4h10.4M672.0 957.4V999.8M666.8 957.4h10.4M666.8 999.8h10.4M675.5 977.9V1020.3M670.3 977.9h10.4M670.3 1020.3h10.4M677.0 975.9V1018.3M671.8 975.9h10.4M671.8 1018.3h10.4M680.5 953.4V995.8M675.3 953.4h10.4M675.3 995.8h10.4M681.0 1023.6V1066.0M675.8 1023.6h10.4M675.8 1066.0h10.4M676.0 1039.6V1082.0M670.8 1039.6h10.4M670.8 1082.0h10.4M682.0 1041.1V1083.5M676.8 1041.1h10.4M676.8 1083.5h10.4M665.5 1059.7V1102.1M660.3 1059.7h10.4M660.3 1102.1h10.4M678.0 1085.2V1127.6M672.8 1085.2h10.4M672.8 1127.6h10.4M684.6 1113.8V1156.2M679.4 1113.8h10.4M679.4 1156.2h10.4"/></g>
<path d="M188.6 1177.6L195.2 1184.2L188.6 1190.8L182.0 1184.2ZM191.6 989.5L198.2 996.1L191.6 1002.7L185.0 996.1ZM189.6 1035.7L196.2 1042.3L189.6 1048.9L183.0 1042.3ZM195.6 1035.2L202.2 1041.8L195.6 1048.4L189.0 1041.8ZM198.1 1082.3L204.7 1088.9L198.1 1095.5L191.5 1088.9ZM193.1 1100.4L199.7 1107.0L193.1 1113.6L186.5 1107.0ZM205.6 1092.8L212.2 1099.4L205.6 1106.0L199.0 1099.4ZM210.6 1090.8L217.2 1097.4L210.6 1104.0L204.0 1097.4ZM203.6 1130.9L210.2 1137.5L203.6 1144.1L197.0 1137.5ZM215.6 930.8L222.2 937.4L215.6 944.0L209.0 937.4ZM224.2 941.9L230.8 948.5L224.2 955.1L217.6 948.5ZM232.2 920.3L238.8 926.9L232.2 933.5L225.6 926.9ZM240.7 910.3L247.3 916.9L240.7 923.5L234.1 916.9ZM248.7 944.9L255.3 951.5L248.7 958.1L242.1 951.5ZM256.8 931.8L263.4 938.4L256.8 945.0L250.2 938.4ZM264.8 907.3L271.4 913.9L264.8 920.5L258.2 913.9ZM272.8 947.9L279.4 954.5L272.8 961.1L266.2 954.5ZM281.3 953.4L287.9 960.0L281.3 966.6L274.7 960.0ZM289.4 939.9L296.0 946.5L289.4 953.1L282.8 946.5ZM305.4 911.8L312.0 918.4L305.4 925.0L298.8 918.4ZM313.9 946.9L320.5 953.5L313.9 960.1L307.3 953.5ZM322.0 942.9L328.6 949.5L322.0 956.1L315.4 949.5ZM330.0 935.4L336.6 942.0L330.0 948.6L323.4 942.0ZM338.0 910.8L344.6 917.4L338.0 924.0L331.4 917.4ZM346.0 936.4L352.6 943.0L346.0 949.6L339.4 943.0ZM354.6 917.3L361.2 923.9L354.6 930.5L348.0 923.9ZM362.1 907.8L368.7 914.4L362.1 921.0L355.5 914.4ZM370.1 924.8L376.7 931.4L370.1 938.0L363.5 931.4ZM378.6 906.3L385.2 912.9L378.6 919.5L372.0 912.9ZM386.7 964.4L393.3 971.0L386.7 977.6L380.1 971.0ZM395.2 950.4L401.8 957.0L395.2 963.6L388.6 957.0ZM403.2 959.4L409.8 966.0L403.2 972.6L396.6 966.0ZM411.2 944.9L417.8 951.5L411.2 958.1L404.6 951.5ZM427.3 919.8L433.9 926.4L427.3 933.0L420.7 926.4ZM435.3 953.4L441.9 960.0L435.3 966.6L428.7 960.0ZM443.8 954.9L450.4 961.5L443.8 968.1L437.2 961.5ZM451.9 917.8L458.5 924.4L451.9 931.0L445.3 924.4ZM459.9 948.4L466.5 955.0L459.9 961.6L453.3 955.0ZM467.9 910.8L474.5 917.4L467.9 924.0L461.3 917.4ZM475.9 939.9L482.5 946.5L475.9 953.1L469.3 946.5ZM484.5 931.3L491.1 937.9L484.5 944.5L477.9 937.9ZM492.5 930.8L499.1 937.4L492.5 944.0L485.9 937.4ZM500.5 940.9L507.1 947.5L500.5 954.1L493.9 947.5ZM509.0 940.9L515.6 947.5L509.0 954.1L502.4 947.5ZM517.1 940.9L523.7 947.5L517.1 954.1L510.5 947.5ZM525.1 967.0L531.7 973.6L525.1 980.2L518.5 973.6ZM533.1 951.4L539.7 958.0L533.1 964.6L526.5 958.0ZM541.6 940.9L548.2 947.5L541.6 954.1L535.0 947.5ZM549.6 956.4L556.2 963.0L549.6 969.6L543.0 963.0ZM557.7 967.0L564.3 973.6L557.7 980.2L551.1 973.6ZM565.7 940.9L572.3 947.5L565.7 954.1L559.1 947.5ZM573.7 950.4L580.3 957.0L573.7 963.6L567.1 957.0ZM581.7 941.9L588.3 948.5L581.7 955.1L575.1 948.5ZM590.3 933.3L596.9 939.9L590.3 946.5L583.7 939.9ZM598.3 933.3L604.9 939.9L598.3 946.5L591.7 939.9ZM606.8 925.8L613.4 932.4L606.8 939.0L600.2 932.4ZM614.8 947.4L621.4 954.0L614.8 960.6L608.2 954.0ZM622.9 937.4L629.5 944.0L622.9 950.6L616.3 944.0ZM630.9 973.0L637.5 979.6L630.9 986.2L624.3 979.6ZM639.4 952.4L646.0 959.0L639.4 965.6L632.8 959.0ZM647.4 946.9L654.0 953.5L647.4 960.1L640.8 953.5ZM655.5 947.4L662.1 954.0L655.5 960.6L648.9 954.0ZM663.5 974.5L670.1 981.1L663.5 987.7L656.9 981.1ZM668.5 1008.6L675.1 1015.2L668.5 1021.8L661.9 1015.2ZM672.0 972.0L678.6 978.6L672.0 985.2L665.4 978.6ZM675.5 992.5L682.1 999.1L675.5 1005.7L668.9 999.1ZM677.0 990.5L683.6 997.1L677.0 1003.7L670.4 997.1ZM680.5 968.0L687.1 974.6L680.5 981.2L673.9 974.6ZM681.0 1038.2L687.6 1044.8L681.0 1051.4L674.4 1044.8ZM676.0 1054.2L682.6 1060.8L676.0 1067.4L669.4 1060.8ZM682.0 1055.7L688.6 1062.3L682.0 1068.9L675.4 1062.3ZM665.5 1074.3L672.1 1080.9L665.5 1087.5L658.9 1080.9ZM678.0 1099.8L684.6 1106.4L678.0 1113.0L671.4 1106.4ZM684.6 1128.4L691.2 1135.0L684.6 1141.6L678.0 1135.0Z" fill="#c0504d" stroke="#3a1412" stroke-width="1.2"/>
<path d="M191.6 1309.6L198.7 1316.7L191.6 1323.8L184.5 1316.7ZM195.6 1357.7L202.7 1364.8L195.6 1371.9L188.5 1364.8ZM215.6 1519.2L222.7 1526.3L215.6 1533.4L208.5 1526.3ZM224.2 1509.7L231.3 1516.8L224.2 1523.9L217.1 1516.8ZM232.2 1518.7L239.3 1525.8L232.2 1532.9L225.1 1525.8ZM239.7 1530.2L246.8 1537.3L239.7 1544.4L232.6 1537.3ZM247.7 1536.8L254.8 1543.9L247.7 1551.0L240.6 1543.9ZM255.8 1552.8L262.9 1559.9L255.8 1567.0L248.7 1559.9ZM264.3 1552.8L271.4 1559.9L264.3 1567.0L257.2 1559.9ZM272.3 1560.3L279.4 1567.4L272.3 1574.5L265.2 1567.4ZM279.8 1567.8L286.9 1574.9L279.8 1582.0L272.7 1574.9ZM288.4 1571.9L295.5 1579.0L288.4 1586.1L281.3 1579.0ZM303.9 1580.9L311.0 1588.0L303.9 1595.1L296.8 1588.0ZM312.4 1585.4L319.5 1592.5L312.4 1599.6L305.3 1592.5ZM321.0 1569.3L328.1 1576.4L321.0 1583.5L313.9 1576.4ZM328.5 1589.4L335.6 1596.5L328.5 1603.6L321.4 1596.5ZM337.0 1590.4L344.1 1597.5L337.0 1604.6L329.9 1597.5ZM345.0 1589.4L352.1 1596.5L345.0 1603.6L337.9 1596.5ZM353.1 1590.4L360.2 1597.5L353.1 1604.6L346.0 1597.5ZM361.1 1589.4L368.2 1596.5L361.1 1603.6L354.0 1596.5ZM369.6 1589.4L376.7 1596.5L369.6 1603.6L362.5 1596.5ZM377.6 1585.9L384.7 1593.0L377.6 1600.1L370.5 1593.0ZM385.7 1587.9L392.8 1595.0L385.7 1602.1L378.6 1595.0ZM393.7 1587.9L400.8 1595.0L393.7 1602.1L386.6 1595.0ZM401.7 1587.9L408.8 1595.0L401.7 1602.1L394.6 1595.0ZM410.2 1588.9L417.3 1596.0L410.2 1603.1L403.1 1596.0ZM426.3 1582.4L433.4 1589.5L426.3 1596.6L419.2 1589.5ZM433.8 1577.4L440.9 1584.5L433.8 1591.6L426.7 1584.5ZM441.8 1583.9L448.9 1591.0L441.8 1598.1L434.7 1591.0ZM449.8 1582.4L456.9 1589.5L449.8 1596.6L442.7 1589.5ZM457.9 1585.9L465.0 1593.0L457.9 1600.1L450.8 1593.0ZM465.9 1583.9L473.0 1591.0L465.9 1598.1L458.8 1591.0ZM473.9 1572.9L481.0 1580.0L473.9 1587.1L466.8 1580.0ZM482.4 1585.9L489.5 1593.0L482.4 1600.1L475.3 1593.0ZM490.5 1582.4L497.6 1589.5L490.5 1596.6L483.4 1589.5ZM498.5 1584.4L505.6 1591.5L498.5 1598.6L491.4 1591.5ZM506.5 1582.4L513.6 1589.5L506.5 1596.6L499.4 1589.5ZM514.5 1582.4L521.6 1589.5L514.5 1596.6L507.4 1589.5ZM522.6 1579.4L529.7 1586.5L522.6 1593.6L515.5 1586.5ZM530.6 1580.9L537.7 1588.0L530.6 1595.1L523.5 1588.0ZM539.1 1579.9L546.2 1587.0L539.1 1594.1L532.0 1587.0ZM547.1 1577.9L554.2 1585.0L547.1 1592.1L540.0 1585.0ZM555.2 1577.4L562.3 1584.5L555.2 1591.6L548.1 1584.5ZM563.2 1575.9L570.3 1583.0L563.2 1590.1L556.1 1583.0ZM571.2 1575.4L578.3 1582.5L571.2 1589.6L564.1 1582.5ZM579.2 1569.9L586.3 1577.0L579.2 1584.1L572.1 1577.0ZM587.3 1580.9L594.4 1588.0L587.3 1595.1L580.2 1588.0ZM595.3 1566.8L602.4 1573.9L595.3 1581.0L588.2 1573.9ZM603.3 1561.3L610.4 1568.4L603.3 1575.5L596.2 1568.4ZM611.8 1558.8L618.9 1565.9L611.8 1573.0L604.7 1565.9ZM619.9 1557.3L627.0 1564.4L619.9 1571.5L612.8 1564.4ZM627.9 1551.8L635.0 1558.9L627.9 1566.0L620.8 1558.9ZM635.9 1515.2L643.0 1522.3L635.9 1529.4L628.8 1522.3ZM643.9 1510.2L651.0 1517.3L643.9 1524.4L636.8 1517.3ZM651.5 1491.6L658.6 1498.7L651.5 1505.8L644.4 1498.7ZM659.5 1424.9L666.6 1432.0L659.5 1439.1L652.4 1432.0ZM669.5 1434.4L676.6 1441.5L669.5 1448.6L662.4 1441.5ZM664.5 1329.6L671.6 1336.7L664.5 1343.8L657.4 1336.7ZM670.5 1324.6L677.6 1331.7L670.5 1338.8L663.4 1331.7ZM673.0 1318.6L680.1 1325.7L673.0 1332.8L665.9 1325.7Z" fill="#f6700c" stroke="#5a2a04" stroke-width="1.1"/>
<rect x="196.6" y="1690.6" width="490.5" height="9" fill="#000"/>
<text x="138.5" y="1710.3" font-size="51" text-anchor="start" textLength="37.0" lengthAdjust="spacingAndGlyphs">A</text>
<text x="704.0" y="1710.3" font-size="51" text-anchor="start" textLength="45.0" lengthAdjust="spacingAndGlyphs">A’</text>
<path d="M126.3 1733.2V811.8H751.5V1733.2" fill="none" stroke="#000" stroke-width="2.5"/>
<line x1="125.3" y1="1272.3" x2="752.5" y2="1272.3" stroke="#000" stroke-width="3.4"/>
<line x1="125.3" y1="1733.2" x2="752.5" y2="1733.2" stroke="#000" stroke-width="2.2"/>
<path d="M120.3 811.8H126.3M120.3 888.5H126.3M120.3 965.1H126.3M120.3 1041.8H126.3M120.3 1118.5H126.3M120.3 1195.2H126.3M120.3 1271.8H126.3M120.8 1733.2H126.3M120.8 1641.2H126.3M120.8 1549.3H126.3M120.8 1457.3H126.3M120.8 1365.4H126.3M120.8 1273.5H126.3M127.2 1733.2v5.5M251.1 1733.2v5.5M251.1 1272.3v5.5M374.9 1733.2v5.5M374.9 1272.3v5.5M498.7 1733.2v5.5M498.7 1272.3v5.5M622.6 1733.2v5.5M622.6 1272.3v5.5M746.5 1733.2v5.5" stroke="#666" stroke-width="1.1" fill="none"/>
<text x="84.6" y="834.3" font-size="31.5" text-anchor="middle" textLength="36.5" lengthAdjust="spacingAndGlyphs">10</text>
<text x="84.6" y="910.3" font-size="31.5" text-anchor="middle" textLength="17.5" lengthAdjust="spacingAndGlyphs">5</text>
<text x="84.6" y="986.9" font-size="31.5" text-anchor="middle" textLength="19.0" lengthAdjust="spacingAndGlyphs">0</text>
<text x="84.6" y="1063.3" font-size="31.5" text-anchor="middle" textLength="25.0" lengthAdjust="spacingAndGlyphs">-5</text>
<text x="84.6" y="1140.3" font-size="31.5" text-anchor="middle" textLength="49.0" lengthAdjust="spacingAndGlyphs">-10</text>
<text x="84.6" y="1216.3" font-size="31.5" text-anchor="middle" textLength="49.0" lengthAdjust="spacingAndGlyphs">-15</text>
<text x="93.0" y="1294.0" font-size="31.5" text-anchor="middle" textLength="48.5" lengthAdjust="spacingAndGlyphs">2.5</text>
<text x="93.0" y="1374.3" font-size="31.5" text-anchor="middle" textLength="48.5" lengthAdjust="spacingAndGlyphs">2.0</text>
<text x="93.0" y="1466.0" font-size="31.5" text-anchor="middle" textLength="48.5" lengthAdjust="spacingAndGlyphs">1.5</text>
<text x="93.0" y="1558.3" font-size="31.5" text-anchor="middle" textLength="48.5" lengthAdjust="spacingAndGlyphs">1.0</text>
<text x="93.0" y="1650.0" font-size="31.5" text-anchor="middle" textLength="48.5" lengthAdjust="spacingAndGlyphs">0.5</text>
<text x="93.0" y="1738.0" font-size="31.5" text-anchor="middle" textLength="48.5" lengthAdjust="spacingAndGlyphs">0.0</text>
<text x="119.0" y="1784.0" font-size="31.5" text-anchor="middle" textLength="19.0" lengthAdjust="spacingAndGlyphs">0</text>
<text x="255.3" y="1784.0" font-size="31.5" text-anchor="middle" textLength="59.0" lengthAdjust="spacingAndGlyphs">500</text>
<text x="386.2" y="1784.0" font-size="31.5" text-anchor="middle" textLength="77.7" lengthAdjust="spacingAndGlyphs">1000</text>
<text x="510.6" y="1784.0" font-size="31.5" text-anchor="middle" textLength="78.7" lengthAdjust="spacingAndGlyphs">1500</text>
<text x="635.0" y="1784.0" font-size="31.5" text-anchor="middle" textLength="78.7" lengthAdjust="spacingAndGlyphs">2000</text>
<text x="761.0" y="1784.0" font-size="31.5" text-anchor="middle" textLength="78.7" lengthAdjust="spacingAndGlyphs">2500</text>
<text x="445.0" y="1825.0" font-size="33" text-anchor="middle" font-weight="bold" textLength="248.0" lengthAdjust="spacingAndGlyphs">X position(<tspan font-weight="normal">µm</tspan>)</text>
<g transform="translate(42.8,1558.8) rotate(-90)"><text x="-3.0" y="0" font-size="40.6" textLength="151" lengthAdjust="spacing">Li(ppm)</text></g>
<g transform="translate(45.5,1118.6) rotate(-90)"><text x="10.8" y="0.0" font-size="55" text-anchor="middle" font-family='"Liberation Serif", "DejaVu Serif", serif'>δ</text><text x="34.8" y="-26.3" font-size="27" text-anchor="middle">7</text><text x="60.5" y="0.0" font-size="52.7" text-anchor="middle">L</text><text x="83.9" y="0.0" font-size="52.7" text-anchor="middle">i</text><text x="101.6" y="0.0" font-size="52.7" text-anchor="middle">(</text><text x="135.5" y="0.0" font-size="56" text-anchor="middle" font-family='"Liberation Serif", "DejaVu Serif", serif' textLength="41" lengthAdjust="spacingAndGlyphs">‰</text><text x="168.8" y="0.0" font-size="52.7" text-anchor="middle">)</text></g>
<text x="148.0" y="863.4" font-size="45" text-anchor="start">c</text>
<text x="140.9" y="1324.4" font-size="43" text-anchor="start">d</text>
<defs><clipPath id="ec"><rect x="900" y="805" width="670" height="475"/></clipPath></defs>
<path d="M915.4 811.8H1565.3V1272.6" fill="none" stroke="#000" stroke-width="2"/>
<path d="M1564.9 1272.6V1734.6" fill="none" stroke="#000" stroke-width="2.7"/>
<path d="M915.4 808.8V1736.6M907.4 1272.6H1565.7M907.4 1733.6H1565.7" fill="none" stroke="#868686" stroke-width="2.4"/>
<path d="M907.4 811.8h8M907.4 904.0h8M907.4 996.1h8M907.4 1088.3h8M907.4 1180.4h8M907.4 1272.6h8M907.4 1676.1h8M907.4 1618.6h8M907.4 1561.1h8M907.4 1503.6h8M907.4 1446.1h8M907.4 1388.6h8M907.4 1331.1h8M915.8 1272.6v-6.5M915.8 1733.6v-7.2M915.8 1272.6v5M915.8 1733.6v11M940.7 1272.6v-6.5M940.7 1733.6v-7.2M965.6 1272.6v-6.5M965.6 1733.6v-7.2M990.5 1272.6v-6.5M990.5 1733.6v-7.2M1015.4 1272.6v-6.5M1015.4 1733.6v-7.2M1015.4 1272.6v5M1015.4 1733.6v11M1040.3 1272.6v-6.5M1040.3 1733.6v-7.2M1065.2 1272.6v-6.5M1065.2 1733.6v-7.2M1090.1 1272.6v-6.5M1090.1 1733.6v-7.2M1115.0 1272.6v-6.5M1115.0 1733.6v-7.2M1115.0 1272.6v5M1115.0 1733.6v11M1139.9 1272.6v-6.5M1139.9 1733.6v-7.2M1164.8 1272.6v-6.5M1164.8 1733.6v-7.2M1189.7 1272.6v-6.5M1189.7 1733.6v-7.2M1214.6 1272.6v-6.5M1214.6 1733.6v-7.2M1214.6 1272.6v5M1214.6 1733.6v11M1239.5 1272.6v-6.5M1239.5 1733.6v-7.2M1264.4 1272.6v-6.5M1264.4 1733.6v-7.2M1289.3 1272.6v-6.5M1289.3 1733.6v-7.2M1314.2 1272.6v-6.5M1314.2 1733.6v-7.2M1314.2 1272.6v5M1314.2 1733.6v11M1339.1 1272.6v-6.5M1339.1 1733.6v-7.2M1364.0 1272.6v-6.5M1364.0 1733.6v-7.2M1388.9 1272.6v-6.5M1388.9 1733.6v-7.2M1413.8 1272.6v-6.5M1413.8 1733.6v-7.2M1413.8 1272.6v5M1413.8 1733.6v11M1438.7 1272.6v-6.5M1438.7 1733.6v-7.2M1463.6 1272.6v-6.5M1463.6 1733.6v-7.2M1488.5 1272.6v-6.5M1488.5 1733.6v-7.2M1513.4 1272.6v-6.5M1513.4 1733.6v-7.2M1513.4 1272.6v5M1513.4 1733.6v11M1538.3 1272.6v-6.5M1538.3 1733.6v-7.2M1563.2 1272.6v-6.5M1563.2 1733.6v-7.2" stroke="#868686" stroke-width="1.5" fill="none"/>
<line x1="966" y1="811.8" x2="966" y2="1733.6" stroke="#000" stroke-width="2" stroke-dasharray="6.6 4.4"/>
<g clip-path="url(#ec)">
<path d="M926.1 904.5V954.3M921.9 904.5h8.4M921.9 954.3h8.4M931.4 920.3V985.5M927.2 920.3h8.4M927.2 985.5h8.4M936.6 931.9V976.5M932.4 931.9h8.4M932.4 976.5h8.4M935.3 943.8V990.7M931.1 943.8h8.4M931.1 990.7h8.4M939.2 959.0V1001.7M935.0 959.0h8.4M935.0 1001.7h8.4M919.6 945.0V1015.7M915.4 945.0h8.4M915.4 1015.7h8.4M920.9 966.3V1015.3M916.7 966.3h8.4M916.7 1015.3h8.4M928.8 944.0V1001.0M924.6 944.0h8.4M924.6 1001.0h8.4M948.4 924.9V978.3M944.2 924.9h8.4M944.2 978.3h8.4M953.6 906.7V978.2M949.4 906.7h8.4M949.4 978.2h8.4M948.4 935.6V999.0M944.2 935.6h8.4M944.2 999.0h8.4M957.5 950.3V1010.4M953.3 950.3h8.4M953.3 1010.4h8.4M962.7 944.2V1000.8M958.5 944.2h8.4M958.5 1000.8h8.4M932.7 971.0V1021.0M928.5 971.0h8.4M928.5 1021.0h8.4M926.1 975.5V1042.7M921.9 975.5h8.4M921.9 1042.7h8.4M932.7 1000.9V1046.0M928.5 1000.9h8.4M928.5 1046.0h8.4M917.0 1004.9V1065.6M912.8 1004.9h8.4M912.8 1065.6h8.4M937.9 1016.3V1067.2M933.7 1016.3h8.4M933.7 1067.2h8.4M924.8 1024.5V1074.8M920.6 1024.5h8.4M920.6 1074.8h8.4M915.7 1030.9V1086.6M911.5 1030.9h8.4M911.5 1086.6h8.4M919.6 1051.9V1099.6M915.4 1051.9h8.4M915.4 1099.6h8.4M914.4 1065.5V1125.2M910.2 1065.5h8.4M910.2 1125.2h8.4M928.8 1073.3V1117.4M924.6 1073.3h8.4M924.6 1117.4h8.4M915.7 1089.7V1132.3M911.5 1089.7h8.4M911.5 1132.3h8.4M941.8 1097.1V1143.3M937.6 1097.1h8.4M937.6 1143.3h8.4M930.1 1107.0V1151.7M925.9 1107.0h8.4M925.9 1151.7h8.4M914.4 1088.6V1157.0M910.2 1088.6h8.4M910.2 1157.0h8.4M915.7 1154.3V1211.6M911.5 1154.3h8.4M911.5 1211.6h8.4M917.0 1210.5V1272.9M912.8 1210.5h8.4M912.8 1272.9h8.4M974.5 903.2V968.6M970.3 903.2h8.4M970.3 968.6h8.4M973.2 922.9V969.8M969.0 922.9h8.4M969.0 969.8h8.4M978.4 921.6V992.1M974.2 921.6h8.4M974.2 992.1h8.4M987.6 913.1V966.6M983.4 913.1h8.4M983.4 966.6h8.4M992.8 930.2V986.0M988.6 930.2h8.4M988.6 986.0h8.4M978.4 949.4V1006.1M974.2 949.4h8.4M974.2 1006.1h8.4M994.1 950.2V1013.1M989.9 950.2h8.4M989.9 1013.1h8.4M995.4 976.6V1041.6M991.2 976.6h8.4M991.2 1041.6h8.4M1000.6 891.1V938.9M996.4 891.1h8.4M996.4 938.9h8.4M1009.8 916.9V983.7M1005.6 916.9h8.4M1005.6 983.7h8.4M1015.0 945.1V999.9M1010.8 945.1h8.4M1010.8 999.9h8.4M1011.1 962.1V1011.6M1006.9 962.1h8.4M1006.9 1011.6h8.4M1021.5 911.1V979.0M1017.3 911.1h8.4M1017.3 979.0h8.4M1028.1 948.9V1017.0M1023.9 948.9h8.4M1023.9 1017.0h8.4M1037.2 900.7V968.5M1033.0 900.7h8.4M1033.0 968.5h8.4M1035.9 933.6V985.3M1031.7 933.6h8.4M1031.7 985.3h8.4M1034.6 962.6V1032.0M1030.4 962.6h8.4M1030.4 1032.0h8.4M1042.4 945.1V1010.4M1038.2 945.1h8.4M1038.2 1010.4h8.4M1051.6 927.8V998.9M1047.4 927.8h8.4M1047.4 998.9h8.4M1054.2 921.9V986.5M1050.0 921.9h8.4M1050.0 986.5h8.4M1058.1 970.5V1042.5M1053.9 970.5h8.4M1053.9 1042.5h8.4M1069.9 920.8V977.2M1065.7 920.8h8.4M1065.7 977.2h8.4M1073.8 935.0V999.5M1069.6 935.0h8.4M1069.6 999.5h8.4M1074.6 890.1V955.6M1070.4 890.1h8.4M1070.4 955.6h8.4M1074.6 965.9V1023.6M1070.4 965.9h8.4M1070.4 1023.6h8.4M1089.5 995.4V1052.6M1085.3 995.4h8.4M1085.3 1052.6h8.4M1092.1 933.7V987.7M1087.9 933.7h8.4M1087.9 987.7h8.4M1093.4 905.8V973.9M1089.2 905.8h8.4M1089.2 973.9h8.4M1101.3 952.4V1005.7M1097.1 952.4h8.4M1097.1 1005.7h8.4M1122.2 910.2V974.6M1118.0 910.2h8.4M1118.0 974.6h8.4M1122.7 1008.9V1067.8M1118.5 1008.9h8.4M1118.5 1067.8h8.4M1130.0 940.9V1004.1M1125.8 940.9h8.4M1125.8 1004.1h8.4M1133.4 924.6V975.9M1129.2 924.6h8.4M1129.2 975.9h8.4M1149.6 935.9V980.3M1145.4 935.9h8.4M1145.4 980.3h8.4M1153.5 903.5V965.7M1149.3 903.5h8.4M1149.3 965.7h8.4M1153.5 962.9V1009.3M1149.3 962.9h8.4M1149.3 1009.3h8.4M1154.8 933.0V985.8M1150.6 933.0h8.4M1150.6 985.8h8.4M1169.2 901.9V967.3M1165.0 901.9h8.4M1165.0 967.3h8.4M1184.9 941.6V985.1M1180.7 941.6h8.4M1180.7 985.1h8.4M1185.4 958.7V1028.1M1181.2 958.7h8.4M1181.2 1028.1h8.4M1191.4 928.3V988.0M1187.2 928.3h8.4M1187.2 988.0h8.4M1208.4 935.8V994.6M1204.2 935.8h8.4M1204.2 994.6h8.4M1212.3 957.6V1019.9M1208.1 957.6h8.4M1208.1 1019.9h8.4M1217.6 901.0V944.7M1213.4 901.0h8.4M1213.4 944.7h8.4M1217.6 1004.0V1046.6M1213.4 1004.0h8.4M1213.4 1046.6h8.4M1228.0 928.9V992.6M1223.8 928.9h8.4M1223.8 992.6h8.4M1231.9 946.6V1006.2M1227.7 946.6h8.4M1227.7 1006.2h8.4M1217.2 893.0V954.2M1213.0 893.0h8.4M1213.0 954.2h8.4M1217.7 992.4V1059.1M1213.5 992.4h8.4M1213.5 1059.1h8.4M1227.2 936.9V987.0M1223.0 936.9h8.4M1223.0 987.0h8.4M1231.2 953.5V1000.4M1227.0 953.5h8.4M1227.0 1000.4h8.4M1247.6 880.6V951.7M1243.4 880.6h8.4M1243.4 951.7h8.4M1248.6 929.1V972.9M1244.4 929.1h8.4M1244.4 972.9h8.4M1249.6 953.2V1010.7M1245.4 953.2h8.4M1245.4 1010.7h8.4M1251.1 929.1V989.9M1246.9 929.1h8.4M1246.9 989.9h8.4M1271.1 936.6V1007.3M1266.9 936.6h8.4M1266.9 1007.3h8.4M1291.0 967.1V1011.7M1286.8 967.1h8.4M1286.8 1011.7h8.4M1306.9 899.5V962.6M1302.7 899.5h8.4M1302.7 962.6h8.4M1312.4 889.0V933.3M1308.2 889.0h8.4M1308.2 933.3h8.4M1312.4 930.7V986.3M1308.2 930.7h8.4M1308.2 986.3h8.4M1330.9 928.2V988.8M1326.7 928.2h8.4M1326.7 988.8h8.4M1345.8 905.8V973.3M1341.6 905.8h8.4M1341.6 973.3h8.4M1344.8 946.8V990.2M1340.6 946.8h8.4M1340.6 990.2h8.4M1350.8 927.3V991.7M1346.6 927.3h8.4M1346.6 991.7h8.4M1369.8 922.8V969.3M1365.6 922.8h8.4M1365.6 969.3h8.4M1378.2 922.5V976.6M1374.0 922.5h8.4M1374.0 976.6h8.4M1385.7 951.2V1022.6M1381.5 951.2h8.4M1381.5 1022.6h8.4M1390.7 913.3V980.8M1386.5 913.3h8.4M1386.5 980.8h8.4M1405.7 947.3V991.6M1401.5 947.3h8.4M1401.5 991.6h8.4M1409.6 936.9V979.1M1405.4 936.9h8.4M1405.4 979.1h8.4M1425.6 958.0V1000.9M1421.4 958.0h8.4M1421.4 1000.9h8.4M1445.5 930.8V996.2M1441.3 930.8h8.4M1441.3 996.2h8.4M1450.5 945.4V988.5M1446.3 945.4h8.4M1446.3 988.5h8.4M1469.0 898.3V963.9M1464.8 898.3h8.4M1464.8 963.9h8.4M1489.4 942.3V1008.6M1485.2 942.3h8.4M1485.2 1008.6h8.4M1508.8 940.2V1006.7M1504.6 940.2h8.4M1504.6 1006.7h8.4M1528.8 898.5V968.6M1524.6 898.5h8.4M1524.6 968.6h8.4M1153.9 904.1V965.1M1149.7 904.1h8.4M1149.7 965.1h8.4M1153.9 953.5V1020.3M1149.7 953.5h8.4M1149.7 1020.3h8.4M1167.9 905.4V963.7M1163.7 905.4h8.4M1163.7 963.7h8.4M1171.4 938.4V1000.5M1167.2 938.4h8.4M1167.2 1000.5h8.4M1183.8 972.3V1016.4M1179.6 972.3h8.4M1179.6 1016.4h8.4M1186.3 932.7V991.2M1182.1 932.7h8.4M1182.1 991.2h8.4M1196.3 918.7V990.4M1192.1 918.7h8.4M1192.1 990.4h8.4M1207.7 937.7V991.3M1203.5 937.7h8.4M1203.5 991.3h8.4M1212.7 957.7V1021.1M1208.5 957.7h8.4M1208.5 1021.1h8.4M953.8 942.3V989.7M949.6 942.3h8.4M949.6 989.7h8.4M954.9 913.8V970.3M950.7 913.8h8.4M950.7 970.3h8.4M922.1 1017.4V1075.6M917.9 1017.4h8.4M917.9 1075.6h8.4M945.1 921.0V986.1M940.9 921.0h8.4M940.9 986.1h8.4M923.5 993.9V1045.5M919.3 993.9h8.4M919.3 1045.5h8.4M956.2 950.5V1006.5M952.0 950.5h8.4M952.0 1006.5h8.4M918.1 1062.9V1110.6M913.9 1062.9h8.4M913.9 1110.6h8.4M954.5 932.1V991.4M950.3 932.1h8.4M950.3 991.4h8.4M940.3 915.9V986.1M936.1 915.9h8.4M936.1 986.1h8.4M931.7 951.0V1004.6M927.5 951.0h8.4M927.5 1004.6h8.4M920.8 999.5V1061.3M916.6 999.5h8.4M916.6 1061.3h8.4M926.3 980.6V1039.3M922.1 980.6h8.4M922.1 1039.3h8.4M925.7 946.3V994.2M921.5 946.3h8.4M921.5 994.2h8.4M942.7 919.1V982.0M938.5 919.1h8.4M938.5 982.0h8.4M937.1 938.4V986.8M932.9 938.4h8.4M932.9 986.8h8.4M955.7 936.8V997.2M951.5 936.8h8.4M951.5 997.2h8.4M962.3 924.4V996.3M958.1 924.4h8.4M958.1 996.3h8.4M956.2 971.6V1022.8M952.0 971.6h8.4M952.0 1022.8h8.4M921.2 1008.2V1070.2M917.0 1008.2h8.4M917.0 1070.2h8.4M953.0 929.4V981.6M948.8 929.4h8.4M948.8 981.6h8.4M941.7 907.5V968.8M937.5 907.5h8.4M937.5 968.8h8.4M952.8 917.9V965.6M948.6 917.9h8.4M948.6 965.6h8.4M942.4 889.2V946.3M938.2 889.2h8.4M938.2 946.3h8.4M919.4 993.2V1058.8M915.2 993.2h8.4M915.2 1058.8h8.4M955.8 894.2V942.6M951.6 894.2h8.4M951.6 942.6h8.4M960.6 938.0V990.6M956.4 938.0h8.4M956.4 990.6h8.4M941.4 929.0V977.8M937.2 929.0h8.4M937.2 977.8h8.4M951.0 907.9V954.7M946.8 907.9h8.4M946.8 954.7h8.4M952.4 970.2V1032.3M948.2 970.2h8.4M948.2 1032.3h8.4M918.4 1019.2V1086.1M914.2 1019.2h8.4M914.2 1086.1h8.4M939.8 908.2V966.0M935.6 908.2h8.4M935.6 966.0h8.4M962.6 924.6V980.0M958.4 924.6h8.4M958.4 980.0h8.4M922.3 937.2V988.3M918.1 937.2h8.4M918.1 988.3h8.4M948.7 938.1V987.2M944.5 938.1h8.4M944.5 987.2h8.4M919.4 1066.4V1136.7M915.2 1066.4h8.4M915.2 1136.7h8.4M921.2 994.8V1051.2M917.0 994.8h8.4M917.0 1051.2h8.4M930.6 896.7V959.1M926.4 896.7h8.4M926.4 959.1h8.4M959.2 907.5V957.8M955.0 907.5h8.4M955.0 957.8h8.4M959.6 934.1V981.3M955.4 934.1h8.4M955.4 981.3h8.4M919.7 1068.9V1111.2M915.5 1068.9h8.4M915.5 1111.2h8.4M939.1 931.0V981.9M934.9 931.0h8.4M934.9 981.9h8.4M918.0 1116.2V1170.8M913.8 1116.2h8.4M913.8 1170.8h8.4M917.2 1058.9V1116.6M913.0 1058.9h8.4M913.0 1116.6h8.4M922.1 958.3V1018.8M917.9 958.3h8.4M917.9 1018.8h8.4M934.9 979.0V1041.7M930.7 979.0h8.4M930.7 1041.7h8.4M923.1 963.4V1031.7M918.9 963.4h8.4M918.9 1031.7h8.4M942.0 975.3V1031.4M937.8 975.3h8.4M937.8 1031.4h8.4M964.5 981.5V1035.2M960.3 981.5h8.4M960.3 1035.2h8.4M951.0 1007.7V1063.8M946.8 1007.7h8.4M946.8 1063.8h8.4M948.5 1028.8V1079.6M944.3 1028.8h8.4M944.3 1079.6h8.4M981.9 1022.0V1071.5M977.7 1022.0h8.4M977.7 1071.5h8.4M971.0 936.3V994.6M966.8 936.3h8.4M966.8 994.6h8.4M1007.8 906.6V964.5M1003.6 906.6h8.4M1003.6 964.5h8.4M1027.8 896.7V944.5M1023.6 896.7h8.4M1023.6 944.5h8.4M1024.3 932.3V989.7M1020.1 932.3h8.4M1020.1 989.7h8.4M1044.2 960.1V1008.7M1040.0 960.1h8.4M1040.0 1008.7h8.4M1059.2 898.6V953.6M1055.0 898.6h8.4M1055.0 953.6h8.4M1079.1 931.8V972.3M1074.9 931.8h8.4M1074.9 972.3h8.4M1107.5 926.1V978.0M1103.3 926.1h8.4M1103.3 978.0h8.4M1114.0 942.5V1001.4M1109.8 942.5h8.4M1109.8 1001.4h8.4M1139.0 978.0V1026.7M1134.8 978.0h8.4M1134.8 1026.7h8.4M1172.9 915.8V973.2M1168.7 915.8h8.4M1168.7 973.2h8.4M1176.3 949.1V1002.7M1172.1 949.1h8.4M1172.1 1002.7h8.4M1197.3 931.8V972.2M1193.1 931.8h8.4M1193.1 972.2h8.4M1256.1 902.8V944.4M1251.9 902.8h8.4M1251.9 944.4h8.4M1282.5 918.7V965.3M1278.3 918.7h8.4M1278.3 965.3h8.4M1279.5 934.8V994.2M1275.3 934.8h8.4M1275.3 994.2h8.4M1300.0 925.9V979.1M1295.8 925.9h8.4M1295.8 979.1h8.4M1308.4 917.1V969.0M1304.2 917.1h8.4M1304.2 969.0h8.4M919.6 967.4V1030.9M915.4 967.4h8.4M915.4 1030.9h8.4M915.7 988.1V1035.3M911.5 988.1h8.4M911.5 1035.3h8.4M917.0 1000.5V1041.2M912.8 1000.5h8.4M912.8 1041.2h8.4M924.8 987.9V1038.1M920.6 987.9h8.4M920.6 1038.1h8.4M918.3 1013.2V1078.2M914.1 1013.2h8.4M914.1 1078.2h8.4M915.7 1036.8V1078.1M911.5 1036.8h8.4M911.5 1078.1h8.4M923.0 1027.6V1079.4M918.8 1027.6h8.4M918.8 1079.4h8.4M923.5 1051.2V1096.6M919.3 1051.2h8.4M919.3 1096.6h8.4M935.3 1061.2V1108.6M931.1 1061.2h8.4M931.1 1108.6h8.4M919.6 1077.2V1116.1M915.4 1077.2h8.4M915.4 1116.1h8.4M922.2 1070.7V1135.7M918.0 1070.7h8.4M918.0 1135.7h8.4M934.0 1088.9V1133.1M929.8 1088.9h8.4M929.8 1133.1h8.4M923.0 1090.9V1152.1M918.8 1090.9h8.4M918.8 1152.1h8.4M916.2 1111.2V1152.7M912.0 1111.2h8.4M912.0 1152.7h8.4M918.3 1117.6V1167.2M914.1 1117.6h8.4M914.1 1167.2h8.4M914.4 1130.0V1166.8M910.2 1130.0h8.4M910.2 1166.8h8.4M920.9 1118.9V1173.7M916.7 1118.9h8.4M916.7 1173.7h8.4M925.4 1124.1V1176.4M921.2 1124.1h8.4M921.2 1176.4h8.4M932.7 1131.9V1181.7M928.5 1131.9h8.4M928.5 1181.7h8.4M917.0 1139.5V1181.9M912.8 1139.5h8.4M912.8 1181.9h8.4M930.1 1142.9V1199.4M925.9 1142.9h8.4M925.9 1199.4h8.4M917.0 1156.5V1193.6M912.8 1156.5h8.4M912.8 1193.6h8.4M918.3 1156.5V1222.4M914.1 1156.5h8.4M914.1 1222.4h8.4M916.2 1176.3V1227.7M912.0 1176.3h8.4M912.0 1227.7h8.4M925.4 1202.2V1257.7M921.2 1202.2h8.4M921.2 1257.7h8.4" stroke="#000" stroke-width="2" fill="none"/>
<g fill="#9bbb59" stroke="#2f3a17" stroke-width="0.9"><ellipse cx="926.1" cy="929.4" rx="7.3" ry="8.0"/><ellipse cx="931.4" cy="952.9" rx="7.3" ry="8.0"/><ellipse cx="936.6" cy="954.2" rx="7.3" ry="8.0"/><ellipse cx="935.3" cy="967.3" rx="7.3" ry="8.0"/><ellipse cx="939.2" cy="980.3" rx="7.3" ry="8.0"/><ellipse cx="919.6" cy="980.3" rx="7.3" ry="8.0"/><ellipse cx="920.9" cy="990.8" rx="7.3" ry="8.0"/><ellipse cx="928.8" cy="972.5" rx="7.3" ry="8.0"/><ellipse cx="948.4" cy="951.6" rx="7.3" ry="8.0"/><ellipse cx="953.6" cy="942.4" rx="7.3" ry="8.0"/><ellipse cx="948.4" cy="967.3" rx="7.3" ry="8.0"/><ellipse cx="957.5" cy="980.3" rx="7.3" ry="8.0"/><ellipse cx="962.7" cy="972.5" rx="7.3" ry="8.0"/><ellipse cx="932.7" cy="996.0" rx="7.3" ry="8.0"/><ellipse cx="926.1" cy="1009.1" rx="7.3" ry="8.0"/><ellipse cx="932.7" cy="1023.5" rx="7.3" ry="8.0"/><ellipse cx="917.0" cy="1035.2" rx="7.3" ry="8.0"/><ellipse cx="937.9" cy="1041.8" rx="7.3" ry="8.0"/><ellipse cx="924.8" cy="1049.6" rx="7.3" ry="8.0"/><ellipse cx="915.7" cy="1058.8" rx="7.3" ry="8.0"/><ellipse cx="919.6" cy="1075.7" rx="7.3" ry="8.0"/><ellipse cx="914.4" cy="1095.3" rx="7.3" ry="8.0"/><ellipse cx="928.8" cy="1095.3" rx="7.3" ry="8.0"/><ellipse cx="915.7" cy="1111.0" rx="7.3" ry="8.0"/><ellipse cx="941.8" cy="1120.2" rx="7.3" ry="8.0"/><ellipse cx="930.1" cy="1129.3" rx="7.3" ry="8.0"/><ellipse cx="914.4" cy="1122.8" rx="7.3" ry="8.0"/><ellipse cx="915.7" cy="1182.9" rx="7.3" ry="8.0"/><ellipse cx="917.0" cy="1241.7" rx="7.3" ry="8.0"/><ellipse cx="974.5" cy="935.9" rx="7.3" ry="8.0"/><ellipse cx="973.2" cy="946.4" rx="7.3" ry="8.0"/><ellipse cx="978.4" cy="956.8" rx="7.3" ry="8.0"/><ellipse cx="987.6" cy="939.8" rx="7.3" ry="8.0"/><ellipse cx="992.8" cy="958.1" rx="7.3" ry="8.0"/><ellipse cx="978.4" cy="977.7" rx="7.3" ry="8.0"/><ellipse cx="994.1" cy="981.7" rx="7.3" ry="8.0"/><ellipse cx="995.4" cy="1009.1" rx="7.3" ry="8.0"/><ellipse cx="1000.6" cy="915.0" rx="7.3" ry="8.0"/><ellipse cx="1009.8" cy="950.3" rx="7.3" ry="8.0"/><ellipse cx="1015.0" cy="972.5" rx="7.3" ry="8.0"/><ellipse cx="1011.1" cy="986.9" rx="7.3" ry="8.0"/><ellipse cx="1021.5" cy="945.1" rx="7.3" ry="8.0"/><ellipse cx="1028.1" cy="983.0" rx="7.3" ry="8.0"/><ellipse cx="1037.2" cy="934.6" rx="7.3" ry="8.0"/><ellipse cx="1035.9" cy="959.4" rx="7.3" ry="8.0"/><ellipse cx="1034.6" cy="997.3" rx="7.3" ry="8.0"/><ellipse cx="1042.4" cy="977.7" rx="7.3" ry="8.0"/><ellipse cx="1051.6" cy="963.4" rx="7.3" ry="8.0"/><ellipse cx="1054.2" cy="954.2" rx="7.3" ry="8.0"/><ellipse cx="1058.1" cy="1006.5" rx="7.3" ry="8.0"/><ellipse cx="1069.9" cy="949.0" rx="7.3" ry="8.0"/><ellipse cx="1073.8" cy="967.3" rx="7.3" ry="8.0"/><ellipse cx="1074.6" cy="922.8" rx="7.3" ry="8.0"/><ellipse cx="1074.6" cy="994.7" rx="7.3" ry="8.0"/><ellipse cx="1089.5" cy="1024.0" rx="7.3" ry="8.0"/><ellipse cx="1092.1" cy="960.7" rx="7.3" ry="8.0"/><ellipse cx="1093.4" cy="939.8" rx="7.3" ry="8.0"/><ellipse cx="1101.3" cy="979.0" rx="7.3" ry="8.0"/><ellipse cx="1122.2" cy="942.4" rx="7.3" ry="8.0"/><ellipse cx="1122.7" cy="1038.4" rx="7.3" ry="8.0"/><ellipse cx="1130.0" cy="972.5" rx="7.3" ry="8.0"/><ellipse cx="1133.4" cy="950.3" rx="7.3" ry="8.0"/><ellipse cx="1149.6" cy="958.1" rx="7.3" ry="8.0"/><ellipse cx="1153.5" cy="934.6" rx="7.3" ry="8.0"/><ellipse cx="1153.5" cy="986.1" rx="7.3" ry="8.0"/><ellipse cx="1154.8" cy="959.4" rx="7.3" ry="8.0"/><ellipse cx="1169.2" cy="934.6" rx="7.3" ry="8.0"/><ellipse cx="1184.9" cy="963.4" rx="7.3" ry="8.0"/><ellipse cx="1185.4" cy="993.4" rx="7.3" ry="8.0"/><ellipse cx="1191.4" cy="958.1" rx="7.3" ry="8.0"/><ellipse cx="1208.4" cy="965.2" rx="7.3" ry="8.0"/><ellipse cx="1212.3" cy="988.7" rx="7.3" ry="8.0"/><ellipse cx="1217.6" cy="922.8" rx="7.3" ry="8.0"/><ellipse cx="1217.6" cy="1025.3" rx="7.3" ry="8.0"/><ellipse cx="1228.0" cy="960.7" rx="7.3" ry="8.0"/><ellipse cx="1231.9" cy="976.4" rx="7.3" ry="8.0"/><ellipse cx="1217.2" cy="923.6" rx="7.3" ry="8.0"/><ellipse cx="1217.7" cy="1025.8" rx="7.3" ry="8.0"/><ellipse cx="1227.2" cy="962.0" rx="7.3" ry="8.0"/><ellipse cx="1231.2" cy="976.9" rx="7.3" ry="8.0"/><ellipse cx="1247.6" cy="916.1" rx="7.3" ry="8.0"/><ellipse cx="1248.6" cy="951.0" rx="7.3" ry="8.0"/><ellipse cx="1249.6" cy="981.9" rx="7.3" ry="8.0"/><ellipse cx="1251.1" cy="959.5" rx="7.3" ry="8.0"/><ellipse cx="1271.1" cy="972.0" rx="7.3" ry="8.0"/><ellipse cx="1291.0" cy="989.4" rx="7.3" ry="8.0"/><ellipse cx="1306.9" cy="931.1" rx="7.3" ry="8.0"/><ellipse cx="1312.4" cy="911.1" rx="7.3" ry="8.0"/><ellipse cx="1312.4" cy="958.5" rx="7.3" ry="8.0"/><ellipse cx="1330.9" cy="958.5" rx="7.3" ry="8.0"/><ellipse cx="1345.8" cy="939.6" rx="7.3" ry="8.0"/><ellipse cx="1344.8" cy="968.5" rx="7.3" ry="8.0"/><ellipse cx="1350.8" cy="959.5" rx="7.3" ry="8.0"/><ellipse cx="1369.8" cy="946.0" rx="7.3" ry="8.0"/><ellipse cx="1378.2" cy="949.5" rx="7.3" ry="8.0"/><ellipse cx="1385.7" cy="986.9" rx="7.3" ry="8.0"/><ellipse cx="1390.7" cy="947.0" rx="7.3" ry="8.0"/><ellipse cx="1405.7" cy="969.5" rx="7.3" ry="8.0"/><ellipse cx="1409.6" cy="958.0" rx="7.3" ry="8.0"/><ellipse cx="1425.6" cy="979.4" rx="7.3" ry="8.0"/><ellipse cx="1445.5" cy="963.5" rx="7.3" ry="8.0"/><ellipse cx="1450.5" cy="967.0" rx="7.3" ry="8.0"/><ellipse cx="1469.0" cy="931.1" rx="7.3" ry="8.0"/><ellipse cx="1489.4" cy="975.4" rx="7.3" ry="8.0"/><ellipse cx="1508.8" cy="973.4" rx="7.3" ry="8.0"/><ellipse cx="1528.8" cy="933.6" rx="7.3" ry="8.0"/><ellipse cx="1153.9" cy="934.6" rx="7.3" ry="8.0"/><ellipse cx="1153.9" cy="986.9" rx="7.3" ry="8.0"/><ellipse cx="1167.9" cy="934.6" rx="7.3" ry="8.0"/><ellipse cx="1171.4" cy="969.5" rx="7.3" ry="8.0"/><ellipse cx="1183.8" cy="994.4" rx="7.3" ry="8.0"/><ellipse cx="1186.3" cy="962.0" rx="7.3" ry="8.0"/><ellipse cx="1196.3" cy="954.5" rx="7.3" ry="8.0"/><ellipse cx="1207.7" cy="964.5" rx="7.3" ry="8.0"/><ellipse cx="1212.7" cy="989.4" rx="7.3" ry="8.0"/><ellipse cx="953.8" cy="966.0" rx="7.3" ry="8.0"/><ellipse cx="954.9" cy="942.0" rx="7.3" ry="8.0"/><ellipse cx="922.1" cy="1046.5" rx="7.3" ry="8.0"/><ellipse cx="945.1" cy="953.6" rx="7.3" ry="8.0"/><ellipse cx="923.5" cy="1019.7" rx="7.3" ry="8.0"/><ellipse cx="956.2" cy="978.5" rx="7.3" ry="8.0"/><ellipse cx="918.1" cy="1086.7" rx="7.3" ry="8.0"/><ellipse cx="954.5" cy="961.8" rx="7.3" ry="8.0"/><ellipse cx="940.3" cy="951.0" rx="7.3" ry="8.0"/><ellipse cx="931.7" cy="977.8" rx="7.3" ry="8.0"/><ellipse cx="920.8" cy="1030.4" rx="7.3" ry="8.0"/><ellipse cx="926.3" cy="1010.0" rx="7.3" ry="8.0"/><ellipse cx="925.7" cy="970.3" rx="7.3" ry="8.0"/><ellipse cx="942.7" cy="950.6" rx="7.3" ry="8.0"/><ellipse cx="937.1" cy="962.6" rx="7.3" ry="8.0"/><ellipse cx="955.7" cy="967.0" rx="7.3" ry="8.0"/><ellipse cx="962.3" cy="960.4" rx="7.3" ry="8.0"/><ellipse cx="956.2" cy="997.2" rx="7.3" ry="8.0"/><ellipse cx="921.2" cy="1039.2" rx="7.3" ry="8.0"/><ellipse cx="953.0" cy="955.5" rx="7.3" ry="8.0"/><ellipse cx="941.7" cy="938.1" rx="7.3" ry="8.0"/><ellipse cx="952.8" cy="941.7" rx="7.3" ry="8.0"/><ellipse cx="942.4" cy="917.7" rx="7.3" ry="8.0"/><ellipse cx="919.4" cy="1026.0" rx="7.3" ry="8.0"/><ellipse cx="955.8" cy="918.4" rx="7.3" ry="8.0"/><ellipse cx="960.6" cy="964.3" rx="7.3" ry="8.0"/><ellipse cx="941.4" cy="953.4" rx="7.3" ry="8.0"/><ellipse cx="951.0" cy="931.3" rx="7.3" ry="8.0"/><ellipse cx="952.4" cy="1001.3" rx="7.3" ry="8.0"/><ellipse cx="918.4" cy="1052.7" rx="7.3" ry="8.0"/><ellipse cx="939.8" cy="937.1" rx="7.3" ry="8.0"/><ellipse cx="962.6" cy="952.3" rx="7.3" ry="8.0"/><ellipse cx="922.3" cy="962.7" rx="7.3" ry="8.0"/><ellipse cx="948.7" cy="962.6" rx="7.3" ry="8.0"/><ellipse cx="919.4" cy="1101.6" rx="7.3" ry="8.0"/><ellipse cx="921.2" cy="1023.0" rx="7.3" ry="8.0"/><ellipse cx="930.6" cy="927.9" rx="7.3" ry="8.0"/><ellipse cx="959.2" cy="932.6" rx="7.3" ry="8.0"/><ellipse cx="959.6" cy="957.7" rx="7.3" ry="8.0"/><ellipse cx="919.7" cy="1090.1" rx="7.3" ry="8.0"/><ellipse cx="939.1" cy="956.4" rx="7.3" ry="8.0"/><ellipse cx="918.0" cy="1143.5" rx="7.3" ry="8.0"/><ellipse cx="917.2" cy="1087.7" rx="7.3" ry="8.0"/><ellipse cx="922.1" cy="988.6" rx="7.3" ry="8.0"/><ellipse cx="934.9" cy="1010.3" rx="7.3" ry="8.0"/><ellipse cx="923.1" cy="997.5" rx="7.3" ry="8.0"/></g>
<g fill="#4f81bd" stroke="#17273d" stroke-width="0.9"><ellipse cx="919.6" cy="999.2" rx="4.8" ry="5.3"/><ellipse cx="915.7" cy="1011.7" rx="4.8" ry="5.3"/><ellipse cx="917.0" cy="1020.9" rx="4.8" ry="5.3"/><ellipse cx="924.8" cy="1013.0" rx="4.8" ry="5.3"/><ellipse cx="918.3" cy="1045.7" rx="4.8" ry="5.3"/><ellipse cx="915.7" cy="1057.4" rx="4.8" ry="5.3"/><ellipse cx="923.0" cy="1053.5" rx="4.8" ry="5.3"/><ellipse cx="923.5" cy="1073.9" rx="4.8" ry="5.3"/><ellipse cx="935.3" cy="1084.9" rx="4.8" ry="5.3"/><ellipse cx="919.6" cy="1096.7" rx="4.8" ry="5.3"/><ellipse cx="922.2" cy="1103.2" rx="4.8" ry="5.3"/><ellipse cx="934.0" cy="1111.0" rx="4.8" ry="5.3"/><ellipse cx="923.0" cy="1121.5" rx="4.8" ry="5.3"/><ellipse cx="916.2" cy="1131.9" rx="4.8" ry="5.3"/><ellipse cx="918.3" cy="1142.4" rx="4.8" ry="5.3"/><ellipse cx="914.4" cy="1148.4" rx="4.8" ry="5.3"/><ellipse cx="920.9" cy="1146.3" rx="4.8" ry="5.3"/><ellipse cx="925.4" cy="1150.2" rx="4.8" ry="5.3"/><ellipse cx="932.7" cy="1156.8" rx="4.8" ry="5.3"/><ellipse cx="917.0" cy="1160.7" rx="4.8" ry="5.3"/><ellipse cx="930.1" cy="1171.1" rx="4.8" ry="5.3"/><ellipse cx="917.0" cy="1175.1" rx="4.8" ry="5.3"/><ellipse cx="918.3" cy="1189.4" rx="4.8" ry="5.3"/><ellipse cx="916.2" cy="1202.0" rx="4.8" ry="5.3"/><ellipse cx="925.4" cy="1230.0" rx="4.8" ry="5.3"/></g>
<g fill="#c0504d" stroke="#3d1716" stroke-width="0.9"><ellipse cx="942.0" cy="1003.4" rx="8.8" ry="9.7"/><ellipse cx="964.5" cy="1008.3" rx="8.8" ry="9.7"/><ellipse cx="951.0" cy="1035.8" rx="8.8" ry="9.7"/><ellipse cx="948.5" cy="1054.2" rx="8.8" ry="9.7"/><ellipse cx="981.9" cy="1046.7" rx="8.8" ry="9.7"/><ellipse cx="971.0" cy="965.5" rx="8.8" ry="9.7"/><ellipse cx="1007.8" cy="935.6" rx="8.8" ry="9.7"/><ellipse cx="1027.8" cy="920.6" rx="8.8" ry="9.7"/><ellipse cx="1024.3" cy="961.0" rx="8.8" ry="9.7"/><ellipse cx="1044.2" cy="984.4" rx="8.8" ry="9.7"/><ellipse cx="1059.2" cy="926.1" rx="8.8" ry="9.7"/><ellipse cx="1079.1" cy="952.0" rx="8.8" ry="9.7"/><ellipse cx="1107.5" cy="952.0" rx="8.8" ry="9.7"/><ellipse cx="1114.0" cy="972.0" rx="8.8" ry="9.7"/><ellipse cx="1139.0" cy="1002.4" rx="8.8" ry="9.7"/><ellipse cx="1172.9" cy="944.5" rx="8.8" ry="9.7"/><ellipse cx="1176.3" cy="975.9" rx="8.8" ry="9.7"/><ellipse cx="1197.3" cy="952.0" rx="8.8" ry="9.7"/><ellipse cx="1256.1" cy="923.6" rx="8.8" ry="9.7"/><ellipse cx="1282.5" cy="942.0" rx="8.8" ry="9.7"/><ellipse cx="1279.5" cy="964.5" rx="8.8" ry="9.7"/><ellipse cx="1300.0" cy="952.5" rx="8.8" ry="9.7"/><ellipse cx="1308.4" cy="943.0" rx="8.8" ry="9.7"/></g>
</g>
<path d="M917.1 1310.6V1329.0M912.3 1310.6h9.6M912.3 1329.0h9.6M918.6 1412.8V1431.2M913.8 1412.8h9.6M913.8 1431.2h9.6M917.1 1482.6V1501.0M912.3 1482.6h9.6M912.3 1501.0h9.6M920.6 1532.5V1550.9M915.8 1532.5h9.6M915.8 1550.9h9.6M918.6 1549.9V1568.3M913.8 1549.9h9.6M913.8 1568.3h9.6M932.1 1562.4V1580.8M927.3 1562.4h9.6M927.3 1580.8h9.6M918.6 1582.3V1600.7M913.8 1582.3h9.6M913.8 1600.7h9.6M915.6 1594.8V1613.2M910.8 1594.8h9.6M910.8 1613.2h9.6M920.6 1619.7V1638.1M915.8 1619.7h9.6M915.8 1638.1h9.6M924.6 1639.6V1658.0M919.8 1639.6h9.6M919.8 1658.0h9.6M929.6 1607.2V1625.6M924.8 1607.2h9.6M924.8 1625.6h9.6M933.6 1622.2V1640.6M928.8 1622.2h9.6M928.8 1640.6h9.6M918.6 1639.6V1658.0M913.8 1639.6h9.6M913.8 1658.0h9.6M942.0 1651.1V1669.5M937.2 1651.1h9.6M937.2 1669.5h9.6M924.6 1664.6V1683.0M919.8 1664.6h9.6M919.8 1683.0h9.6M918.6 1674.5V1692.9M913.8 1674.5h9.6M913.8 1692.9h9.6M920.6 1684.5V1702.9M915.8 1684.5h9.6M915.8 1702.9h9.6M927.1 1689.5V1707.9M922.3 1689.5h9.6M922.3 1707.9h9.6M934.6 1697.0V1715.4M929.8 1697.0h9.6M929.8 1715.4h9.6M939.6 1687.0V1705.4M934.8 1687.0h9.6M934.8 1705.4h9.6M949.5 1689.5V1707.9M944.7 1689.5h9.6M944.7 1707.9h9.6M959.5 1697.0V1715.4M954.7 1697.0h9.6M954.7 1715.4h9.6M967.0 1701.9V1720.3M962.2 1701.9h9.6M962.2 1720.3h9.6M974.4 1684.5V1702.9M969.6 1684.5h9.6M969.6 1702.9h9.6M981.9 1697.0V1715.4M977.1 1697.0h9.6M977.1 1715.4h9.6M989.4 1692.0V1710.4M984.6 1692.0h9.6M984.6 1710.4h9.6M999.4 1699.5V1717.9M994.6 1699.5h9.6M994.6 1717.9h9.6M1009.3 1694.5V1712.9M1004.5 1694.5h9.6M1004.5 1712.9h9.6M1016.8 1701.9V1720.3M1012.0 1701.9h9.6M1012.0 1720.3h9.6M1026.8 1687.0V1705.4M1022.0 1687.0h9.6M1022.0 1705.4h9.6M1034.3 1694.5V1712.9M1029.5 1694.5h9.6M1029.5 1712.9h9.6M974.5 1690.2V1708.6M969.7 1690.2h9.6M969.7 1708.6h9.6M973.2 1692.6V1711.0M968.4 1692.6h9.6M968.4 1711.0h9.6M978.4 1693.2V1711.6M973.6 1693.2h9.6M973.6 1711.6h9.6M987.6 1689.7V1708.1M982.8 1689.7h9.6M982.8 1708.1h9.6M992.8 1691.7V1710.1M988.0 1691.7h9.6M988.0 1710.1h9.6M978.4 1691.6V1710.0M973.6 1691.6h9.6M973.6 1710.0h9.6M994.1 1691.5V1709.9M989.3 1691.5h9.6M989.3 1709.9h9.6M995.4 1689.5V1707.9M990.6 1689.5h9.6M990.6 1707.9h9.6M1000.6 1692.2V1710.6M995.8 1692.2h9.6M995.8 1710.6h9.6M1009.8 1692.9V1711.3M1005.0 1692.9h9.6M1005.0 1711.3h9.6M1015.0 1692.9V1711.3M1010.2 1692.9h9.6M1010.2 1711.3h9.6M1011.1 1690.8V1709.2M1006.3 1690.8h9.6M1006.3 1709.2h9.6M1021.5 1696.9V1715.3M1016.7 1696.9h9.6M1016.7 1715.3h9.6M1028.1 1693.3V1711.7M1023.3 1693.3h9.6M1023.3 1711.7h9.6M1037.2 1694.5V1712.9M1032.4 1694.5h9.6M1032.4 1712.9h9.6M1035.9 1693.5V1711.9M1031.1 1693.5h9.6M1031.1 1711.9h9.6M1034.6 1696.9V1715.3M1029.8 1696.9h9.6M1029.8 1715.3h9.6M1042.4 1693.2V1711.6M1037.6 1693.2h9.6M1037.6 1711.6h9.6M1051.6 1693.9V1712.3M1046.8 1693.9h9.6M1046.8 1712.3h9.6M1054.2 1697.3V1715.7M1049.4 1697.3h9.6M1049.4 1715.7h9.6M1058.1 1693.3V1711.7M1053.3 1693.3h9.6M1053.3 1711.7h9.6M1069.9 1699.5V1717.9M1065.1 1699.5h9.6M1065.1 1717.9h9.6M1073.8 1696.6V1715.0M1069.0 1696.6h9.6M1069.0 1715.0h9.6M1074.6 1699.5V1717.9M1069.8 1699.5h9.6M1069.8 1717.9h9.6M1074.6 1698.9V1717.3M1069.8 1698.9h9.6M1069.8 1717.3h9.6M1089.5 1696.6V1715.0M1084.7 1696.6h9.6M1084.7 1715.0h9.6M1092.1 1696.3V1714.7M1087.3 1696.3h9.6M1087.3 1714.7h9.6M1093.4 1697.8V1716.2M1088.6 1697.8h9.6M1088.6 1716.2h9.6M1101.3 1699.5V1717.9M1096.5 1699.5h9.6M1096.5 1717.9h9.6M1122.2 1698.3V1716.7M1117.4 1698.3h9.6M1117.4 1716.7h9.6M1122.7 1698.9V1717.3M1117.9 1698.9h9.6M1117.9 1717.3h9.6M1130.0 1699.5V1717.9M1125.2 1699.5h9.6M1125.2 1717.9h9.6M1133.4 1699.5V1717.9M1128.6 1699.5h9.6M1128.6 1717.9h9.6M1149.6 1699.5V1717.9M1144.8 1699.5h9.6M1144.8 1717.9h9.6M1153.5 1700.2V1718.6M1148.7 1700.2h9.6M1148.7 1718.6h9.6M1153.5 1701.7V1720.1M1148.7 1701.7h9.6M1148.7 1720.1h9.6M1154.8 1699.4V1717.8M1150.0 1699.4h9.6M1150.0 1717.8h9.6M1169.2 1701.0V1719.4M1164.4 1701.0h9.6M1164.4 1719.4h9.6M1184.9 1698.1V1716.5M1180.1 1698.1h9.6M1180.1 1716.5h9.6M1185.4 1697.1V1715.5M1180.6 1697.1h9.6M1180.6 1715.5h9.6M1191.4 1698.5V1716.9M1186.6 1698.5h9.6M1186.6 1716.9h9.6M1208.4 1701.4V1719.8M1203.6 1701.4h9.6M1203.6 1719.8h9.6M1212.3 1700.5V1718.9M1207.5 1700.5h9.6M1207.5 1718.9h9.6M1217.6 1698.9V1717.3M1212.8 1698.9h9.6M1212.8 1717.3h9.6M1217.6 1702.1V1720.5M1212.8 1702.1h9.6M1212.8 1720.5h9.6M1228.0 1698.6V1717.0M1223.2 1698.6h9.6M1223.2 1717.0h9.6M1231.9 1703.4V1721.8M1227.1 1703.4h9.6M1227.1 1721.8h9.6M1217.2 1697.4V1715.8M1212.4 1697.4h9.6M1212.4 1715.8h9.6M1217.7 1700.0V1718.4M1212.9 1700.0h9.6M1212.9 1718.4h9.6M1227.2 1698.8V1717.2M1222.4 1698.8h9.6M1222.4 1717.2h9.6M1231.2 1699.9V1718.3M1226.4 1699.9h9.6M1226.4 1718.3h9.6M1247.6 1698.5V1716.9M1242.8 1698.5h9.6M1242.8 1716.9h9.6M1248.6 1701.2V1719.6M1243.8 1701.2h9.6M1243.8 1719.6h9.6M1249.6 1703.3V1721.7M1244.8 1703.3h9.6M1244.8 1721.7h9.6M1251.1 1702.6V1721.0M1246.3 1702.6h9.6M1246.3 1721.0h9.6M1271.1 1699.3V1717.7M1266.3 1699.3h9.6M1266.3 1717.7h9.6M1291.0 1698.0V1716.4M1286.2 1698.0h9.6M1286.2 1716.4h9.6M1306.9 1702.8V1721.2M1302.1 1702.8h9.6M1302.1 1721.2h9.6M1312.4 1701.2V1719.6M1307.6 1701.2h9.6M1307.6 1719.6h9.6M1312.4 1699.4V1717.8M1307.6 1699.4h9.6M1307.6 1717.8h9.6M1330.9 1702.5V1720.9M1326.1 1702.5h9.6M1326.1 1720.9h9.6M1345.8 1703.0V1721.4M1341.0 1703.0h9.6M1341.0 1721.4h9.6M1344.8 1699.6V1718.0M1340.0 1699.6h9.6M1340.0 1718.0h9.6M1350.8 1703.7V1722.1M1346.0 1703.7h9.6M1346.0 1722.1h9.6M1369.8 1702.4V1720.8M1365.0 1702.4h9.6M1365.0 1720.8h9.6M1378.2 1700.8V1719.2M1373.4 1700.8h9.6M1373.4 1719.2h9.6M1385.7 1701.4V1719.8M1380.9 1701.4h9.6M1380.9 1719.8h9.6M1390.7 1698.6V1717.0M1385.9 1698.6h9.6M1385.9 1717.0h9.6M1405.7 1701.6V1720.0M1400.9 1701.6h9.6M1400.9 1720.0h9.6M1409.6 1702.0V1720.4M1404.8 1702.0h9.6M1404.8 1720.4h9.6M1425.6 1703.5V1721.9M1420.8 1703.5h9.6M1420.8 1721.9h9.6M1445.5 1699.5V1717.9M1440.7 1699.5h9.6M1440.7 1717.9h9.6M1450.5 1704.4V1722.8M1445.7 1704.4h9.6M1445.7 1722.8h9.6M1469.0 1704.6V1723.0M1464.2 1704.6h9.6M1464.2 1723.0h9.6M1489.4 1702.4V1720.8M1484.6 1702.4h9.6M1484.6 1720.8h9.6M1508.8 1699.7V1718.1M1504.0 1699.7h9.6M1504.0 1718.1h9.6M1528.8 1703.2V1721.6M1524.0 1703.2h9.6M1524.0 1721.6h9.6M1153.9 1699.6V1718.0M1149.1 1699.6h9.6M1149.1 1718.0h9.6M1153.9 1702.0V1720.4M1149.1 1702.0h9.6M1149.1 1720.4h9.6M1167.9 1701.0V1719.4M1163.1 1701.0h9.6M1163.1 1719.4h9.6M1171.4 1696.9V1715.3M1166.6 1696.9h9.6M1166.6 1715.3h9.6M1183.8 1697.6V1716.0M1179.0 1697.6h9.6M1179.0 1716.0h9.6M1186.3 1702.5V1720.9M1181.5 1702.5h9.6M1181.5 1720.9h9.6M1196.3 1697.2V1715.6M1191.5 1697.2h9.6M1191.5 1715.6h9.6M1207.7 1700.5V1718.9M1202.9 1700.5h9.6M1202.9 1718.9h9.6M1212.7 1702.6V1721.0M1207.9 1702.6h9.6M1207.9 1721.0h9.6M928.9 1673.1V1691.5M924.1 1673.1h9.6M924.1 1691.5h9.6M942.5 1694.3V1712.7M937.7 1694.3h9.6M937.7 1712.7h9.6M948.5 1661.1V1679.5M943.7 1661.1h9.6M943.7 1679.5h9.6M948.0 1676.4V1694.8M943.2 1676.4h9.6M943.2 1694.8h9.6M920.2 1579.7V1598.1M915.4 1579.7h9.6M915.4 1598.1h9.6M934.2 1633.9V1652.3M929.4 1633.9h9.6M929.4 1652.3h9.6M916.8 1508.8V1527.2M912.0 1508.8h9.6M912.0 1527.2h9.6M930.5 1665.2V1683.6M925.7 1665.2h9.6M925.7 1683.6h9.6M941.2 1696.8V1715.2M936.4 1696.8h9.6M936.4 1715.2h9.6M938.9 1695.2V1713.6M934.1 1695.2h9.6M934.1 1713.6h9.6M950.2 1659.6V1678.0M945.4 1659.6h9.6M945.4 1678.0h9.6M940.7 1694.1V1712.5M935.9 1694.1h9.6M935.9 1712.5h9.6M939.4 1696.2V1714.6M934.6 1696.2h9.6M934.6 1714.6h9.6M940.5 1691.9V1710.3M935.7 1691.9h9.6M935.7 1710.3h9.6M931.3 1658.3V1676.7M926.5 1658.3h9.6M926.5 1676.7h9.6M920.7 1583.9V1602.3M915.9 1583.9h9.6M915.9 1602.3h9.6M947.9 1679.8V1698.2M943.1 1679.8h9.6M943.1 1698.2h9.6M947.9 1653.1V1671.5M943.1 1653.1h9.6M943.1 1671.5h9.6M923.8 1614.7V1633.1M919.0 1614.7h9.6M919.0 1633.1h9.6M935.0 1665.5V1683.9M930.2 1665.5h9.6M930.2 1683.9h9.6M939.7 1667.6V1686.0M934.9 1667.6h9.6M934.9 1686.0h9.6M917.2 1508.8V1527.2M912.4 1508.8h9.6M912.4 1527.2h9.6M933.9 1674.2V1692.6M929.1 1674.2h9.6M929.1 1692.6h9.6M920.1 1593.9V1612.3M915.3 1593.9h9.6M915.3 1612.3h9.6M925.7 1649.5V1667.9M920.9 1649.5h9.6M920.9 1667.9h9.6M934.4 1668.0V1686.4M929.6 1668.0h9.6M929.6 1686.4h9.6M942.9 1683.1V1701.5M938.1 1683.1h9.6M938.1 1701.5h9.6M937.0 1659.7V1678.1M932.2 1659.7h9.6M932.2 1678.1h9.6M934.2 1692.7V1711.1M929.4 1692.7h9.6M929.4 1711.1h9.6M929.4 1662.9V1681.3M924.6 1662.9h9.6M924.6 1681.3h9.6M930.0 1673.9V1692.3M925.2 1673.9h9.6M925.2 1692.3h9.6M937.7 1694.9V1713.3M932.9 1694.9h9.6M932.9 1713.3h9.6M929.8 1680.7V1699.1M925.0 1680.7h9.6M925.0 1699.1h9.6M921.6 1625.9V1644.3M916.8 1625.9h9.6M916.8 1644.3h9.6M946.4 1690.9V1709.3M941.6 1690.9h9.6M941.6 1709.3h9.6M947.8 1675.3V1693.7M943.0 1675.3h9.6M943.0 1693.7h9.6M935.9 1697.0V1715.4M931.1 1697.0h9.6M931.1 1715.4h9.6M949.2 1683.6V1702.0M944.4 1683.6h9.6M944.4 1702.0h9.6M931.9 1688.0V1706.4M927.1 1688.0h9.6M927.1 1706.4h9.6M918.5 1536.5V1554.9M913.7 1536.5h9.6M913.7 1554.9h9.6M916.3 1508.8V1527.2M911.5 1508.8h9.6M911.5 1527.2h9.6M925.5 1629.7V1648.1M920.7 1629.7h9.6M920.7 1648.1h9.6M926.4 1664.1V1682.5M921.6 1664.1h9.6M921.6 1682.5h9.6M947.2 1688.6V1707.0M942.4 1688.6h9.6M942.4 1707.0h9.6M963.5 1686.5V1704.9M958.7 1686.5h9.6M958.7 1704.9h9.6M948.9 1686.6V1705.0M944.1 1686.6h9.6M944.1 1705.0h9.6M945.1 1678.9V1697.3M940.3 1678.9h9.6M940.3 1697.3h9.6M957.8 1671.4V1689.8M953.0 1671.4h9.6M953.0 1689.8h9.6M935.5 1689.1V1707.5M930.7 1689.1h9.6M930.7 1707.5h9.6M951.8 1676.6V1695.0M947.0 1676.6h9.6M947.0 1695.0h9.6M970.3 1675.9V1694.3M965.5 1675.9h9.6M965.5 1694.3h9.6M934.5 1677.4V1695.8M929.7 1677.4h9.6M929.7 1695.8h9.6M939.4 1685.9V1704.3M934.6 1685.9h9.6M934.6 1704.3h9.6M933.7 1696.4V1714.8M928.9 1696.4h9.6M928.9 1714.8h9.6M947.8 1674.4V1692.8M943.0 1674.4h9.6M943.0 1692.8h9.6M942.3 1696.3V1714.7M937.5 1696.3h9.6M937.5 1714.7h9.6M958.2 1689.9V1708.3M953.4 1689.9h9.6M953.4 1708.3h9.6M934.2 1691.8V1710.2M929.4 1691.8h9.6M929.4 1710.2h9.6M965.9 1673.8V1692.2M961.1 1673.8h9.6M961.1 1692.2h9.6M950.6 1684.8V1703.2M945.8 1684.8h9.6M945.8 1703.2h9.6M958.3 1688.2V1706.6M953.5 1688.2h9.6M953.5 1706.6h9.6M946.1 1676.9V1695.3M941.3 1676.9h9.6M941.3 1695.3h9.6M957.3 1674.1V1692.5M952.5 1674.1h9.6M952.5 1692.5h9.6M953.5 1675.7V1694.1M948.7 1675.7h9.6M948.7 1694.1h9.6M964.0 1691.0V1709.4M959.2 1691.0h9.6M959.2 1709.4h9.6M956.3 1682.7V1701.1M951.5 1682.7h9.6M951.5 1701.1h9.6M937.1 1691.4V1709.8M932.3 1691.4h9.6M932.3 1709.8h9.6M946.3 1672.6V1691.0M941.5 1672.6h9.6M941.5 1691.0h9.6M932.1 1672.2V1690.6M927.3 1672.2h9.6M927.3 1690.6h9.6M968.6 1686.7V1705.1M963.8 1686.7h9.6M963.8 1705.1h9.6M955.6 1689.2V1707.6M950.8 1689.2h9.6M950.8 1707.6h9.6M932.4 1696.6V1715.0M927.6 1696.6h9.6M927.6 1715.0h9.6M959.8 1691.2V1709.6M955.0 1691.2h9.6M955.0 1709.6h9.6M951.0 1689.7V1708.1M946.2 1689.7h9.6M946.2 1708.1h9.6M915.6 1342.0V1360.4M910.8 1342.0h9.6M910.8 1360.4h9.6M918.6 1360.5V1378.9M913.8 1360.5h9.6M913.8 1378.9h9.6M917.1 1368.9V1387.3M912.3 1368.9h9.6M912.3 1387.3h9.6M916.1 1403.8V1422.2M911.3 1403.8h9.6M911.3 1422.2h9.6M917.1 1412.8V1431.2M912.3 1412.8h9.6M912.3 1431.2h9.6M917.1 1449.2V1467.6M912.3 1449.2h9.6M912.3 1467.6h9.6M925.6 1448.7V1467.1M920.8 1448.7h9.6M920.8 1467.1h9.6M918.6 1468.6V1487.0M913.8 1468.6h9.6M913.8 1487.0h9.6M914.6 1482.6V1501.0M909.8 1482.6h9.6M909.8 1501.0h9.6M919.6 1510.0V1528.4M914.8 1510.0h9.6M914.8 1528.4h9.6M913.6 1524.0V1542.4M908.8 1524.0h9.6M908.8 1542.4h9.6M915.6 1532.5V1550.9M910.8 1532.5h9.6M910.8 1550.9h9.6M923.6 1537.4V1555.8M918.8 1537.4h9.6M918.8 1555.8h9.6M918.6 1553.4V1571.8M913.8 1553.4h9.6M913.8 1571.8h9.6M924.6 1554.9V1573.3M919.8 1554.9h9.6M919.8 1573.3h9.6M920.6 1564.9V1583.3M915.8 1564.9h9.6M915.8 1583.3h9.6M919.6 1609.7V1628.1M914.8 1609.7h9.6M914.8 1628.1h9.6M933.1 1614.7V1633.1M928.3 1614.7h9.6M928.3 1633.1h9.6M934.6 1624.7V1643.1M929.8 1624.7h9.6M929.8 1643.1h9.6M922.1 1652.1V1670.5M917.3 1652.1h9.6M917.3 1670.5h9.6M934.6 1648.1V1666.5M929.8 1648.1h9.6M929.8 1666.5h9.6M922.1 1687.0V1705.4M917.3 1687.0h9.6M917.3 1705.4h9.6M923.6 1701.9V1720.3M918.8 1701.9h9.6M918.8 1720.3h9.6M925.6 1710.4V1728.8M920.8 1710.4h9.6M920.8 1728.8h9.6M942.0 1684.5V1702.9M937.2 1684.5h9.6M937.2 1702.9h9.6M949.5 1687.0V1705.4M944.7 1687.0h9.6M944.7 1705.4h9.6M964.5 1671.0V1689.4M959.7 1671.0h9.6M959.7 1689.4h9.6M971.0 1689.5V1707.9M966.2 1689.5h9.6M966.2 1707.9h9.6M981.9 1700.9V1719.3M977.1 1700.9h9.6M977.1 1719.3h9.6M1007.8 1696.0V1714.4M1003.0 1696.0h9.6M1003.0 1714.4h9.6M1024.3 1692.0V1710.4M1019.5 1692.0h9.6M1019.5 1710.4h9.6M1028.3 1704.4V1722.8M1023.5 1704.4h9.6M1023.5 1722.8h9.6M1045.7 1689.5V1707.9M1040.9 1689.5h9.6M1040.9 1707.9h9.6M1060.2 1703.4V1721.8M1055.4 1703.4h9.6M1055.4 1721.8h9.6M1080.1 1701.9V1720.3M1075.3 1701.9h9.6M1075.3 1720.3h9.6M1107.5 1701.9V1720.3M1102.7 1701.9h9.6M1102.7 1720.3h9.6M1114.0 1691.0V1709.4M1109.2 1691.0h9.6M1109.2 1709.4h9.6M1139.0 1696.0V1714.4M1134.2 1696.0h9.6M1134.2 1714.4h9.6M1173.8 1704.4V1722.8M1169.0 1704.4h9.6M1169.0 1722.8h9.6M1197.8 1698.5V1716.9M1193.0 1698.5h9.6M1193.0 1716.9h9.6M1256.1 1701.9V1720.3M1251.3 1701.9h9.6M1251.3 1720.3h9.6M1281.0 1703.4V1721.8M1276.2 1703.4h9.6M1276.2 1721.8h9.6M1283.5 1703.4V1721.8M1278.7 1703.4h9.6M1278.7 1721.8h9.6M1301.0 1704.4V1722.8M1296.2 1704.4h9.6M1296.2 1722.8h9.6M1309.4 1700.9V1719.3M1304.6 1700.9h9.6M1304.6 1719.3h9.6" stroke="#000" stroke-width="1.8" fill="none"/>
<g fill="#9bbb59" stroke="#2f3a17" stroke-width="0.9"><ellipse cx="917.1" cy="1319.8" rx="7.3" ry="8.0"/><ellipse cx="918.6" cy="1422.0" rx="7.3" ry="8.0"/><ellipse cx="917.1" cy="1491.8" rx="7.3" ry="8.0"/><ellipse cx="920.6" cy="1541.7" rx="7.3" ry="8.0"/><ellipse cx="918.6" cy="1559.1" rx="7.3" ry="8.0"/><ellipse cx="932.1" cy="1571.6" rx="7.3" ry="8.0"/><ellipse cx="918.6" cy="1591.5" rx="7.3" ry="8.0"/><ellipse cx="915.6" cy="1604.0" rx="7.3" ry="8.0"/><ellipse cx="920.6" cy="1628.9" rx="7.3" ry="8.0"/><ellipse cx="924.6" cy="1648.8" rx="7.3" ry="8.0"/><ellipse cx="929.6" cy="1616.4" rx="7.3" ry="8.0"/><ellipse cx="933.6" cy="1631.4" rx="7.3" ry="8.0"/><ellipse cx="918.6" cy="1648.8" rx="7.3" ry="8.0"/><ellipse cx="942.0" cy="1660.3" rx="7.3" ry="8.0"/><ellipse cx="924.6" cy="1673.8" rx="7.3" ry="8.0"/><ellipse cx="918.6" cy="1683.7" rx="7.3" ry="8.0"/><ellipse cx="920.6" cy="1693.7" rx="7.3" ry="8.0"/><ellipse cx="927.1" cy="1698.7" rx="7.3" ry="8.0"/><ellipse cx="934.6" cy="1706.2" rx="7.3" ry="8.0"/><ellipse cx="939.6" cy="1696.2" rx="7.3" ry="8.0"/><ellipse cx="949.5" cy="1698.7" rx="7.3" ry="8.0"/><ellipse cx="959.5" cy="1706.2" rx="7.3" ry="8.0"/><ellipse cx="967.0" cy="1711.1" rx="7.3" ry="8.0"/><ellipse cx="974.4" cy="1693.7" rx="7.3" ry="8.0"/><ellipse cx="981.9" cy="1706.2" rx="7.3" ry="8.0"/><ellipse cx="989.4" cy="1701.2" rx="7.3" ry="8.0"/><ellipse cx="999.4" cy="1708.7" rx="7.3" ry="8.0"/><ellipse cx="1009.3" cy="1703.7" rx="7.3" ry="8.0"/><ellipse cx="1016.8" cy="1711.1" rx="7.3" ry="8.0"/><ellipse cx="1026.8" cy="1696.2" rx="7.3" ry="8.0"/><ellipse cx="1034.3" cy="1703.7" rx="7.3" ry="8.0"/><ellipse cx="974.5" cy="1699.4" rx="7.3" ry="8.0"/><ellipse cx="973.2" cy="1701.8" rx="7.3" ry="8.0"/><ellipse cx="978.4" cy="1702.4" rx="7.3" ry="8.0"/><ellipse cx="987.6" cy="1698.9" rx="7.3" ry="8.0"/><ellipse cx="992.8" cy="1700.9" rx="7.3" ry="8.0"/><ellipse cx="978.4" cy="1700.8" rx="7.3" ry="8.0"/><ellipse cx="994.1" cy="1700.7" rx="7.3" ry="8.0"/><ellipse cx="995.4" cy="1698.7" rx="7.3" ry="8.0"/><ellipse cx="1000.6" cy="1701.4" rx="7.3" ry="8.0"/><ellipse cx="1009.8" cy="1702.1" rx="7.3" ry="8.0"/><ellipse cx="1015.0" cy="1702.1" rx="7.3" ry="8.0"/><ellipse cx="1011.1" cy="1700.0" rx="7.3" ry="8.0"/><ellipse cx="1021.5" cy="1706.1" rx="7.3" ry="8.0"/><ellipse cx="1028.1" cy="1702.5" rx="7.3" ry="8.0"/><ellipse cx="1037.2" cy="1703.7" rx="7.3" ry="8.0"/><ellipse cx="1035.9" cy="1702.7" rx="7.3" ry="8.0"/><ellipse cx="1034.6" cy="1706.1" rx="7.3" ry="8.0"/><ellipse cx="1042.4" cy="1702.4" rx="7.3" ry="8.0"/><ellipse cx="1051.6" cy="1703.1" rx="7.3" ry="8.0"/><ellipse cx="1054.2" cy="1706.5" rx="7.3" ry="8.0"/><ellipse cx="1058.1" cy="1702.5" rx="7.3" ry="8.0"/><ellipse cx="1069.9" cy="1708.7" rx="7.3" ry="8.0"/><ellipse cx="1073.8" cy="1705.8" rx="7.3" ry="8.0"/><ellipse cx="1074.6" cy="1708.7" rx="7.3" ry="8.0"/><ellipse cx="1074.6" cy="1708.1" rx="7.3" ry="8.0"/><ellipse cx="1089.5" cy="1705.8" rx="7.3" ry="8.0"/><ellipse cx="1092.1" cy="1705.5" rx="7.3" ry="8.0"/><ellipse cx="1093.4" cy="1707.0" rx="7.3" ry="8.0"/><ellipse cx="1101.3" cy="1708.7" rx="7.3" ry="8.0"/><ellipse cx="1122.2" cy="1707.5" rx="7.3" ry="8.0"/><ellipse cx="1122.7" cy="1708.1" rx="7.3" ry="8.0"/><ellipse cx="1130.0" cy="1708.7" rx="7.3" ry="8.0"/><ellipse cx="1133.4" cy="1708.7" rx="7.3" ry="8.0"/><ellipse cx="1149.6" cy="1708.7" rx="7.3" ry="8.0"/><ellipse cx="1153.5" cy="1709.4" rx="7.3" ry="8.0"/><ellipse cx="1153.5" cy="1710.9" rx="7.3" ry="8.0"/><ellipse cx="1154.8" cy="1708.6" rx="7.3" ry="8.0"/><ellipse cx="1169.2" cy="1710.2" rx="7.3" ry="8.0"/><ellipse cx="1184.9" cy="1707.3" rx="7.3" ry="8.0"/><ellipse cx="1185.4" cy="1706.3" rx="7.3" ry="8.0"/><ellipse cx="1191.4" cy="1707.7" rx="7.3" ry="8.0"/><ellipse cx="1208.4" cy="1710.6" rx="7.3" ry="8.0"/><ellipse cx="1212.3" cy="1709.7" rx="7.3" ry="8.0"/><ellipse cx="1217.6" cy="1708.1" rx="7.3" ry="8.0"/><ellipse cx="1217.6" cy="1711.3" rx="7.3" ry="8.0"/><ellipse cx="1228.0" cy="1707.8" rx="7.3" ry="8.0"/><ellipse cx="1231.9" cy="1712.6" rx="7.3" ry="8.0"/><ellipse cx="1217.2" cy="1706.6" rx="7.3" ry="8.0"/><ellipse cx="1217.7" cy="1709.2" rx="7.3" ry="8.0"/><ellipse cx="1227.2" cy="1708.0" rx="7.3" ry="8.0"/><ellipse cx="1231.2" cy="1709.1" rx="7.3" ry="8.0"/><ellipse cx="1247.6" cy="1707.7" rx="7.3" ry="8.0"/><ellipse cx="1248.6" cy="1710.4" rx="7.3" ry="8.0"/><ellipse cx="1249.6" cy="1712.5" rx="7.3" ry="8.0"/><ellipse cx="1251.1" cy="1711.8" rx="7.3" ry="8.0"/><ellipse cx="1271.1" cy="1708.5" rx="7.3" ry="8.0"/><ellipse cx="1291.0" cy="1707.2" rx="7.3" ry="8.0"/><ellipse cx="1306.9" cy="1712.0" rx="7.3" ry="8.0"/><ellipse cx="1312.4" cy="1710.4" rx="7.3" ry="8.0"/><ellipse cx="1312.4" cy="1708.6" rx="7.3" ry="8.0"/><ellipse cx="1330.9" cy="1711.7" rx="7.3" ry="8.0"/><ellipse cx="1345.8" cy="1712.2" rx="7.3" ry="8.0"/><ellipse cx="1344.8" cy="1708.8" rx="7.3" ry="8.0"/><ellipse cx="1350.8" cy="1712.9" rx="7.3" ry="8.0"/><ellipse cx="1369.8" cy="1711.6" rx="7.3" ry="8.0"/><ellipse cx="1378.2" cy="1710.0" rx="7.3" ry="8.0"/><ellipse cx="1385.7" cy="1710.6" rx="7.3" ry="8.0"/><ellipse cx="1390.7" cy="1707.8" rx="7.3" ry="8.0"/><ellipse cx="1405.7" cy="1710.8" rx="7.3" ry="8.0"/><ellipse cx="1409.6" cy="1711.2" rx="7.3" ry="8.0"/><ellipse cx="1425.6" cy="1712.7" rx="7.3" ry="8.0"/><ellipse cx="1445.5" cy="1708.7" rx="7.3" ry="8.0"/><ellipse cx="1450.5" cy="1713.6" rx="7.3" ry="8.0"/><ellipse cx="1469.0" cy="1713.8" rx="7.3" ry="8.0"/><ellipse cx="1489.4" cy="1711.6" rx="7.3" ry="8.0"/><ellipse cx="1508.8" cy="1708.9" rx="7.3" ry="8.0"/><ellipse cx="1528.8" cy="1712.4" rx="7.3" ry="8.0"/><ellipse cx="1153.9" cy="1708.8" rx="7.3" ry="8.0"/><ellipse cx="1153.9" cy="1711.2" rx="7.3" ry="8.0"/><ellipse cx="1167.9" cy="1710.2" rx="7.3" ry="8.0"/><ellipse cx="1171.4" cy="1706.1" rx="7.3" ry="8.0"/><ellipse cx="1183.8" cy="1706.8" rx="7.3" ry="8.0"/><ellipse cx="1186.3" cy="1711.7" rx="7.3" ry="8.0"/><ellipse cx="1196.3" cy="1706.4" rx="7.3" ry="8.0"/><ellipse cx="1207.7" cy="1709.7" rx="7.3" ry="8.0"/><ellipse cx="1212.7" cy="1711.8" rx="7.3" ry="8.0"/><ellipse cx="928.9" cy="1682.3" rx="7.3" ry="8.0"/><ellipse cx="942.5" cy="1703.5" rx="7.3" ry="8.0"/><ellipse cx="948.5" cy="1670.3" rx="7.3" ry="8.0"/><ellipse cx="948.0" cy="1685.6" rx="7.3" ry="8.0"/><ellipse cx="920.2" cy="1588.9" rx="7.3" ry="8.0"/><ellipse cx="934.2" cy="1643.1" rx="7.3" ry="8.0"/><ellipse cx="916.8" cy="1518.0" rx="7.3" ry="8.0"/><ellipse cx="930.5" cy="1674.4" rx="7.3" ry="8.0"/><ellipse cx="941.2" cy="1706.0" rx="7.3" ry="8.0"/><ellipse cx="938.9" cy="1704.4" rx="7.3" ry="8.0"/><ellipse cx="950.2" cy="1668.8" rx="7.3" ry="8.0"/><ellipse cx="940.7" cy="1703.3" rx="7.3" ry="8.0"/><ellipse cx="939.4" cy="1705.4" rx="7.3" ry="8.0"/><ellipse cx="940.5" cy="1701.1" rx="7.3" ry="8.0"/><ellipse cx="931.3" cy="1667.5" rx="7.3" ry="8.0"/><ellipse cx="920.7" cy="1593.1" rx="7.3" ry="8.0"/><ellipse cx="947.9" cy="1689.0" rx="7.3" ry="8.0"/><ellipse cx="947.9" cy="1662.3" rx="7.3" ry="8.0"/><ellipse cx="923.8" cy="1623.9" rx="7.3" ry="8.0"/><ellipse cx="935.0" cy="1674.7" rx="7.3" ry="8.0"/><ellipse cx="939.7" cy="1676.8" rx="7.3" ry="8.0"/><ellipse cx="917.2" cy="1518.0" rx="7.3" ry="8.0"/><ellipse cx="933.9" cy="1683.4" rx="7.3" ry="8.0"/><ellipse cx="920.1" cy="1603.1" rx="7.3" ry="8.0"/><ellipse cx="925.7" cy="1658.7" rx="7.3" ry="8.0"/><ellipse cx="934.4" cy="1677.2" rx="7.3" ry="8.0"/><ellipse cx="942.9" cy="1692.3" rx="7.3" ry="8.0"/><ellipse cx="937.0" cy="1668.9" rx="7.3" ry="8.0"/><ellipse cx="934.2" cy="1701.9" rx="7.3" ry="8.0"/><ellipse cx="929.4" cy="1672.1" rx="7.3" ry="8.0"/><ellipse cx="930.0" cy="1683.1" rx="7.3" ry="8.0"/><ellipse cx="937.7" cy="1704.1" rx="7.3" ry="8.0"/><ellipse cx="929.8" cy="1689.9" rx="7.3" ry="8.0"/><ellipse cx="921.6" cy="1635.1" rx="7.3" ry="8.0"/><ellipse cx="946.4" cy="1700.1" rx="7.3" ry="8.0"/><ellipse cx="947.8" cy="1684.5" rx="7.3" ry="8.0"/><ellipse cx="935.9" cy="1706.2" rx="7.3" ry="8.0"/><ellipse cx="949.2" cy="1692.8" rx="7.3" ry="8.0"/><ellipse cx="931.9" cy="1697.2" rx="7.3" ry="8.0"/><ellipse cx="918.5" cy="1545.7" rx="7.3" ry="8.0"/><ellipse cx="916.3" cy="1518.0" rx="7.3" ry="8.0"/><ellipse cx="925.5" cy="1638.9" rx="7.3" ry="8.0"/><ellipse cx="926.4" cy="1673.3" rx="7.3" ry="8.0"/><ellipse cx="947.2" cy="1697.8" rx="7.3" ry="8.0"/><ellipse cx="963.5" cy="1695.7" rx="7.3" ry="8.0"/><ellipse cx="948.9" cy="1695.8" rx="7.3" ry="8.0"/><ellipse cx="945.1" cy="1688.1" rx="7.3" ry="8.0"/><ellipse cx="957.8" cy="1680.6" rx="7.3" ry="8.0"/><ellipse cx="935.5" cy="1698.3" rx="7.3" ry="8.0"/><ellipse cx="951.8" cy="1685.8" rx="7.3" ry="8.0"/><ellipse cx="970.3" cy="1685.1" rx="7.3" ry="8.0"/><ellipse cx="934.5" cy="1686.6" rx="7.3" ry="8.0"/><ellipse cx="939.4" cy="1695.1" rx="7.3" ry="8.0"/><ellipse cx="933.7" cy="1705.6" rx="7.3" ry="8.0"/><ellipse cx="947.8" cy="1683.6" rx="7.3" ry="8.0"/><ellipse cx="942.3" cy="1705.5" rx="7.3" ry="8.0"/><ellipse cx="958.2" cy="1699.1" rx="7.3" ry="8.0"/><ellipse cx="934.2" cy="1701.0" rx="7.3" ry="8.0"/><ellipse cx="965.9" cy="1683.0" rx="7.3" ry="8.0"/><ellipse cx="950.6" cy="1694.0" rx="7.3" ry="8.0"/><ellipse cx="958.3" cy="1697.4" rx="7.3" ry="8.0"/><ellipse cx="946.1" cy="1686.1" rx="7.3" ry="8.0"/><ellipse cx="957.3" cy="1683.3" rx="7.3" ry="8.0"/><ellipse cx="953.5" cy="1684.9" rx="7.3" ry="8.0"/><ellipse cx="964.0" cy="1700.2" rx="7.3" ry="8.0"/><ellipse cx="956.3" cy="1691.9" rx="7.3" ry="8.0"/><ellipse cx="937.1" cy="1700.6" rx="7.3" ry="8.0"/><ellipse cx="946.3" cy="1681.8" rx="7.3" ry="8.0"/><ellipse cx="932.1" cy="1681.4" rx="7.3" ry="8.0"/><ellipse cx="968.6" cy="1695.9" rx="7.3" ry="8.0"/><ellipse cx="955.6" cy="1698.4" rx="7.3" ry="8.0"/><ellipse cx="932.4" cy="1705.8" rx="7.3" ry="8.0"/><ellipse cx="959.8" cy="1700.4" rx="7.3" ry="8.0"/><ellipse cx="951.0" cy="1698.9" rx="7.3" ry="8.0"/></g>
<g fill="#4f81bd" stroke="#17273d" stroke-width="0.9"><ellipse cx="915.6" cy="1351.2" rx="4.8" ry="5.3"/><ellipse cx="918.6" cy="1369.7" rx="4.8" ry="5.3"/><ellipse cx="917.1" cy="1378.1" rx="4.8" ry="5.3"/><ellipse cx="916.1" cy="1413.0" rx="4.8" ry="5.3"/><ellipse cx="917.1" cy="1422.0" rx="4.8" ry="5.3"/><ellipse cx="917.1" cy="1458.4" rx="4.8" ry="5.3"/><ellipse cx="925.6" cy="1457.9" rx="4.8" ry="5.3"/><ellipse cx="918.6" cy="1477.8" rx="4.8" ry="5.3"/><ellipse cx="914.6" cy="1491.8" rx="4.8" ry="5.3"/><ellipse cx="919.6" cy="1519.2" rx="4.8" ry="5.3"/><ellipse cx="913.6" cy="1533.2" rx="4.8" ry="5.3"/><ellipse cx="915.6" cy="1541.7" rx="4.8" ry="5.3"/><ellipse cx="923.6" cy="1546.6" rx="4.8" ry="5.3"/><ellipse cx="918.6" cy="1562.6" rx="4.8" ry="5.3"/><ellipse cx="924.6" cy="1564.1" rx="4.8" ry="5.3"/><ellipse cx="920.6" cy="1574.1" rx="4.8" ry="5.3"/><ellipse cx="919.6" cy="1618.9" rx="4.8" ry="5.3"/><ellipse cx="933.1" cy="1623.9" rx="4.8" ry="5.3"/><ellipse cx="934.6" cy="1633.9" rx="4.8" ry="5.3"/><ellipse cx="922.1" cy="1661.3" rx="4.8" ry="5.3"/><ellipse cx="934.6" cy="1657.3" rx="4.8" ry="5.3"/><ellipse cx="922.1" cy="1696.2" rx="4.8" ry="5.3"/><ellipse cx="923.6" cy="1711.1" rx="4.8" ry="5.3"/><ellipse cx="925.6" cy="1719.6" rx="4.8" ry="5.3"/></g>
<g fill="#c0504d" stroke="#3d1716" stroke-width="0.9"><ellipse cx="942.0" cy="1693.7" rx="8.8" ry="9.7"/><ellipse cx="949.5" cy="1696.2" rx="8.8" ry="9.7"/><ellipse cx="964.5" cy="1680.2" rx="8.8" ry="9.7"/><ellipse cx="971.0" cy="1698.7" rx="8.8" ry="9.7"/><ellipse cx="981.9" cy="1710.1" rx="8.8" ry="9.7"/><ellipse cx="1007.8" cy="1705.2" rx="8.8" ry="9.7"/><ellipse cx="1024.3" cy="1701.2" rx="8.8" ry="9.7"/><ellipse cx="1028.3" cy="1713.6" rx="8.8" ry="9.7"/><ellipse cx="1045.7" cy="1698.7" rx="8.8" ry="9.7"/><ellipse cx="1060.2" cy="1712.6" rx="8.8" ry="9.7"/><ellipse cx="1080.1" cy="1711.1" rx="8.8" ry="9.7"/><ellipse cx="1107.5" cy="1711.1" rx="8.8" ry="9.7"/><ellipse cx="1114.0" cy="1700.2" rx="8.8" ry="9.7"/><ellipse cx="1139.0" cy="1705.2" rx="8.8" ry="9.7"/><ellipse cx="1173.8" cy="1713.6" rx="8.8" ry="9.7"/><ellipse cx="1197.8" cy="1707.7" rx="8.8" ry="9.7"/><ellipse cx="1256.1" cy="1711.1" rx="8.8" ry="9.7"/><ellipse cx="1281.0" cy="1712.6" rx="8.8" ry="9.7"/><ellipse cx="1283.5" cy="1712.6" rx="8.8" ry="9.7"/><ellipse cx="1301.0" cy="1713.6" rx="8.8" ry="9.7"/><ellipse cx="1309.4" cy="1710.1" rx="8.8" ry="9.7"/></g>
<text x="872.6" y="832.8" font-size="33" text-anchor="middle" textLength="19.0" lengthAdjust="spacingAndGlyphs">9</text>
<text x="872.6" y="925.0" font-size="33" text-anchor="middle" textLength="20.5" lengthAdjust="spacingAndGlyphs">4</text>
<text x="872.6" y="1015.8" font-size="33" text-anchor="middle" textLength="26.5" lengthAdjust="spacingAndGlyphs">-1</text>
<text x="872.6" y="1107.0" font-size="33" text-anchor="middle" textLength="26.5" lengthAdjust="spacingAndGlyphs">-6</text>
<text x="872.6" y="1199.2" font-size="33" text-anchor="middle" textLength="48.5" lengthAdjust="spacingAndGlyphs">-11</text>
<text x="872.6" y="1286.4" font-size="33" text-anchor="middle" textLength="48.5" lengthAdjust="spacingAndGlyphs">-16</text>
<text x="878.0" y="1345.2" font-size="33" text-anchor="middle" textLength="38.0" lengthAdjust="spacingAndGlyphs">14</text>
<text x="878.0" y="1405.0" font-size="33" text-anchor="middle" textLength="38.0" lengthAdjust="spacingAndGlyphs">12</text>
<text x="878.0" y="1462.4" font-size="33" text-anchor="middle" textLength="38.0" lengthAdjust="spacingAndGlyphs">10</text>
<text x="878.0" y="1518.2" font-size="33" text-anchor="middle" textLength="19.5" lengthAdjust="spacingAndGlyphs">8</text>
<text x="878.0" y="1575.4" font-size="33" text-anchor="middle" textLength="19.5" lengthAdjust="spacingAndGlyphs">6</text>
<text x="878.0" y="1632.8" font-size="33" text-anchor="middle" textLength="19.5" lengthAdjust="spacingAndGlyphs">4</text>
<text x="878.0" y="1689.1" font-size="33" text-anchor="middle" textLength="19.5" lengthAdjust="spacingAndGlyphs">2</text>
<text x="878.0" y="1748.0" font-size="33" text-anchor="middle" textLength="19.5" lengthAdjust="spacingAndGlyphs">0</text>
<text x="915.6" y="1780.3" font-size="36" text-anchor="middle" textLength="21.0" lengthAdjust="spacingAndGlyphs">0</text>
<text x="1028.0" y="1780.3" font-size="36" text-anchor="middle" textLength="64.5" lengthAdjust="spacingAndGlyphs">200</text>
<text x="1127.0" y="1780.3" font-size="36" text-anchor="middle" textLength="64.5" lengthAdjust="spacingAndGlyphs">400</text>
<text x="1227.0" y="1780.3" font-size="36" text-anchor="middle" textLength="64.5" lengthAdjust="spacingAndGlyphs">600</text>
<text x="1325.5" y="1780.3" font-size="36" text-anchor="middle" textLength="64.5" lengthAdjust="spacingAndGlyphs">800</text>
<text x="1431.2" y="1780.3" font-size="36" text-anchor="middle" textLength="83.5" lengthAdjust="spacingAndGlyphs">1000</text>
<text x="1528.4" y="1780.3" font-size="36" text-anchor="middle" textLength="83.5" lengthAdjust="spacingAndGlyphs">1200</text>
<text x="1238.8" y="1825.8" font-size="33" text-anchor="middle" font-weight="bold" textLength="341.6" lengthAdjust="spacingAndGlyphs">Distance to rim(<tspan font-weight="normal">µm</tspan>)</text>
<g transform="translate(841.4,1572) rotate(-90)"><text x="-3.1" y="0" font-size="42" textLength="156" lengthAdjust="spacing">Li(ppm)</text></g>
<g transform="translate(844.5,1087.4) rotate(-90)"><text x="11.2" y="0.0" font-size="57" text-anchor="middle" font-family='"Liberation Serif", "DejaVu Serif", serif'>δ</text><text x="33.0" y="-26.7" font-size="28" text-anchor="middle">7</text><text x="59.3" y="0.0" font-size="55" text-anchor="middle">L</text><text x="83.4" y="0.0" font-size="55" text-anchor="middle">i</text><text x="101.3" y="0.0" font-size="55" text-anchor="middle">(</text><text x="137.3" y="0.0" font-size="58" text-anchor="middle" font-family='"Liberation Serif", "DejaVu Serif", serif' textLength="46" lengthAdjust="spacingAndGlyphs">‰</text><text x="172.6" y="0.0" font-size="55" text-anchor="middle">)</text></g>
<text x="1521.0" y="862.5" font-size="46" text-anchor="start">e</text>
<text x="1522.0" y="1324.5" font-size="42" text-anchor="start">f</text>
<rect x="1170" y="1128" width="284.5" height="115.6" fill="#fff" stroke="#7f7f7f" stroke-width="1.8"/>
<ellipse cx="1194.3" cy="1152.7" rx="8.6" ry="9.8" fill="#c0504d" stroke="#3d1716" stroke-width="0.9"/>
<ellipse cx="1194.3" cy="1187.7" rx="7.3" ry="8.5" fill="#9bbb59" stroke="#2f3a17" stroke-width="0.9"/>
<ellipse cx="1194.3" cy="1223.8" rx="5.3" ry="6.4" fill="#4f81bd" stroke="#17273d" stroke-width="0.9"/>
<text x="1210.5" y="1161.6" font-size="24.5" text-anchor="start" textLength="217.0" lengthAdjust="spacingAndGlyphs">PlesoviceL-20µm</text>
<text x="1210.5" y="1196.3" font-size="24.5" text-anchor="start" textLength="217.0" lengthAdjust="spacingAndGlyphs">PlesoviceL-10µm</text>
<text x="1210.5" y="1232.0" font-size="24.5" text-anchor="start" textLength="201.0" lengthAdjust="spacingAndGlyphs">PlesoviceL-5µm</text>
</svg></body></html>
